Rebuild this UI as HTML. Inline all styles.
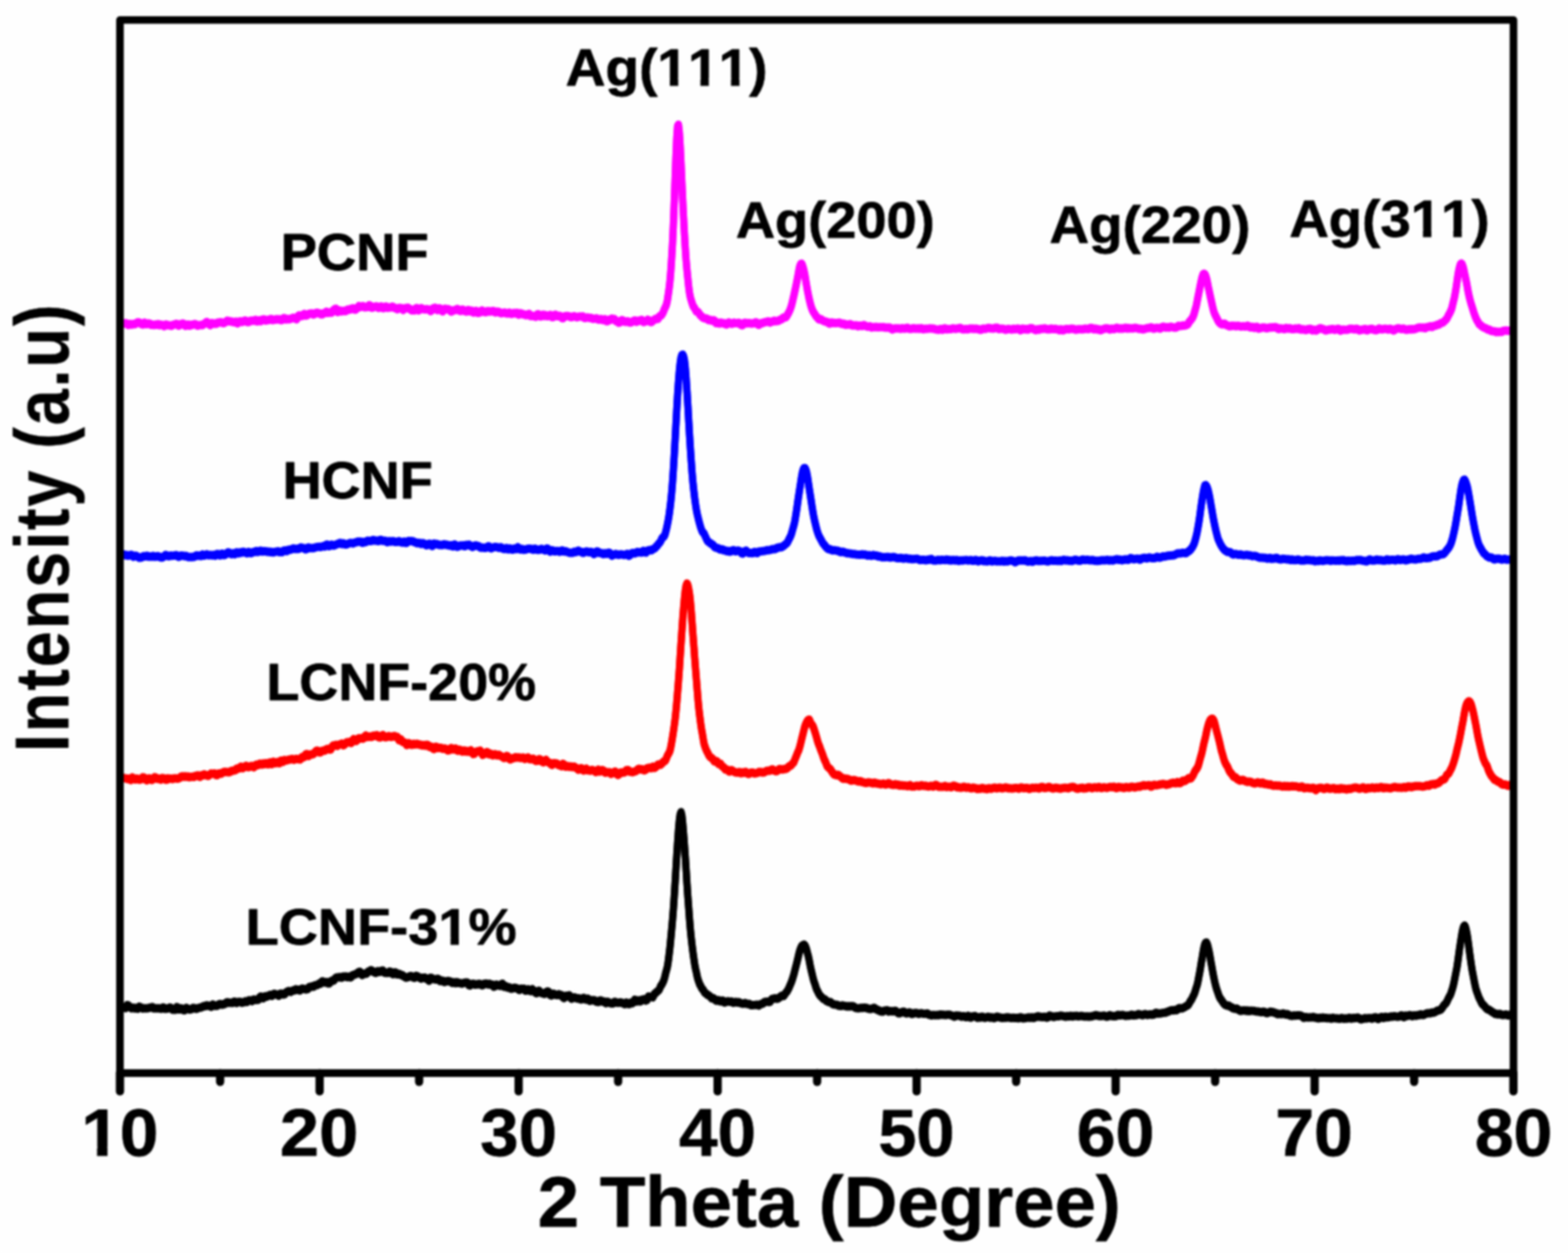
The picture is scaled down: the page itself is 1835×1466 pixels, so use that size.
<!DOCTYPE html>
<html><head><meta charset="utf-8"><title>XRD</title><style>html,body{margin:0;padding:0;background:#fefefe;overflow:hidden}svg{display:block;filter:blur(1.1px)}</style></head><body>
<svg xmlns="http://www.w3.org/2000/svg" width="1835" height="1466" viewBox="0 0 1835 1466">
<defs><clipPath id="clip0" clipPathUnits="userSpaceOnUse"><path clip-rule="evenodd" d="M0,0H1835V1466H0ZM770.4,91.8H783.9V103.8H770.4ZM793.7,91.8H819.7V103.8H793.7ZM829.5,91.8H855.5V103.8H829.5ZM865.4,91.8H878.0V103.8H865.4Z"/></clipPath><clipPath id="clip1" clipPathUnits="userSpaceOnUse"><path clip-rule="evenodd" d="M0,0H1835V1466H0ZM1651.9,268.5H1665.3V280.5H1651.9ZM1675.1,268.5H1700.8V280.5H1675.1ZM1710.6,268.5H1723.2V280.5H1710.6Z"/></clipPath><clipPath id="clip2" clipPathUnits="userSpaceOnUse"><path clip-rule="evenodd" d="M0,0H1835V1466H0ZM514.0,1096.7H527.3V1108.6H514.0ZM537.0,1096.7H549.5V1108.6H537.0Z"/></clipPath><clipPath id="clip3" clipPathUnits="userSpaceOnUse"><path clip-rule="evenodd" d="M0,0H1835V1466H0ZM97.3,1341.5H113.6V1355.3H97.3ZM125.8,1341.5H141.0V1355.3H125.8Z"/></clipPath></defs>
<rect width="1835" height="1466" fill="#fefefe"/>
<path transform="translate(0,-0.75)" d="M145.0,378.7L146.0,378.2L147.0,378.1L148.0,378.4L149.0,379.5L150.0,380.1L151.0,379.3L152.0,379.0L153.0,379.7L154.0,379.9L155.0,379.4L156.0,378.9L157.0,379.3L158.0,379.4L159.0,378.5L160.0,377.9L161.0,377.2L162.0,377.1L163.0,377.4L164.0,378.2L165.0,378.7L166.0,379.5L167.0,379.7L168.0,378.7L169.0,377.6L170.0,378.4L171.0,379.4L172.0,379.3L173.0,378.5L174.0,378.5L175.0,378.6L176.0,379.3L177.0,380.1L178.0,379.8L179.0,380.0L180.0,380.4L181.0,379.9L182.0,379.8L183.0,380.0L184.0,379.6L185.0,379.3L186.0,380.1L187.0,380.5L188.0,379.8L189.0,380.2L190.0,380.3L191.0,380.6L192.0,381.6L193.0,381.0L194.0,379.7L195.0,379.9L196.0,380.5L197.0,380.5L198.0,380.6L199.0,380.7L200.0,381.2L201.0,381.2L202.0,380.3L203.0,379.9L204.0,379.8L205.0,379.5L206.0,378.9L207.0,379.1L208.0,380.1L209.0,381.1L210.0,380.7L211.0,379.3L212.0,379.1L213.0,379.3L214.0,378.6L215.0,379.0L216.0,380.3L217.0,381.3L218.0,381.0L219.0,380.0L220.0,379.7L221.0,380.3L222.0,381.0L223.0,380.3L224.0,379.9L225.0,380.2L226.0,380.0L227.0,379.4L228.0,379.1L229.0,379.5L230.0,380.2L231.0,381.0L232.0,381.0L233.0,380.5L234.0,380.4L235.0,380.3L236.0,380.5L237.0,380.3L238.0,379.6L239.0,378.8L240.0,378.4L241.0,377.3L242.0,376.8L243.0,377.6L244.0,378.4L245.0,379.6L246.0,380.3L247.0,378.9L248.0,378.1L249.0,378.6L250.0,378.9L251.0,378.5L252.0,378.4L253.0,378.8L254.0,378.4L255.0,377.5L256.0,377.4L257.0,377.4L258.0,377.0L259.0,377.2L260.0,377.4L261.0,378.1L262.0,378.0L263.0,377.4L264.0,376.8L265.0,376.1L266.0,375.2L267.0,375.5L268.0,376.0L269.0,375.8L270.0,376.2L271.0,376.1L272.0,376.6L273.0,376.8L274.0,377.1L275.0,376.7L276.0,376.3L277.0,377.7L278.0,378.2L279.0,377.2L280.0,376.4L281.0,376.0L282.0,376.1L283.0,376.7L284.0,376.4L285.0,375.8L286.0,375.3L287.0,375.0L288.0,375.5L289.0,376.6L290.0,376.9L291.0,376.9L292.0,376.2L293.0,375.4L294.0,375.2L295.0,375.3L296.0,375.4L297.0,375.3L298.0,374.7L299.0,374.2L300.0,375.0L301.0,376.1L302.0,375.2L303.0,374.7L304.0,375.6L305.0,375.8L306.0,374.6L307.0,374.1L308.0,373.7L309.0,373.7L310.0,374.7L311.0,375.0L312.0,374.6L313.0,374.3L314.0,374.5L315.0,374.2L316.0,373.7L317.0,373.1L318.0,373.5L319.0,374.5L320.0,374.4L321.0,374.2L322.0,373.9L323.0,373.4L324.0,373.5L325.0,373.9L326.0,373.6L327.0,373.5L328.0,374.0L329.0,374.6L330.0,374.4L331.0,373.5L332.0,372.3L333.0,372.2L334.0,373.4L335.0,373.8L336.0,373.3L337.0,373.3L338.0,373.6L339.0,373.6L340.0,373.1L341.0,372.6L342.0,372.4L343.0,371.7L344.0,372.0L345.0,372.5L346.0,373.0L347.0,373.5L348.0,372.3L349.0,369.9L350.0,369.1L351.0,369.8L352.0,369.7L353.0,369.9L354.0,369.7L355.0,367.9L356.0,367.4L357.0,368.6L358.0,369.2L359.0,368.9L360.0,368.4L361.0,367.5L362.0,367.0L363.0,367.1L364.0,366.7L365.0,366.7L366.0,367.7L367.0,368.1L368.0,367.6L369.0,366.7L370.0,366.1L371.0,365.9L372.0,366.1L373.0,366.5L374.0,366.6L375.0,367.1L376.0,367.9L377.0,367.8L378.0,366.7L379.0,366.6L380.0,366.4L381.0,365.5L382.0,364.7L383.0,365.3L384.0,366.1L385.0,365.9L386.0,365.6L387.0,365.7L388.0,365.9L389.0,364.7L390.0,363.0L391.0,362.4L392.0,361.5L393.0,361.2L394.0,363.2L395.0,365.0L396.0,364.3L397.0,363.1L398.0,363.3L399.0,364.4L400.0,364.3L401.0,363.8L402.0,363.6L403.0,363.7L404.0,364.1L405.0,363.8L406.0,362.9L407.0,362.1L408.0,362.2L409.0,362.2L410.0,362.1L411.0,361.2L412.0,360.9L413.0,360.8L414.0,360.9L415.0,362.3L416.0,362.3L417.0,361.2L418.0,360.7L419.0,359.5L420.0,358.1L421.0,358.7L422.0,359.3L423.0,358.8L424.0,358.2L425.0,358.3L426.0,359.0L427.0,359.6L428.0,359.4L429.0,359.3L430.0,359.4L431.0,358.3L432.0,357.2L433.0,357.4L434.0,359.2L435.0,360.1L436.0,359.9L437.0,359.4L438.0,359.0L439.0,358.7L440.0,358.4L441.0,358.6L442.0,359.4L443.0,360.3L444.0,360.0L445.0,359.1L446.0,358.6L447.0,359.2L448.0,360.5L449.0,360.5L450.0,359.7L451.0,358.9L452.0,358.7L453.0,359.5L454.0,360.2L455.0,359.8L456.0,359.6L457.0,359.7L458.0,359.4L459.0,358.8L460.0,359.1L461.0,359.8L462.0,360.4L463.0,360.5L464.0,361.3L465.0,361.8L466.0,360.9L467.0,360.3L468.0,360.6L469.0,360.5L470.0,360.5L471.0,361.8L472.0,362.6L473.0,361.6L474.0,360.6L475.0,360.4L476.0,360.5L477.0,360.0L478.0,360.4L479.0,361.5L480.0,361.7L481.0,362.6L482.0,363.2L483.0,362.8L484.0,363.0L485.0,363.2L486.0,361.9L487.0,360.6L488.0,360.4L489.0,361.7L490.0,363.1L491.0,362.6L492.0,361.1L493.0,360.5L494.0,361.0L495.0,361.6L496.0,361.8L497.0,362.0L498.0,362.0L499.0,361.7L500.0,361.8L501.0,362.0L502.0,362.2L503.0,363.1L504.0,363.9L505.0,363.1L506.0,361.7L507.0,360.8L508.0,360.7L509.0,360.1L510.0,360.6L511.0,362.3L512.0,362.8L513.0,361.7L514.0,360.7L515.0,361.0L516.0,361.9L517.0,363.5L518.0,364.4L519.0,363.1L520.0,361.6L521.0,361.2L522.0,361.8L523.0,361.9L524.0,361.6L525.0,361.9L526.0,362.3L527.0,363.7L528.0,364.5L529.0,364.1L530.0,363.3L531.0,363.2L532.0,362.9L533.0,362.5L534.0,362.1L535.0,361.5L536.0,361.9L537.0,363.2L538.0,363.6L539.0,363.9L540.0,363.6L541.0,362.3L542.0,362.4L543.0,363.5L544.0,364.0L545.0,364.1L546.0,364.5L547.0,363.9L548.0,362.8L549.0,363.1L550.0,364.3L551.0,364.0L552.0,363.5L553.0,364.8L554.0,365.7L555.0,365.5L556.0,364.5L557.0,363.8L558.0,364.5L559.0,366.0L560.0,366.0L561.0,365.7L562.0,364.7L563.0,363.9L564.0,363.3L565.0,364.1L566.0,364.9L567.0,364.7L568.0,365.4L569.0,365.1L570.0,364.2L571.0,364.0L572.0,364.4L573.0,364.6L574.0,364.4L575.0,364.2L576.0,364.2L577.0,363.8L578.0,364.0L579.0,365.1L580.0,365.5L581.0,364.7L582.0,364.7L583.0,364.7L584.0,365.0L585.0,365.9L586.0,366.3L587.0,366.6L588.0,366.1L589.0,366.0L590.0,365.8L591.0,365.8L592.0,366.4L593.0,366.7L594.0,366.9L595.0,366.3L596.0,365.8L597.0,366.4L598.0,367.2L599.0,367.4L600.0,366.7L601.0,366.2L602.0,366.2L603.0,366.7L604.0,366.2L605.0,366.0L606.0,367.3L607.0,368.0L608.0,366.8L609.0,366.4L610.0,366.7L611.0,367.3L612.0,367.9L613.0,367.8L614.0,368.1L615.0,368.7L616.0,368.7L617.0,368.6L618.0,367.9L619.0,367.2L620.0,368.1L621.0,369.8L622.0,369.9L623.0,369.7L624.0,369.7L625.0,369.9L626.0,370.5L627.0,370.7L628.0,369.0L629.0,367.7L630.0,367.8L631.0,368.6L632.0,370.1L633.0,370.3L634.0,368.9L635.0,368.4L636.0,369.4L637.0,369.7L638.0,368.5L639.0,369.0L640.0,369.6L641.0,370.0L642.0,369.4L643.0,368.8L644.0,368.4L645.0,369.4L646.0,371.1L647.0,371.1L648.0,369.8L649.0,368.6L650.0,368.2L651.0,369.1L652.0,369.9L653.0,370.1L654.0,369.8L655.0,369.4L656.0,369.9L657.0,371.0L658.0,372.2L659.0,372.4L660.0,371.0L661.0,370.0L662.0,369.9L663.0,369.8L664.0,369.8L665.0,369.9L666.0,370.1L667.0,370.8L668.0,371.1L669.0,371.0L670.0,370.6L671.0,370.1L672.0,370.0L673.0,370.4L674.0,370.8L675.0,371.2L676.0,370.9L677.0,370.4L678.0,370.5L679.0,370.3L680.0,370.5L681.0,370.4L682.0,370.2L683.0,371.3L684.0,372.0L685.0,372.0L686.0,371.7L687.0,371.5L688.0,371.4L689.0,371.7L690.0,372.0L691.0,372.1L692.0,372.0L693.0,372.6L694.0,373.0L695.0,372.9L696.0,372.9L697.0,372.8L698.0,372.4L699.0,373.2L700.0,373.9L701.0,374.0L702.0,373.8L703.0,373.3L704.0,373.6L705.0,374.4L706.0,374.5L707.0,373.8L708.0,373.4L709.0,374.6L710.0,375.8L711.0,375.7L712.0,374.6L713.0,373.9L714.0,374.5L715.0,373.9L716.0,372.9L717.0,373.4L718.0,373.3L719.0,373.3L720.0,374.5L721.0,375.7L722.0,375.7L723.0,376.3L724.0,377.5L725.0,377.4L726.0,376.1L727.0,375.0L728.0,374.4L729.0,374.9L730.0,375.9L731.0,376.4L732.0,376.5L733.0,376.5L734.0,375.9L735.0,376.1L736.0,376.9L737.0,377.3L738.0,377.4L739.0,376.9L740.0,376.3L741.0,376.0L742.0,375.1L743.0,375.0L744.0,376.1L745.0,376.5L746.0,376.0L747.0,375.1L748.0,375.2L749.0,375.3L750.0,374.6L751.0,374.3L752.0,375.5L753.0,376.8L754.0,376.6L755.0,375.9L756.0,375.9L757.0,375.3L758.0,374.1L759.0,374.7L760.0,375.9L761.0,376.6L762.0,376.9L763.0,376.3L764.0,375.2L765.0,374.6L766.0,374.0L767.0,373.0L768.0,372.8L769.0,373.3L770.0,373.0L771.0,371.3L772.0,369.9L773.0,369.4L774.0,368.8L775.0,367.4L776.0,365.7L777.0,363.0L778.0,360.7L779.0,358.6L780.0,356.1L781.0,351.6L782.0,345.0L783.0,338.0L784.0,329.5L785.0,317.6L786.0,302.9L787.0,285.9L788.0,264.5L789.0,238.9L790.0,211.1L791.0,183.9L792.0,160.9L793.0,147.4L794.0,146.0L795.0,154.5L796.0,170.6L797.0,190.9L798.0,213.4L799.0,235.1L800.0,255.1L801.0,273.8L802.0,290.5L803.0,304.7L804.0,316.1L805.0,326.2L806.0,335.7L807.0,343.3L808.0,348.2L809.0,351.4L810.0,354.7L811.0,357.8L812.0,359.3L813.0,360.7L814.0,362.8L815.0,364.3L816.0,364.7L817.0,365.1L818.0,366.5L819.0,368.3L820.0,369.2L821.0,370.1L822.0,371.2L823.0,371.9L824.0,372.2L825.0,372.5L826.0,372.4L827.0,372.7L828.0,373.4L829.0,374.5L830.0,374.5L831.0,374.3L832.0,374.6L833.0,375.2L834.0,375.3L835.0,374.6L836.0,374.9L837.0,376.4L838.0,378.1L839.0,377.9L840.0,377.4L841.0,377.9L842.0,378.4L843.0,377.6L844.0,377.4L845.0,378.1L846.0,378.3L847.0,378.1L848.0,378.3L849.0,379.3L850.0,379.7L851.0,379.0L852.0,378.0L853.0,377.3L854.0,377.9L855.0,378.4L856.0,378.7L857.0,378.7L858.0,378.0L859.0,377.5L860.0,378.0L861.0,378.1L862.0,378.1L863.0,378.1L864.0,377.8L865.0,377.8L866.0,379.1L867.0,379.9L868.0,380.5L869.0,380.5L870.0,379.2L871.0,377.8L872.0,377.6L873.0,377.9L874.0,378.3L875.0,378.3L876.0,377.9L877.0,378.1L878.0,378.1L879.0,378.5L880.0,378.6L881.0,378.4L882.0,378.2L883.0,377.9L884.0,377.3L885.0,377.2L886.0,378.3L887.0,379.7L888.0,380.1L889.0,379.5L890.0,378.5L891.0,378.0L892.0,378.2L893.0,377.8L894.0,377.3L895.0,377.0L896.0,376.9L897.0,376.6L898.0,376.3L899.0,376.0L900.0,376.7L901.0,377.4L902.0,376.8L903.0,376.2L904.0,376.3L905.0,376.0L906.0,375.3L907.0,375.4L908.0,375.8L909.0,375.6L910.0,375.5L911.0,375.4L912.0,374.5L913.0,374.0L914.0,373.8L915.0,373.4L916.0,372.1L917.0,371.4L918.0,371.4L919.0,371.4L920.0,370.8L921.0,369.4L922.0,367.3L923.0,365.8L924.0,363.7L925.0,361.2L926.0,358.4L927.0,354.5L928.0,350.2L929.0,346.1L930.0,341.5L931.0,336.8L932.0,332.1L933.0,327.0L934.0,321.8L935.0,316.1L936.0,311.4L937.0,309.0L938.0,308.5L939.0,310.1L940.0,313.4L941.0,317.3L942.0,322.2L943.0,328.5L944.0,334.4L945.0,339.9L946.0,345.0L947.0,349.8L948.0,354.0L949.0,357.9L950.0,360.9L951.0,363.4L952.0,365.2L953.0,366.6L954.0,368.3L955.0,369.9L956.0,371.0L957.0,372.0L958.0,373.4L959.0,373.7L960.0,373.3L961.0,373.5L962.0,374.4L963.0,375.1L964.0,375.5L965.0,375.9L966.0,376.2L967.0,376.6L968.0,376.7L969.0,377.3L970.0,378.3L971.0,378.7L972.0,377.8L973.0,377.3L974.0,377.6L975.0,378.0L976.0,377.8L977.0,377.9L978.0,378.1L979.0,377.9L980.0,377.9L981.0,377.8L982.0,377.5L983.0,377.8L984.0,378.6L985.0,379.1L986.0,378.9L987.0,378.6L988.0,379.1L989.0,379.9L990.0,380.1L991.0,379.7L992.0,379.6L993.0,379.8L994.0,379.6L995.0,379.3L996.0,379.8L997.0,380.7L998.0,380.9L999.0,380.9L1000.0,380.7L1001.0,380.7L1002.0,380.5L1003.0,381.0L1004.0,381.8L1005.0,381.5L1006.0,380.9L1007.0,380.9L1008.0,381.3L1009.0,381.5L1010.0,380.8L1011.0,380.3L1012.0,380.8L1013.0,381.3L1014.0,381.8L1015.0,382.2L1016.0,382.2L1017.0,382.0L1018.0,381.8L1019.0,382.6L1020.0,383.2L1021.0,383.0L1022.0,382.6L1023.0,382.8L1024.0,382.9L1025.0,382.4L1026.0,382.4L1027.0,382.9L1028.0,383.0L1029.0,382.8L1030.0,382.8L1031.0,382.9L1032.0,382.9L1033.0,382.8L1034.0,382.7L1035.0,383.1L1036.0,383.4L1037.0,383.1L1038.0,383.3L1039.0,383.5L1040.0,383.3L1041.0,383.3L1042.0,383.6L1043.0,384.6L1044.0,385.5L1045.0,385.2L1046.0,384.5L1047.0,384.3L1048.0,384.2L1049.0,384.4L1050.0,384.4L1051.0,384.1L1052.0,384.3L1053.0,384.6L1054.0,384.7L1055.0,384.4L1056.0,384.0L1057.0,384.3L1058.0,384.6L1059.0,384.5L1060.0,384.3L1061.0,383.7L1062.0,383.5L1063.0,384.3L1064.0,384.8L1065.0,384.6L1066.0,384.6L1067.0,384.7L1068.0,384.2L1069.0,384.0L1070.0,384.4L1071.0,384.6L1072.0,384.4L1073.0,384.5L1074.0,384.2L1075.0,384.2L1076.0,384.7L1077.0,384.4L1078.0,383.9L1079.0,384.3L1080.0,385.1L1081.0,385.2L1082.0,384.8L1083.0,384.8L1084.0,384.8L1085.0,384.6L1086.0,384.6L1087.0,384.5L1088.0,384.3L1089.0,384.3L1090.0,384.5L1091.0,384.5L1092.0,384.4L1093.0,384.6L1094.0,385.1L1095.0,385.3L1096.0,385.5L1097.0,385.6L1098.0,385.8L1099.0,385.7L1100.0,385.1L1101.0,384.9L1102.0,385.2L1103.0,385.8L1104.0,385.4L1105.0,384.1L1106.0,384.1L1107.0,384.9L1108.0,385.3L1109.0,385.2L1110.0,385.0L1111.0,385.1L1112.0,385.1L1113.0,385.0L1114.0,384.7L1115.0,384.1L1116.0,384.3L1117.0,384.5L1118.0,384.8L1119.0,384.6L1120.0,384.4L1121.0,384.4L1122.0,384.1L1123.0,383.8L1124.0,383.8L1125.0,384.5L1126.0,385.1L1127.0,385.3L1128.0,385.1L1129.0,385.2L1130.0,384.9L1131.0,384.9L1132.0,385.2L1133.0,385.2L1134.0,384.8L1135.0,384.5L1136.0,384.5L1137.0,384.5L1138.0,384.5L1139.0,384.9L1140.0,384.8L1141.0,384.7L1142.0,384.5L1143.0,384.8L1144.0,384.9L1145.0,385.1L1146.0,385.6L1147.0,385.8L1148.0,385.8L1149.0,385.4L1150.0,384.6L1151.0,384.5L1152.0,384.8L1153.0,384.8L1154.0,384.6L1155.0,384.2L1156.0,383.8L1157.0,383.7L1158.0,383.7L1159.0,384.2L1160.0,384.3L1161.0,384.3L1162.0,384.5L1163.0,384.4L1164.0,383.8L1165.0,383.4L1166.0,383.4L1167.0,383.5L1168.0,384.3L1169.0,385.0L1170.0,384.9L1171.0,384.7L1172.0,384.5L1173.0,384.7L1174.0,384.8L1175.0,385.1L1176.0,385.6L1177.0,385.9L1178.0,385.5L1179.0,385.0L1180.0,384.8L1181.0,385.0L1182.0,385.2L1183.0,385.4L1184.0,385.6L1185.0,385.4L1186.0,384.6L1187.0,384.8L1188.0,385.3L1189.0,385.0L1190.0,384.6L1191.0,384.5L1192.0,384.6L1193.0,385.5L1194.0,386.4L1195.0,386.0L1196.0,384.9L1197.0,384.5L1198.0,385.0L1199.0,385.3L1200.0,384.9L1201.0,385.0L1202.0,385.6L1203.0,385.6L1204.0,385.0L1205.0,384.3L1206.0,384.0L1207.0,384.0L1208.0,384.2L1209.0,384.9L1210.0,385.2L1211.0,385.8L1212.0,386.3L1213.0,385.9L1214.0,385.3L1215.0,385.6L1216.0,385.7L1217.0,385.0L1218.0,384.6L1219.0,384.6L1220.0,384.7L1221.0,384.9L1222.0,384.2L1223.0,384.2L1224.0,384.7L1225.0,385.1L1226.0,385.3L1227.0,385.3L1228.0,385.4L1229.0,385.2L1230.0,384.5L1231.0,384.6L1232.0,384.9L1233.0,385.1L1234.0,385.1L1235.0,384.8L1236.0,384.9L1237.0,385.4L1238.0,385.4L1239.0,385.6L1240.0,386.4L1241.0,386.3L1242.0,385.3L1243.0,385.7L1244.0,386.5L1245.0,386.2L1246.0,385.5L1247.0,385.1L1248.0,384.9L1249.0,384.9L1250.0,385.1L1251.0,385.3L1252.0,385.0L1253.0,384.7L1254.0,384.5L1255.0,384.7L1256.0,384.7L1257.0,385.1L1258.0,385.6L1259.0,385.7L1260.0,385.6L1261.0,385.4L1262.0,385.2L1263.0,385.1L1264.0,385.1L1265.0,385.2L1266.0,385.1L1267.0,385.4L1268.0,385.2L1269.0,384.7L1270.0,384.5L1271.0,384.6L1272.0,384.8L1273.0,385.0L1274.0,385.1L1275.0,384.4L1276.0,383.6L1277.0,383.7L1278.0,383.9L1279.0,384.7L1280.0,385.4L1281.0,385.1L1282.0,384.4L1283.0,384.7L1284.0,385.5L1285.0,385.4L1286.0,385.3L1287.0,385.9L1288.0,386.4L1289.0,386.0L1290.0,385.4L1291.0,385.2L1292.0,385.0L1293.0,384.4L1294.0,384.2L1295.0,384.3L1296.0,384.3L1297.0,384.6L1298.0,385.2L1299.0,385.5L1300.0,384.8L1301.0,384.5L1302.0,384.7L1303.0,385.0L1304.0,385.1L1305.0,384.4L1306.0,383.8L1307.0,383.5L1308.0,383.9L1309.0,384.5L1310.0,384.5L1311.0,384.1L1312.0,384.2L1313.0,384.6L1314.0,384.6L1315.0,384.3L1316.0,383.9L1317.0,383.5L1318.0,383.9L1319.0,384.4L1320.0,383.8L1321.0,383.9L1322.0,384.3L1323.0,384.2L1324.0,384.0L1325.0,384.2L1326.0,384.3L1327.0,384.0L1328.0,383.5L1329.0,383.7L1330.0,383.8L1331.0,384.0L1332.0,384.5L1333.0,384.8L1334.0,384.8L1335.0,384.6L1336.0,384.9L1337.0,385.3L1338.0,385.4L1339.0,385.1L1340.0,384.5L1341.0,384.3L1342.0,384.2L1343.0,383.8L1344.0,383.8L1345.0,383.8L1346.0,383.4L1347.0,383.0L1348.0,383.3L1349.0,384.0L1350.0,384.6L1351.0,384.6L1352.0,384.1L1353.0,383.7L1354.0,383.5L1355.0,383.7L1356.0,383.9L1357.0,384.3L1358.0,384.5L1359.0,383.6L1360.0,382.7L1361.0,382.3L1362.0,382.3L1363.0,382.7L1364.0,383.4L1365.0,383.2L1366.0,382.7L1367.0,383.2L1368.0,383.4L1369.0,382.8L1370.0,382.3L1371.0,382.4L1372.0,382.7L1373.0,383.0L1374.0,383.3L1375.0,383.3L1376.0,383.3L1377.0,383.0L1378.0,382.1L1379.0,381.3L1380.0,381.3L1381.0,381.5L1382.0,381.4L1383.0,381.3L1384.0,380.8L1385.0,380.6L1386.0,381.0L1387.0,380.8L1388.0,380.4L1389.0,380.1L1390.0,379.5L1391.0,377.9L1392.0,376.1L1393.0,375.1L1394.0,374.0L1395.0,372.5L1396.0,370.9L1397.0,368.5L1398.0,365.0L1399.0,361.4L1400.0,357.8L1401.0,352.7L1402.0,347.3L1403.0,342.5L1404.0,337.4L1405.0,332.2L1406.0,327.7L1407.0,323.6L1408.0,320.9L1409.0,320.3L1410.0,321.0L1411.0,322.7L1412.0,325.9L1413.0,330.5L1414.0,335.6L1415.0,340.1L1416.0,344.9L1417.0,349.5L1418.0,354.0L1419.0,358.6L1420.0,362.7L1421.0,366.0L1422.0,368.4L1423.0,370.2L1424.0,372.3L1425.0,374.4L1426.0,376.2L1427.0,377.5L1428.0,378.3L1429.0,379.1L1430.0,379.6L1431.0,379.2L1432.0,378.6L1433.0,378.6L1434.0,379.4L1435.0,380.4L1436.0,380.6L1437.0,381.1L1438.0,381.6L1439.0,381.9L1440.0,381.7L1441.0,381.2L1442.0,381.0L1443.0,381.2L1444.0,381.2L1445.0,381.2L1446.0,381.6L1447.0,381.7L1448.0,381.2L1449.0,381.1L1450.0,381.3L1451.0,381.7L1452.0,382.1L1453.0,382.0L1454.0,381.8L1455.0,381.6L1456.0,381.9L1457.0,382.0L1458.0,382.1L1459.0,381.6L1460.0,380.9L1461.0,381.4L1462.0,382.4L1463.0,383.1L1464.0,382.9L1465.0,382.4L1466.0,382.4L1467.0,383.3L1468.0,383.7L1469.0,383.1L1470.0,382.4L1471.0,382.4L1472.0,383.5L1473.0,384.5L1474.0,384.3L1475.0,384.0L1476.0,383.5L1477.0,383.3L1478.0,383.4L1479.0,383.1L1480.0,383.2L1481.0,383.8L1482.0,384.1L1483.0,384.1L1484.0,383.8L1485.0,383.3L1486.0,383.1L1487.0,383.4L1488.0,383.3L1489.0,383.0L1490.0,383.0L1491.0,383.1L1492.0,382.8L1493.0,382.8L1494.0,383.2L1495.0,384.1L1496.0,384.9L1497.0,385.0L1498.0,384.1L1499.0,384.1L1500.0,384.6L1501.0,384.6L1502.0,384.8L1503.0,385.1L1504.0,384.5L1505.0,383.8L1506.0,383.9L1507.0,384.5L1508.0,384.5L1509.0,384.0L1510.0,384.2L1511.0,384.9L1512.0,385.1L1513.0,384.9L1514.0,385.1L1515.0,384.9L1516.0,384.3L1517.0,384.5L1518.0,384.8L1519.0,384.4L1520.0,384.0L1521.0,384.7L1522.0,385.6L1523.0,385.5L1524.0,385.2L1525.0,385.6L1526.0,385.5L1527.0,385.8L1528.0,386.2L1529.0,386.0L1530.0,385.3L1531.0,385.0L1532.0,385.0L1533.0,384.6L1534.0,384.8L1535.0,386.2L1536.0,386.6L1537.0,386.3L1538.0,385.8L1539.0,386.3L1540.0,386.8L1541.0,386.5L1542.0,385.6L1543.0,384.9L1544.0,384.5L1545.0,384.0L1546.0,384.2L1547.0,384.8L1548.0,385.0L1549.0,385.2L1550.0,385.9L1551.0,386.6L1552.0,386.5L1553.0,386.1L1554.0,385.9L1555.0,385.4L1556.0,385.4L1557.0,385.5L1558.0,385.1L1559.0,384.9L1560.0,384.9L1561.0,385.6L1562.0,386.1L1563.0,385.6L1564.0,385.3L1565.0,384.9L1566.0,384.6L1567.0,385.1L1568.0,386.4L1569.0,386.9L1570.0,386.2L1571.0,385.6L1572.0,385.7L1573.0,385.8L1574.0,385.9L1575.0,385.9L1576.0,385.9L1577.0,385.8L1578.0,385.3L1579.0,384.9L1580.0,384.6L1581.0,384.6L1582.0,384.7L1583.0,384.9L1584.0,385.1L1585.0,385.4L1586.0,385.4L1587.0,384.8L1588.0,384.7L1589.0,385.1L1590.0,386.0L1591.0,386.6L1592.0,386.3L1593.0,385.9L1594.0,385.8L1595.0,385.5L1596.0,385.6L1597.0,385.0L1598.0,384.9L1599.0,386.3L1600.0,386.5L1601.0,385.5L1602.0,385.3L1603.0,385.4L1604.0,385.1L1605.0,384.7L1606.0,384.9L1607.0,385.5L1608.0,385.9L1609.0,386.1L1610.0,386.3L1611.0,386.3L1612.0,385.6L1613.0,384.9L1614.0,384.3L1615.0,384.7L1616.0,385.4L1617.0,385.3L1618.0,385.3L1619.0,385.1L1620.0,384.8L1621.0,384.8L1622.0,384.8L1623.0,385.1L1624.0,385.6L1625.0,385.5L1626.0,384.9L1627.0,384.7L1628.0,385.1L1629.0,385.5L1630.0,386.2L1631.0,386.7L1632.0,386.1L1633.0,385.3L1634.0,384.8L1635.0,384.4L1636.0,384.1L1637.0,384.2L1638.0,384.4L1639.0,384.7L1640.0,385.0L1641.0,384.7L1642.0,384.4L1643.0,384.6L1644.0,385.3L1645.0,385.7L1646.0,385.8L1647.0,385.7L1648.0,385.4L1649.0,385.1L1650.0,385.4L1651.0,385.5L1652.0,384.9L1653.0,385.1L1654.0,385.4L1655.0,385.1L1656.0,384.9L1657.0,384.7L1658.0,384.1L1659.0,383.8L1660.0,383.3L1661.0,383.1L1662.0,383.2L1663.0,383.4L1664.0,383.5L1665.0,383.3L1666.0,383.2L1667.0,383.9L1668.0,384.1L1669.0,383.4L1670.0,382.7L1671.0,382.6L1672.0,382.6L1673.0,382.1L1674.0,381.7L1675.0,382.4L1676.0,382.6L1677.0,381.5L1678.0,381.3L1679.0,381.2L1680.0,381.0L1681.0,380.6L1682.0,379.9L1683.0,379.8L1684.0,379.8L1685.0,379.0L1686.0,378.2L1687.0,377.8L1688.0,377.5L1689.0,377.1L1690.0,376.1L1691.0,375.1L1692.0,374.0L1693.0,373.0L1694.0,371.2L1695.0,369.0L1696.0,367.4L1697.0,365.5L1698.0,363.4L1699.0,360.7L1700.0,356.6L1701.0,352.4L1702.0,348.4L1703.0,343.2L1704.0,337.3L1705.0,330.3L1706.0,323.2L1707.0,317.3L1708.0,312.8L1709.0,309.6L1710.0,308.3L1711.0,309.1L1712.0,311.5L1713.0,315.3L1714.0,320.3L1715.0,324.7L1716.0,329.3L1717.0,334.7L1718.0,340.4L1719.0,345.3L1720.0,349.4L1721.0,353.2L1722.0,356.7L1723.0,359.7L1724.0,363.0L1725.0,366.4L1726.0,369.1L1727.0,371.6L1728.0,374.0L1729.0,375.7L1730.0,377.3L1731.0,379.1L1732.0,380.0L1733.0,380.6L1734.0,381.7L1735.0,382.4L1736.0,382.8L1737.0,383.5L1738.0,383.8L1739.0,384.0L1740.0,384.9L1741.0,385.6L1742.0,385.7L1743.0,385.8L1744.0,386.5L1745.0,387.1L1746.0,387.3L1747.0,387.4L1748.0,387.6L1749.0,387.6L1750.0,388.1L1751.0,388.5L1752.0,388.2L1753.0,388.2L1754.0,388.5L1755.0,388.3L1756.0,388.2L1757.0,388.4L1758.0,388.1L1759.0,387.1L1760.0,386.9L1761.0,386.9L1762.0,386.8L1763.0,386.8L1764.0,386.9L1765.0,387.1L1766.0,386.9L1767.0,387.0L1768.0,386.9L1769.0,386.6L1770.0,386.8" fill="none" stroke="#ff00ff" stroke-width="8.4" stroke-linejoin="round" stroke-linecap="round"/>
<path transform="translate(0,0.75)" d="M145.0,378.7L146.0,378.2L147.0,378.1L148.0,378.4L149.0,379.5L150.0,380.1L151.0,379.3L152.0,379.0L153.0,379.7L154.0,379.9L155.0,379.4L156.0,378.9L157.0,379.3L158.0,379.4L159.0,378.5L160.0,377.9L161.0,377.2L162.0,377.1L163.0,377.4L164.0,378.2L165.0,378.7L166.0,379.5L167.0,379.7L168.0,378.7L169.0,377.6L170.0,378.4L171.0,379.4L172.0,379.3L173.0,378.5L174.0,378.5L175.0,378.6L176.0,379.3L177.0,380.1L178.0,379.8L179.0,380.0L180.0,380.4L181.0,379.9L182.0,379.8L183.0,380.0L184.0,379.6L185.0,379.3L186.0,380.1L187.0,380.5L188.0,379.8L189.0,380.2L190.0,380.3L191.0,380.6L192.0,381.6L193.0,381.0L194.0,379.7L195.0,379.9L196.0,380.5L197.0,380.5L198.0,380.6L199.0,380.7L200.0,381.2L201.0,381.2L202.0,380.3L203.0,379.9L204.0,379.8L205.0,379.5L206.0,378.9L207.0,379.1L208.0,380.1L209.0,381.1L210.0,380.7L211.0,379.3L212.0,379.1L213.0,379.3L214.0,378.6L215.0,379.0L216.0,380.3L217.0,381.3L218.0,381.0L219.0,380.0L220.0,379.7L221.0,380.3L222.0,381.0L223.0,380.3L224.0,379.9L225.0,380.2L226.0,380.0L227.0,379.4L228.0,379.1L229.0,379.5L230.0,380.2L231.0,381.0L232.0,381.0L233.0,380.5L234.0,380.4L235.0,380.3L236.0,380.5L237.0,380.3L238.0,379.6L239.0,378.8L240.0,378.4L241.0,377.3L242.0,376.8L243.0,377.6L244.0,378.4L245.0,379.6L246.0,380.3L247.0,378.9L248.0,378.1L249.0,378.6L250.0,378.9L251.0,378.5L252.0,378.4L253.0,378.8L254.0,378.4L255.0,377.5L256.0,377.4L257.0,377.4L258.0,377.0L259.0,377.2L260.0,377.4L261.0,378.1L262.0,378.0L263.0,377.4L264.0,376.8L265.0,376.1L266.0,375.2L267.0,375.5L268.0,376.0L269.0,375.8L270.0,376.2L271.0,376.1L272.0,376.6L273.0,376.8L274.0,377.1L275.0,376.7L276.0,376.3L277.0,377.7L278.0,378.2L279.0,377.2L280.0,376.4L281.0,376.0L282.0,376.1L283.0,376.7L284.0,376.4L285.0,375.8L286.0,375.3L287.0,375.0L288.0,375.5L289.0,376.6L290.0,376.9L291.0,376.9L292.0,376.2L293.0,375.4L294.0,375.2L295.0,375.3L296.0,375.4L297.0,375.3L298.0,374.7L299.0,374.2L300.0,375.0L301.0,376.1L302.0,375.2L303.0,374.7L304.0,375.6L305.0,375.8L306.0,374.6L307.0,374.1L308.0,373.7L309.0,373.7L310.0,374.7L311.0,375.0L312.0,374.6L313.0,374.3L314.0,374.5L315.0,374.2L316.0,373.7L317.0,373.1L318.0,373.5L319.0,374.5L320.0,374.4L321.0,374.2L322.0,373.9L323.0,373.4L324.0,373.5L325.0,373.9L326.0,373.6L327.0,373.5L328.0,374.0L329.0,374.6L330.0,374.4L331.0,373.5L332.0,372.3L333.0,372.2L334.0,373.4L335.0,373.8L336.0,373.3L337.0,373.3L338.0,373.6L339.0,373.6L340.0,373.1L341.0,372.6L342.0,372.4L343.0,371.7L344.0,372.0L345.0,372.5L346.0,373.0L347.0,373.5L348.0,372.3L349.0,369.9L350.0,369.1L351.0,369.8L352.0,369.7L353.0,369.9L354.0,369.7L355.0,367.9L356.0,367.4L357.0,368.6L358.0,369.2L359.0,368.9L360.0,368.4L361.0,367.5L362.0,367.0L363.0,367.1L364.0,366.7L365.0,366.7L366.0,367.7L367.0,368.1L368.0,367.6L369.0,366.7L370.0,366.1L371.0,365.9L372.0,366.1L373.0,366.5L374.0,366.6L375.0,367.1L376.0,367.9L377.0,367.8L378.0,366.7L379.0,366.6L380.0,366.4L381.0,365.5L382.0,364.7L383.0,365.3L384.0,366.1L385.0,365.9L386.0,365.6L387.0,365.7L388.0,365.9L389.0,364.7L390.0,363.0L391.0,362.4L392.0,361.5L393.0,361.2L394.0,363.2L395.0,365.0L396.0,364.3L397.0,363.1L398.0,363.3L399.0,364.4L400.0,364.3L401.0,363.8L402.0,363.6L403.0,363.7L404.0,364.1L405.0,363.8L406.0,362.9L407.0,362.1L408.0,362.2L409.0,362.2L410.0,362.1L411.0,361.2L412.0,360.9L413.0,360.8L414.0,360.9L415.0,362.3L416.0,362.3L417.0,361.2L418.0,360.7L419.0,359.5L420.0,358.1L421.0,358.7L422.0,359.3L423.0,358.8L424.0,358.2L425.0,358.3L426.0,359.0L427.0,359.6L428.0,359.4L429.0,359.3L430.0,359.4L431.0,358.3L432.0,357.2L433.0,357.4L434.0,359.2L435.0,360.1L436.0,359.9L437.0,359.4L438.0,359.0L439.0,358.7L440.0,358.4L441.0,358.6L442.0,359.4L443.0,360.3L444.0,360.0L445.0,359.1L446.0,358.6L447.0,359.2L448.0,360.5L449.0,360.5L450.0,359.7L451.0,358.9L452.0,358.7L453.0,359.5L454.0,360.2L455.0,359.8L456.0,359.6L457.0,359.7L458.0,359.4L459.0,358.8L460.0,359.1L461.0,359.8L462.0,360.4L463.0,360.5L464.0,361.3L465.0,361.8L466.0,360.9L467.0,360.3L468.0,360.6L469.0,360.5L470.0,360.5L471.0,361.8L472.0,362.6L473.0,361.6L474.0,360.6L475.0,360.4L476.0,360.5L477.0,360.0L478.0,360.4L479.0,361.5L480.0,361.7L481.0,362.6L482.0,363.2L483.0,362.8L484.0,363.0L485.0,363.2L486.0,361.9L487.0,360.6L488.0,360.4L489.0,361.7L490.0,363.1L491.0,362.6L492.0,361.1L493.0,360.5L494.0,361.0L495.0,361.6L496.0,361.8L497.0,362.0L498.0,362.0L499.0,361.7L500.0,361.8L501.0,362.0L502.0,362.2L503.0,363.1L504.0,363.9L505.0,363.1L506.0,361.7L507.0,360.8L508.0,360.7L509.0,360.1L510.0,360.6L511.0,362.3L512.0,362.8L513.0,361.7L514.0,360.7L515.0,361.0L516.0,361.9L517.0,363.5L518.0,364.4L519.0,363.1L520.0,361.6L521.0,361.2L522.0,361.8L523.0,361.9L524.0,361.6L525.0,361.9L526.0,362.3L527.0,363.7L528.0,364.5L529.0,364.1L530.0,363.3L531.0,363.2L532.0,362.9L533.0,362.5L534.0,362.1L535.0,361.5L536.0,361.9L537.0,363.2L538.0,363.6L539.0,363.9L540.0,363.6L541.0,362.3L542.0,362.4L543.0,363.5L544.0,364.0L545.0,364.1L546.0,364.5L547.0,363.9L548.0,362.8L549.0,363.1L550.0,364.3L551.0,364.0L552.0,363.5L553.0,364.8L554.0,365.7L555.0,365.5L556.0,364.5L557.0,363.8L558.0,364.5L559.0,366.0L560.0,366.0L561.0,365.7L562.0,364.7L563.0,363.9L564.0,363.3L565.0,364.1L566.0,364.9L567.0,364.7L568.0,365.4L569.0,365.1L570.0,364.2L571.0,364.0L572.0,364.4L573.0,364.6L574.0,364.4L575.0,364.2L576.0,364.2L577.0,363.8L578.0,364.0L579.0,365.1L580.0,365.5L581.0,364.7L582.0,364.7L583.0,364.7L584.0,365.0L585.0,365.9L586.0,366.3L587.0,366.6L588.0,366.1L589.0,366.0L590.0,365.8L591.0,365.8L592.0,366.4L593.0,366.7L594.0,366.9L595.0,366.3L596.0,365.8L597.0,366.4L598.0,367.2L599.0,367.4L600.0,366.7L601.0,366.2L602.0,366.2L603.0,366.7L604.0,366.2L605.0,366.0L606.0,367.3L607.0,368.0L608.0,366.8L609.0,366.4L610.0,366.7L611.0,367.3L612.0,367.9L613.0,367.8L614.0,368.1L615.0,368.7L616.0,368.7L617.0,368.6L618.0,367.9L619.0,367.2L620.0,368.1L621.0,369.8L622.0,369.9L623.0,369.7L624.0,369.7L625.0,369.9L626.0,370.5L627.0,370.7L628.0,369.0L629.0,367.7L630.0,367.8L631.0,368.6L632.0,370.1L633.0,370.3L634.0,368.9L635.0,368.4L636.0,369.4L637.0,369.7L638.0,368.5L639.0,369.0L640.0,369.6L641.0,370.0L642.0,369.4L643.0,368.8L644.0,368.4L645.0,369.4L646.0,371.1L647.0,371.1L648.0,369.8L649.0,368.6L650.0,368.2L651.0,369.1L652.0,369.9L653.0,370.1L654.0,369.8L655.0,369.4L656.0,369.9L657.0,371.0L658.0,372.2L659.0,372.4L660.0,371.0L661.0,370.0L662.0,369.9L663.0,369.8L664.0,369.8L665.0,369.9L666.0,370.1L667.0,370.8L668.0,371.1L669.0,371.0L670.0,370.6L671.0,370.1L672.0,370.0L673.0,370.4L674.0,370.8L675.0,371.2L676.0,370.9L677.0,370.4L678.0,370.5L679.0,370.3L680.0,370.5L681.0,370.4L682.0,370.2L683.0,371.3L684.0,372.0L685.0,372.0L686.0,371.7L687.0,371.5L688.0,371.4L689.0,371.7L690.0,372.0L691.0,372.1L692.0,372.0L693.0,372.6L694.0,373.0L695.0,372.9L696.0,372.9L697.0,372.8L698.0,372.4L699.0,373.2L700.0,373.9L701.0,374.0L702.0,373.8L703.0,373.3L704.0,373.6L705.0,374.4L706.0,374.5L707.0,373.8L708.0,373.4L709.0,374.6L710.0,375.8L711.0,375.7L712.0,374.6L713.0,373.9L714.0,374.5L715.0,373.9L716.0,372.9L717.0,373.4L718.0,373.3L719.0,373.3L720.0,374.5L721.0,375.7L722.0,375.7L723.0,376.3L724.0,377.5L725.0,377.4L726.0,376.1L727.0,375.0L728.0,374.4L729.0,374.9L730.0,375.9L731.0,376.4L732.0,376.5L733.0,376.5L734.0,375.9L735.0,376.1L736.0,376.9L737.0,377.3L738.0,377.4L739.0,376.9L740.0,376.3L741.0,376.0L742.0,375.1L743.0,375.0L744.0,376.1L745.0,376.5L746.0,376.0L747.0,375.1L748.0,375.2L749.0,375.3L750.0,374.6L751.0,374.3L752.0,375.5L753.0,376.8L754.0,376.6L755.0,375.9L756.0,375.9L757.0,375.3L758.0,374.1L759.0,374.7L760.0,375.9L761.0,376.6L762.0,376.9L763.0,376.3L764.0,375.2L765.0,374.6L766.0,374.0L767.0,373.0L768.0,372.8L769.0,373.3L770.0,373.0L771.0,371.3L772.0,369.9L773.0,369.4L774.0,368.8L775.0,367.4L776.0,365.7L777.0,363.0L778.0,360.7L779.0,358.6L780.0,356.1L781.0,351.6L782.0,345.0L783.0,338.0L784.0,329.5L785.0,317.6L786.0,302.9L787.0,285.9L788.0,264.5L789.0,238.9L790.0,211.1L791.0,183.9L792.0,160.9L793.0,147.4L794.0,146.0L795.0,154.5L796.0,170.6L797.0,190.9L798.0,213.4L799.0,235.1L800.0,255.1L801.0,273.8L802.0,290.5L803.0,304.7L804.0,316.1L805.0,326.2L806.0,335.7L807.0,343.3L808.0,348.2L809.0,351.4L810.0,354.7L811.0,357.8L812.0,359.3L813.0,360.7L814.0,362.8L815.0,364.3L816.0,364.7L817.0,365.1L818.0,366.5L819.0,368.3L820.0,369.2L821.0,370.1L822.0,371.2L823.0,371.9L824.0,372.2L825.0,372.5L826.0,372.4L827.0,372.7L828.0,373.4L829.0,374.5L830.0,374.5L831.0,374.3L832.0,374.6L833.0,375.2L834.0,375.3L835.0,374.6L836.0,374.9L837.0,376.4L838.0,378.1L839.0,377.9L840.0,377.4L841.0,377.9L842.0,378.4L843.0,377.6L844.0,377.4L845.0,378.1L846.0,378.3L847.0,378.1L848.0,378.3L849.0,379.3L850.0,379.7L851.0,379.0L852.0,378.0L853.0,377.3L854.0,377.9L855.0,378.4L856.0,378.7L857.0,378.7L858.0,378.0L859.0,377.5L860.0,378.0L861.0,378.1L862.0,378.1L863.0,378.1L864.0,377.8L865.0,377.8L866.0,379.1L867.0,379.9L868.0,380.5L869.0,380.5L870.0,379.2L871.0,377.8L872.0,377.6L873.0,377.9L874.0,378.3L875.0,378.3L876.0,377.9L877.0,378.1L878.0,378.1L879.0,378.5L880.0,378.6L881.0,378.4L882.0,378.2L883.0,377.9L884.0,377.3L885.0,377.2L886.0,378.3L887.0,379.7L888.0,380.1L889.0,379.5L890.0,378.5L891.0,378.0L892.0,378.2L893.0,377.8L894.0,377.3L895.0,377.0L896.0,376.9L897.0,376.6L898.0,376.3L899.0,376.0L900.0,376.7L901.0,377.4L902.0,376.8L903.0,376.2L904.0,376.3L905.0,376.0L906.0,375.3L907.0,375.4L908.0,375.8L909.0,375.6L910.0,375.5L911.0,375.4L912.0,374.5L913.0,374.0L914.0,373.8L915.0,373.4L916.0,372.1L917.0,371.4L918.0,371.4L919.0,371.4L920.0,370.8L921.0,369.4L922.0,367.3L923.0,365.8L924.0,363.7L925.0,361.2L926.0,358.4L927.0,354.5L928.0,350.2L929.0,346.1L930.0,341.5L931.0,336.8L932.0,332.1L933.0,327.0L934.0,321.8L935.0,316.1L936.0,311.4L937.0,309.0L938.0,308.5L939.0,310.1L940.0,313.4L941.0,317.3L942.0,322.2L943.0,328.5L944.0,334.4L945.0,339.9L946.0,345.0L947.0,349.8L948.0,354.0L949.0,357.9L950.0,360.9L951.0,363.4L952.0,365.2L953.0,366.6L954.0,368.3L955.0,369.9L956.0,371.0L957.0,372.0L958.0,373.4L959.0,373.7L960.0,373.3L961.0,373.5L962.0,374.4L963.0,375.1L964.0,375.5L965.0,375.9L966.0,376.2L967.0,376.6L968.0,376.7L969.0,377.3L970.0,378.3L971.0,378.7L972.0,377.8L973.0,377.3L974.0,377.6L975.0,378.0L976.0,377.8L977.0,377.9L978.0,378.1L979.0,377.9L980.0,377.9L981.0,377.8L982.0,377.5L983.0,377.8L984.0,378.6L985.0,379.1L986.0,378.9L987.0,378.6L988.0,379.1L989.0,379.9L990.0,380.1L991.0,379.7L992.0,379.6L993.0,379.8L994.0,379.6L995.0,379.3L996.0,379.8L997.0,380.7L998.0,380.9L999.0,380.9L1000.0,380.7L1001.0,380.7L1002.0,380.5L1003.0,381.0L1004.0,381.8L1005.0,381.5L1006.0,380.9L1007.0,380.9L1008.0,381.3L1009.0,381.5L1010.0,380.8L1011.0,380.3L1012.0,380.8L1013.0,381.3L1014.0,381.8L1015.0,382.2L1016.0,382.2L1017.0,382.0L1018.0,381.8L1019.0,382.6L1020.0,383.2L1021.0,383.0L1022.0,382.6L1023.0,382.8L1024.0,382.9L1025.0,382.4L1026.0,382.4L1027.0,382.9L1028.0,383.0L1029.0,382.8L1030.0,382.8L1031.0,382.9L1032.0,382.9L1033.0,382.8L1034.0,382.7L1035.0,383.1L1036.0,383.4L1037.0,383.1L1038.0,383.3L1039.0,383.5L1040.0,383.3L1041.0,383.3L1042.0,383.6L1043.0,384.6L1044.0,385.5L1045.0,385.2L1046.0,384.5L1047.0,384.3L1048.0,384.2L1049.0,384.4L1050.0,384.4L1051.0,384.1L1052.0,384.3L1053.0,384.6L1054.0,384.7L1055.0,384.4L1056.0,384.0L1057.0,384.3L1058.0,384.6L1059.0,384.5L1060.0,384.3L1061.0,383.7L1062.0,383.5L1063.0,384.3L1064.0,384.8L1065.0,384.6L1066.0,384.6L1067.0,384.7L1068.0,384.2L1069.0,384.0L1070.0,384.4L1071.0,384.6L1072.0,384.4L1073.0,384.5L1074.0,384.2L1075.0,384.2L1076.0,384.7L1077.0,384.4L1078.0,383.9L1079.0,384.3L1080.0,385.1L1081.0,385.2L1082.0,384.8L1083.0,384.8L1084.0,384.8L1085.0,384.6L1086.0,384.6L1087.0,384.5L1088.0,384.3L1089.0,384.3L1090.0,384.5L1091.0,384.5L1092.0,384.4L1093.0,384.6L1094.0,385.1L1095.0,385.3L1096.0,385.5L1097.0,385.6L1098.0,385.8L1099.0,385.7L1100.0,385.1L1101.0,384.9L1102.0,385.2L1103.0,385.8L1104.0,385.4L1105.0,384.1L1106.0,384.1L1107.0,384.9L1108.0,385.3L1109.0,385.2L1110.0,385.0L1111.0,385.1L1112.0,385.1L1113.0,385.0L1114.0,384.7L1115.0,384.1L1116.0,384.3L1117.0,384.5L1118.0,384.8L1119.0,384.6L1120.0,384.4L1121.0,384.4L1122.0,384.1L1123.0,383.8L1124.0,383.8L1125.0,384.5L1126.0,385.1L1127.0,385.3L1128.0,385.1L1129.0,385.2L1130.0,384.9L1131.0,384.9L1132.0,385.2L1133.0,385.2L1134.0,384.8L1135.0,384.5L1136.0,384.5L1137.0,384.5L1138.0,384.5L1139.0,384.9L1140.0,384.8L1141.0,384.7L1142.0,384.5L1143.0,384.8L1144.0,384.9L1145.0,385.1L1146.0,385.6L1147.0,385.8L1148.0,385.8L1149.0,385.4L1150.0,384.6L1151.0,384.5L1152.0,384.8L1153.0,384.8L1154.0,384.6L1155.0,384.2L1156.0,383.8L1157.0,383.7L1158.0,383.7L1159.0,384.2L1160.0,384.3L1161.0,384.3L1162.0,384.5L1163.0,384.4L1164.0,383.8L1165.0,383.4L1166.0,383.4L1167.0,383.5L1168.0,384.3L1169.0,385.0L1170.0,384.9L1171.0,384.7L1172.0,384.5L1173.0,384.7L1174.0,384.8L1175.0,385.1L1176.0,385.6L1177.0,385.9L1178.0,385.5L1179.0,385.0L1180.0,384.8L1181.0,385.0L1182.0,385.2L1183.0,385.4L1184.0,385.6L1185.0,385.4L1186.0,384.6L1187.0,384.8L1188.0,385.3L1189.0,385.0L1190.0,384.6L1191.0,384.5L1192.0,384.6L1193.0,385.5L1194.0,386.4L1195.0,386.0L1196.0,384.9L1197.0,384.5L1198.0,385.0L1199.0,385.3L1200.0,384.9L1201.0,385.0L1202.0,385.6L1203.0,385.6L1204.0,385.0L1205.0,384.3L1206.0,384.0L1207.0,384.0L1208.0,384.2L1209.0,384.9L1210.0,385.2L1211.0,385.8L1212.0,386.3L1213.0,385.9L1214.0,385.3L1215.0,385.6L1216.0,385.7L1217.0,385.0L1218.0,384.6L1219.0,384.6L1220.0,384.7L1221.0,384.9L1222.0,384.2L1223.0,384.2L1224.0,384.7L1225.0,385.1L1226.0,385.3L1227.0,385.3L1228.0,385.4L1229.0,385.2L1230.0,384.5L1231.0,384.6L1232.0,384.9L1233.0,385.1L1234.0,385.1L1235.0,384.8L1236.0,384.9L1237.0,385.4L1238.0,385.4L1239.0,385.6L1240.0,386.4L1241.0,386.3L1242.0,385.3L1243.0,385.7L1244.0,386.5L1245.0,386.2L1246.0,385.5L1247.0,385.1L1248.0,384.9L1249.0,384.9L1250.0,385.1L1251.0,385.3L1252.0,385.0L1253.0,384.7L1254.0,384.5L1255.0,384.7L1256.0,384.7L1257.0,385.1L1258.0,385.6L1259.0,385.7L1260.0,385.6L1261.0,385.4L1262.0,385.2L1263.0,385.1L1264.0,385.1L1265.0,385.2L1266.0,385.1L1267.0,385.4L1268.0,385.2L1269.0,384.7L1270.0,384.5L1271.0,384.6L1272.0,384.8L1273.0,385.0L1274.0,385.1L1275.0,384.4L1276.0,383.6L1277.0,383.7L1278.0,383.9L1279.0,384.7L1280.0,385.4L1281.0,385.1L1282.0,384.4L1283.0,384.7L1284.0,385.5L1285.0,385.4L1286.0,385.3L1287.0,385.9L1288.0,386.4L1289.0,386.0L1290.0,385.4L1291.0,385.2L1292.0,385.0L1293.0,384.4L1294.0,384.2L1295.0,384.3L1296.0,384.3L1297.0,384.6L1298.0,385.2L1299.0,385.5L1300.0,384.8L1301.0,384.5L1302.0,384.7L1303.0,385.0L1304.0,385.1L1305.0,384.4L1306.0,383.8L1307.0,383.5L1308.0,383.9L1309.0,384.5L1310.0,384.5L1311.0,384.1L1312.0,384.2L1313.0,384.6L1314.0,384.6L1315.0,384.3L1316.0,383.9L1317.0,383.5L1318.0,383.9L1319.0,384.4L1320.0,383.8L1321.0,383.9L1322.0,384.3L1323.0,384.2L1324.0,384.0L1325.0,384.2L1326.0,384.3L1327.0,384.0L1328.0,383.5L1329.0,383.7L1330.0,383.8L1331.0,384.0L1332.0,384.5L1333.0,384.8L1334.0,384.8L1335.0,384.6L1336.0,384.9L1337.0,385.3L1338.0,385.4L1339.0,385.1L1340.0,384.5L1341.0,384.3L1342.0,384.2L1343.0,383.8L1344.0,383.8L1345.0,383.8L1346.0,383.4L1347.0,383.0L1348.0,383.3L1349.0,384.0L1350.0,384.6L1351.0,384.6L1352.0,384.1L1353.0,383.7L1354.0,383.5L1355.0,383.7L1356.0,383.9L1357.0,384.3L1358.0,384.5L1359.0,383.6L1360.0,382.7L1361.0,382.3L1362.0,382.3L1363.0,382.7L1364.0,383.4L1365.0,383.2L1366.0,382.7L1367.0,383.2L1368.0,383.4L1369.0,382.8L1370.0,382.3L1371.0,382.4L1372.0,382.7L1373.0,383.0L1374.0,383.3L1375.0,383.3L1376.0,383.3L1377.0,383.0L1378.0,382.1L1379.0,381.3L1380.0,381.3L1381.0,381.5L1382.0,381.4L1383.0,381.3L1384.0,380.8L1385.0,380.6L1386.0,381.0L1387.0,380.8L1388.0,380.4L1389.0,380.1L1390.0,379.5L1391.0,377.9L1392.0,376.1L1393.0,375.1L1394.0,374.0L1395.0,372.5L1396.0,370.9L1397.0,368.5L1398.0,365.0L1399.0,361.4L1400.0,357.8L1401.0,352.7L1402.0,347.3L1403.0,342.5L1404.0,337.4L1405.0,332.2L1406.0,327.7L1407.0,323.6L1408.0,320.9L1409.0,320.3L1410.0,321.0L1411.0,322.7L1412.0,325.9L1413.0,330.5L1414.0,335.6L1415.0,340.1L1416.0,344.9L1417.0,349.5L1418.0,354.0L1419.0,358.6L1420.0,362.7L1421.0,366.0L1422.0,368.4L1423.0,370.2L1424.0,372.3L1425.0,374.4L1426.0,376.2L1427.0,377.5L1428.0,378.3L1429.0,379.1L1430.0,379.6L1431.0,379.2L1432.0,378.6L1433.0,378.6L1434.0,379.4L1435.0,380.4L1436.0,380.6L1437.0,381.1L1438.0,381.6L1439.0,381.9L1440.0,381.7L1441.0,381.2L1442.0,381.0L1443.0,381.2L1444.0,381.2L1445.0,381.2L1446.0,381.6L1447.0,381.7L1448.0,381.2L1449.0,381.1L1450.0,381.3L1451.0,381.7L1452.0,382.1L1453.0,382.0L1454.0,381.8L1455.0,381.6L1456.0,381.9L1457.0,382.0L1458.0,382.1L1459.0,381.6L1460.0,380.9L1461.0,381.4L1462.0,382.4L1463.0,383.1L1464.0,382.9L1465.0,382.4L1466.0,382.4L1467.0,383.3L1468.0,383.7L1469.0,383.1L1470.0,382.4L1471.0,382.4L1472.0,383.5L1473.0,384.5L1474.0,384.3L1475.0,384.0L1476.0,383.5L1477.0,383.3L1478.0,383.4L1479.0,383.1L1480.0,383.2L1481.0,383.8L1482.0,384.1L1483.0,384.1L1484.0,383.8L1485.0,383.3L1486.0,383.1L1487.0,383.4L1488.0,383.3L1489.0,383.0L1490.0,383.0L1491.0,383.1L1492.0,382.8L1493.0,382.8L1494.0,383.2L1495.0,384.1L1496.0,384.9L1497.0,385.0L1498.0,384.1L1499.0,384.1L1500.0,384.6L1501.0,384.6L1502.0,384.8L1503.0,385.1L1504.0,384.5L1505.0,383.8L1506.0,383.9L1507.0,384.5L1508.0,384.5L1509.0,384.0L1510.0,384.2L1511.0,384.9L1512.0,385.1L1513.0,384.9L1514.0,385.1L1515.0,384.9L1516.0,384.3L1517.0,384.5L1518.0,384.8L1519.0,384.4L1520.0,384.0L1521.0,384.7L1522.0,385.6L1523.0,385.5L1524.0,385.2L1525.0,385.6L1526.0,385.5L1527.0,385.8L1528.0,386.2L1529.0,386.0L1530.0,385.3L1531.0,385.0L1532.0,385.0L1533.0,384.6L1534.0,384.8L1535.0,386.2L1536.0,386.6L1537.0,386.3L1538.0,385.8L1539.0,386.3L1540.0,386.8L1541.0,386.5L1542.0,385.6L1543.0,384.9L1544.0,384.5L1545.0,384.0L1546.0,384.2L1547.0,384.8L1548.0,385.0L1549.0,385.2L1550.0,385.9L1551.0,386.6L1552.0,386.5L1553.0,386.1L1554.0,385.9L1555.0,385.4L1556.0,385.4L1557.0,385.5L1558.0,385.1L1559.0,384.9L1560.0,384.9L1561.0,385.6L1562.0,386.1L1563.0,385.6L1564.0,385.3L1565.0,384.9L1566.0,384.6L1567.0,385.1L1568.0,386.4L1569.0,386.9L1570.0,386.2L1571.0,385.6L1572.0,385.7L1573.0,385.8L1574.0,385.9L1575.0,385.9L1576.0,385.9L1577.0,385.8L1578.0,385.3L1579.0,384.9L1580.0,384.6L1581.0,384.6L1582.0,384.7L1583.0,384.9L1584.0,385.1L1585.0,385.4L1586.0,385.4L1587.0,384.8L1588.0,384.7L1589.0,385.1L1590.0,386.0L1591.0,386.6L1592.0,386.3L1593.0,385.9L1594.0,385.8L1595.0,385.5L1596.0,385.6L1597.0,385.0L1598.0,384.9L1599.0,386.3L1600.0,386.5L1601.0,385.5L1602.0,385.3L1603.0,385.4L1604.0,385.1L1605.0,384.7L1606.0,384.9L1607.0,385.5L1608.0,385.9L1609.0,386.1L1610.0,386.3L1611.0,386.3L1612.0,385.6L1613.0,384.9L1614.0,384.3L1615.0,384.7L1616.0,385.4L1617.0,385.3L1618.0,385.3L1619.0,385.1L1620.0,384.8L1621.0,384.8L1622.0,384.8L1623.0,385.1L1624.0,385.6L1625.0,385.5L1626.0,384.9L1627.0,384.7L1628.0,385.1L1629.0,385.5L1630.0,386.2L1631.0,386.7L1632.0,386.1L1633.0,385.3L1634.0,384.8L1635.0,384.4L1636.0,384.1L1637.0,384.2L1638.0,384.4L1639.0,384.7L1640.0,385.0L1641.0,384.7L1642.0,384.4L1643.0,384.6L1644.0,385.3L1645.0,385.7L1646.0,385.8L1647.0,385.7L1648.0,385.4L1649.0,385.1L1650.0,385.4L1651.0,385.5L1652.0,384.9L1653.0,385.1L1654.0,385.4L1655.0,385.1L1656.0,384.9L1657.0,384.7L1658.0,384.1L1659.0,383.8L1660.0,383.3L1661.0,383.1L1662.0,383.2L1663.0,383.4L1664.0,383.5L1665.0,383.3L1666.0,383.2L1667.0,383.9L1668.0,384.1L1669.0,383.4L1670.0,382.7L1671.0,382.6L1672.0,382.6L1673.0,382.1L1674.0,381.7L1675.0,382.4L1676.0,382.6L1677.0,381.5L1678.0,381.3L1679.0,381.2L1680.0,381.0L1681.0,380.6L1682.0,379.9L1683.0,379.8L1684.0,379.8L1685.0,379.0L1686.0,378.2L1687.0,377.8L1688.0,377.5L1689.0,377.1L1690.0,376.1L1691.0,375.1L1692.0,374.0L1693.0,373.0L1694.0,371.2L1695.0,369.0L1696.0,367.4L1697.0,365.5L1698.0,363.4L1699.0,360.7L1700.0,356.6L1701.0,352.4L1702.0,348.4L1703.0,343.2L1704.0,337.3L1705.0,330.3L1706.0,323.2L1707.0,317.3L1708.0,312.8L1709.0,309.6L1710.0,308.3L1711.0,309.1L1712.0,311.5L1713.0,315.3L1714.0,320.3L1715.0,324.7L1716.0,329.3L1717.0,334.7L1718.0,340.4L1719.0,345.3L1720.0,349.4L1721.0,353.2L1722.0,356.7L1723.0,359.7L1724.0,363.0L1725.0,366.4L1726.0,369.1L1727.0,371.6L1728.0,374.0L1729.0,375.7L1730.0,377.3L1731.0,379.1L1732.0,380.0L1733.0,380.6L1734.0,381.7L1735.0,382.4L1736.0,382.8L1737.0,383.5L1738.0,383.8L1739.0,384.0L1740.0,384.9L1741.0,385.6L1742.0,385.7L1743.0,385.8L1744.0,386.5L1745.0,387.1L1746.0,387.3L1747.0,387.4L1748.0,387.6L1749.0,387.6L1750.0,388.1L1751.0,388.5L1752.0,388.2L1753.0,388.2L1754.0,388.5L1755.0,388.3L1756.0,388.2L1757.0,388.4L1758.0,388.1L1759.0,387.1L1760.0,386.9L1761.0,386.9L1762.0,386.8L1763.0,386.8L1764.0,386.9L1765.0,387.1L1766.0,386.9L1767.0,387.0L1768.0,386.9L1769.0,386.6L1770.0,386.8" fill="none" stroke="#ff00ff" stroke-width="8.4" stroke-linejoin="round" stroke-linecap="round"/>
<path transform="translate(0,-0.75)" d="M145.0,648.7L146.0,649.4L147.0,649.7L148.0,649.3L149.0,649.7L150.0,650.2L151.0,650.0L152.0,649.6L153.0,649.2L154.0,649.3L155.0,650.4L156.0,651.4L157.0,650.8L158.0,650.1L159.0,650.1L160.0,650.7L161.0,651.4L162.0,652.0L163.0,652.6L164.0,652.5L165.0,652.4L166.0,652.0L167.0,651.3L168.0,650.6L169.0,650.8L170.0,651.1L171.0,650.6L172.0,650.3L173.0,651.1L174.0,651.3L175.0,651.0L176.0,651.1L177.0,651.3L178.0,651.2L179.0,650.5L180.0,650.6L181.0,651.3L182.0,651.5L183.0,651.0L184.0,650.7L185.0,650.7L186.0,651.4L187.0,651.8L188.0,651.7L189.0,652.3L190.0,652.3L191.0,651.6L192.0,651.1L193.0,650.0L194.0,649.3L195.0,649.7L196.0,650.4L197.0,650.7L198.0,650.7L199.0,650.4L200.0,650.0L201.0,650.3L202.0,650.1L203.0,650.1L204.0,650.1L205.0,649.7L206.0,649.5L207.0,649.9L208.0,650.8L209.0,651.5L210.0,651.2L211.0,650.3L212.0,649.9L213.0,650.1L214.0,650.2L215.0,650.1L216.0,650.8L217.0,650.6L218.0,650.4L219.0,651.1L220.0,651.7L221.0,651.7L222.0,651.6L223.0,651.6L224.0,651.9L225.0,651.9L226.0,651.5L227.0,651.5L228.0,651.1L229.0,650.3L230.0,649.8L231.0,650.1L232.0,650.3L233.0,650.0L234.0,650.4L235.0,650.6L236.0,649.8L237.0,648.9L238.0,649.5L239.0,650.1L240.0,649.7L241.0,649.1L242.0,648.6L243.0,649.3L244.0,649.7L245.0,649.6L246.0,649.1L247.0,649.5L248.0,649.8L249.0,649.7L250.0,649.1L251.0,649.4L252.0,650.1L253.0,649.1L254.0,648.3L255.0,648.2L256.0,648.6L257.0,649.7L258.0,649.8L259.0,648.2L260.0,647.7L261.0,648.9L262.0,649.5L263.0,649.4L264.0,648.7L265.0,647.6L266.0,646.9L267.0,646.2L268.0,646.5L269.0,647.4L270.0,647.9L271.0,648.5L272.0,647.7L273.0,647.2L274.0,647.9L275.0,648.4L276.0,647.4L277.0,646.4L278.0,647.0L279.0,647.4L280.0,646.6L281.0,646.3L282.0,646.9L283.0,646.5L284.0,645.7L285.0,645.6L286.0,645.9L287.0,646.4L288.0,646.9L289.0,647.3L290.0,646.7L291.0,645.8L292.0,646.4L293.0,647.1L294.0,647.2L295.0,646.8L296.0,646.0L297.0,645.7L298.0,645.9L299.0,645.1L300.0,644.8L301.0,645.7L302.0,645.7L303.0,645.2L304.0,644.5L305.0,644.3L306.0,644.7L307.0,645.3L308.0,645.3L309.0,644.8L310.0,645.2L311.0,645.0L312.0,645.1L313.0,645.7L314.0,645.5L315.0,645.4L316.0,646.1L317.0,645.8L318.0,645.7L319.0,646.2L320.0,646.3L321.0,645.9L322.0,645.7L323.0,645.4L324.0,645.4L325.0,644.9L326.0,645.2L327.0,646.0L328.0,645.7L329.0,645.7L330.0,646.1L331.0,645.2L332.0,644.2L333.0,644.1L334.0,644.0L335.0,644.7L336.0,644.7L337.0,643.6L338.0,643.1L339.0,643.3L340.0,643.1L341.0,642.7L342.0,642.4L343.0,641.7L344.0,641.8L345.0,642.2L346.0,642.3L347.0,642.2L348.0,641.9L349.0,642.2L350.0,641.9L351.0,641.1L352.0,640.5L353.0,640.7L354.0,641.1L355.0,641.1L356.0,641.6L357.0,642.4L358.0,642.7L359.0,642.3L360.0,641.0L361.0,640.5L362.0,641.1L363.0,641.4L364.0,641.4L365.0,641.2L366.0,641.3L367.0,641.2L368.0,640.9L369.0,640.5L370.0,640.2L371.0,639.9L372.0,639.9L373.0,639.9L374.0,639.7L375.0,640.0L376.0,639.7L377.0,639.4L378.0,638.9L379.0,639.0L380.0,639.4L381.0,638.3L382.0,637.1L383.0,637.1L384.0,638.1L385.0,639.1L386.0,638.8L387.0,638.0L388.0,637.3L389.0,637.6L390.0,638.3L391.0,638.4L392.0,637.5L393.0,637.3L394.0,636.9L395.0,636.3L396.0,636.1L397.0,635.6L398.0,635.2L399.0,636.2L400.0,636.5L401.0,635.8L402.0,635.7L403.0,636.7L404.0,637.0L405.0,637.1L406.0,636.9L407.0,636.2L408.0,635.9L409.0,635.6L410.0,635.3L411.0,635.3L412.0,635.5L413.0,635.8L414.0,635.4L415.0,634.8L416.0,634.6L417.0,634.4L418.0,633.9L419.0,633.7L420.0,633.8L421.0,633.6L422.0,633.6L423.0,634.0L424.0,635.1L425.0,635.0L426.0,634.1L427.0,633.9L428.0,634.2L429.0,633.5L430.0,632.7L431.0,632.6L432.0,632.8L433.0,633.1L434.0,633.0L435.0,632.9L436.0,632.1L437.0,631.8L438.0,632.0L439.0,632.6L440.0,632.4L441.0,632.4L442.0,633.1L443.0,633.1L444.0,632.1L445.0,631.7L446.0,631.8L447.0,632.5L448.0,632.9L449.0,632.8L450.0,632.7L451.0,632.8L452.0,633.2L453.0,634.2L454.0,634.2L455.0,633.1L456.0,633.1L457.0,633.6L458.0,633.7L459.0,633.3L460.0,633.2L461.0,633.4L462.0,634.0L463.0,634.1L464.0,634.0L465.0,634.0L466.0,633.4L467.0,633.1L468.0,633.9L469.0,634.3L470.0,634.4L471.0,634.9L472.0,634.7L473.0,633.6L474.0,633.8L475.0,635.2L476.0,635.1L477.0,633.8L478.0,633.0L479.0,633.1L480.0,633.1L481.0,633.0L482.0,633.3L483.0,633.2L484.0,633.6L485.0,634.5L486.0,634.5L487.0,634.8L488.0,635.5L489.0,635.6L490.0,635.2L491.0,635.1L492.0,635.5L493.0,636.5L494.0,636.3L495.0,635.5L496.0,635.9L497.0,636.7L498.0,637.4L499.0,638.1L500.0,637.8L501.0,636.7L502.0,636.1L503.0,636.1L504.0,636.9L505.0,638.1L506.0,638.9L507.0,637.5L508.0,636.0L509.0,636.3L510.0,636.8L511.0,636.5L512.0,636.6L513.0,637.3L514.0,637.7L515.0,637.6L516.0,637.5L517.0,637.9L518.0,637.6L519.0,637.0L520.0,636.7L521.0,637.2L522.0,637.6L523.0,637.3L524.0,637.8L525.0,638.3L526.0,638.2L527.0,637.9L528.0,638.0L529.0,639.0L530.0,639.3L531.0,638.2L532.0,637.0L533.0,637.5L534.0,639.1L535.0,639.8L536.0,639.5L537.0,639.1L538.0,638.4L539.0,638.1L540.0,638.4L541.0,638.2L542.0,638.0L543.0,638.9L544.0,639.1L545.0,637.8L546.0,637.5L547.0,637.9L548.0,637.5L549.0,637.2L550.0,638.4L551.0,638.9L552.0,639.3L553.0,640.0L554.0,639.4L555.0,638.6L556.0,638.4L557.0,638.1L558.0,638.4L559.0,638.9L560.0,638.9L561.0,639.5L562.0,640.6L563.0,640.9L564.0,640.7L565.0,640.6L566.0,640.8L567.0,641.1L568.0,641.0L569.0,640.9L570.0,640.0L571.0,639.4L572.0,639.2L573.0,640.0L574.0,641.1L575.0,641.5L576.0,640.8L577.0,640.5L578.0,640.3L579.0,640.0L580.0,639.9L581.0,640.1L582.0,640.1L583.0,640.7L584.0,641.0L585.0,640.5L586.0,640.2L587.0,640.8L588.0,641.8L589.0,641.8L590.0,642.4L591.0,642.3L592.0,641.4L593.0,641.3L594.0,642.5L595.0,642.8L596.0,641.8L597.0,641.7L598.0,642.5L599.0,643.0L600.0,643.1L601.0,642.3L602.0,641.8L603.0,641.9L604.0,642.5L605.0,641.4L606.0,640.4L607.0,641.2L608.0,642.4L609.0,643.0L610.0,642.5L611.0,642.3L612.0,642.9L613.0,643.3L614.0,643.0L615.0,643.0L616.0,642.7L617.0,642.2L618.0,642.1L619.0,642.0L620.0,642.0L621.0,642.3L622.0,642.2L623.0,643.0L624.0,643.2L625.0,642.5L626.0,641.9L627.0,642.3L628.0,643.0L629.0,643.4L630.0,643.4L631.0,643.3L632.0,642.8L633.0,642.4L634.0,642.2L635.0,643.0L636.0,643.2L637.0,643.4L638.0,643.9L639.0,643.1L640.0,641.8L641.0,642.1L642.0,643.0L643.0,644.6L644.0,645.4L645.0,644.4L646.0,643.8L647.0,644.0L648.0,644.5L649.0,645.1L650.0,645.1L651.0,644.7L652.0,644.9L653.0,644.6L654.0,645.0L655.0,645.6L656.0,645.3L657.0,644.3L658.0,644.0L659.0,644.5L660.0,645.2L661.0,645.4L662.0,645.0L663.0,645.4L664.0,646.0L665.0,646.2L666.0,646.5L667.0,646.9L668.0,646.7L669.0,646.7L670.0,646.8L671.0,646.5L672.0,645.6L673.0,646.0L674.0,645.9L675.0,645.3L676.0,644.6L677.0,644.3L678.0,644.9L679.0,645.5L680.0,645.8L681.0,645.9L682.0,646.8L683.0,646.7L684.0,646.1L685.0,645.5L686.0,645.3L687.0,645.3L688.0,645.8L689.0,646.2L690.0,646.0L691.0,645.6L692.0,645.8L693.0,646.2L694.0,647.3L695.0,648.3L696.0,647.8L697.0,646.5L698.0,645.4L699.0,645.1L700.0,645.7L701.0,646.8L702.0,647.0L703.0,647.0L704.0,647.2L705.0,647.9L706.0,648.3L707.0,647.7L708.0,647.3L709.0,647.6L710.0,648.0L711.0,647.4L712.0,646.8L713.0,646.7L714.0,647.4L715.0,649.1L716.0,650.1L717.0,649.3L718.0,649.2L719.0,648.9L720.0,648.3L721.0,648.3L722.0,648.6L723.0,649.0L724.0,649.3L725.0,648.6L726.0,648.7L727.0,648.9L728.0,648.7L729.0,649.0L730.0,649.3L731.0,649.2L732.0,649.0L733.0,648.5L734.0,648.0L735.0,649.4L736.0,650.3L737.0,649.8L738.0,648.6L739.0,647.4L740.0,647.1L741.0,647.0L742.0,647.2L743.0,647.5L744.0,647.0L745.0,646.3L746.0,645.8L747.0,646.2L748.0,646.3L749.0,646.0L750.0,646.2L751.0,646.5L752.0,645.4L753.0,644.6L754.0,645.1L755.0,646.3L756.0,646.5L757.0,645.3L758.0,644.0L759.0,643.8L760.0,643.8L761.0,643.5L762.0,643.8L763.0,643.6L764.0,642.6L765.0,642.0L766.0,641.7L767.0,640.8L768.0,639.4L769.0,638.6L770.0,637.3L771.0,635.9L772.0,635.0L773.0,633.5L774.0,631.4L775.0,629.4L776.0,628.4L777.0,627.8L778.0,626.0L779.0,622.6L780.0,618.6L781.0,613.9L782.0,608.8L783.0,602.9L784.0,595.4L785.0,586.9L786.0,577.1L787.0,564.8L788.0,550.3L789.0,534.0L790.0,516.1L791.0,497.5L792.0,479.0L793.0,461.8L794.0,447.1L795.0,434.6L796.0,424.9L797.0,418.5L798.0,415.4L799.0,415.0L800.0,416.9L801.0,421.4L802.0,430.3L803.0,442.9L804.0,458.1L805.0,474.8L806.0,492.4L807.0,509.8L808.0,525.6L809.0,540.1L810.0,553.8L811.0,565.2L812.0,574.5L813.0,582.9L814.0,590.2L815.0,596.6L816.0,601.6L817.0,605.8L818.0,609.9L819.0,613.6L820.0,617.1L821.0,620.0L822.0,622.1L823.0,623.3L824.0,624.4L825.0,626.7L826.0,628.8L827.0,631.1L828.0,633.0L829.0,633.9L830.0,634.5L831.0,635.3L832.0,636.1L833.0,636.7L834.0,637.3L835.0,638.3L836.0,639.6L837.0,640.4L838.0,640.8L839.0,641.0L840.0,641.3L841.0,641.8L842.0,642.5L843.0,643.0L844.0,642.8L845.0,642.6L846.0,643.1L847.0,643.9L848.0,643.8L849.0,644.0L850.0,644.8L851.0,645.0L852.0,644.7L853.0,644.8L854.0,645.5L855.0,645.3L856.0,644.8L857.0,644.2L858.0,643.6L859.0,643.9L860.0,644.8L861.0,645.1L862.0,644.8L863.0,644.3L864.0,644.2L865.0,644.6L866.0,645.0L867.0,646.1L868.0,647.3L869.0,647.7L870.0,647.0L871.0,645.7L872.0,644.7L873.0,644.2L874.0,645.1L875.0,646.2L876.0,646.9L877.0,647.1L878.0,647.0L879.0,647.0L880.0,647.2L881.0,647.1L882.0,646.2L883.0,645.7L884.0,646.0L885.0,646.9L886.0,647.1L887.0,646.3L888.0,645.4L889.0,645.3L890.0,645.2L891.0,645.0L892.0,644.9L893.0,644.8L894.0,644.6L895.0,644.6L896.0,644.3L897.0,643.8L898.0,643.6L899.0,643.6L900.0,643.7L901.0,643.5L902.0,643.2L903.0,642.7L904.0,642.4L905.0,642.6L906.0,642.5L907.0,642.6L908.0,642.1L909.0,641.2L910.0,640.8L911.0,640.7L912.0,640.4L913.0,640.2L914.0,640.4L915.0,640.0L916.0,639.4L917.0,638.7L918.0,637.9L919.0,637.0L920.0,636.2L921.0,635.3L922.0,633.7L923.0,631.7L924.0,629.6L925.0,627.7L926.0,625.2L927.0,621.8L928.0,618.2L929.0,614.8L930.0,610.6L931.0,604.7L932.0,598.5L933.0,591.7L934.0,584.4L935.0,577.8L936.0,571.3L937.0,564.9L938.0,558.4L939.0,552.9L940.0,549.3L941.0,547.6L942.0,547.7L943.0,549.4L944.0,552.8L945.0,558.0L946.0,564.6L947.0,571.3L948.0,577.6L949.0,584.0L950.0,590.6L951.0,597.0L952.0,602.8L953.0,607.7L954.0,612.0L955.0,616.2L956.0,620.1L957.0,623.4L958.0,626.1L959.0,628.1L960.0,629.8L961.0,631.8L962.0,633.6L963.0,635.5L964.0,636.8L965.0,637.8L966.0,639.2L967.0,640.4L968.0,641.2L969.0,642.2L970.0,642.6L971.0,642.4L972.0,643.0L973.0,643.5L974.0,643.9L975.0,644.0L976.0,643.8L977.0,643.8L978.0,644.0L979.0,644.3L980.0,644.6L981.0,644.5L982.0,645.0L983.0,645.7L984.0,646.0L985.0,645.8L986.0,645.5L987.0,645.7L988.0,646.1L989.0,646.5L990.0,646.8L991.0,647.2L992.0,647.3L993.0,647.3L994.0,647.5L995.0,647.7L996.0,647.8L997.0,648.1L998.0,648.2L999.0,648.1L1000.0,648.2L1001.0,648.5L1002.0,648.8L1003.0,648.9L1004.0,648.9L1005.0,649.0L1006.0,649.0L1007.0,649.1L1008.0,648.7L1009.0,648.4L1010.0,649.1L1011.0,649.1L1012.0,648.8L1013.0,648.9L1014.0,649.4L1015.0,650.1L1016.0,649.9L1017.0,649.4L1018.0,649.7L1019.0,650.2L1020.0,650.4L1021.0,649.7L1022.0,649.3L1023.0,649.8L1024.0,650.1L1025.0,650.0L1026.0,650.0L1027.0,650.8L1028.0,651.2L1029.0,650.8L1030.0,651.1L1031.0,651.6L1032.0,652.1L1033.0,652.0L1034.0,651.8L1035.0,652.0L1036.0,652.0L1037.0,651.8L1038.0,651.9L1039.0,651.6L1040.0,651.7L1041.0,652.4L1042.0,652.3L1043.0,652.1L1044.0,652.0L1045.0,651.7L1046.0,651.6L1047.0,652.0L1048.0,652.4L1049.0,652.8L1050.0,653.1L1051.0,653.0L1052.0,653.1L1053.0,653.1L1054.0,652.8L1055.0,652.9L1056.0,653.1L1057.0,653.5L1058.0,653.6L1059.0,653.2L1060.0,653.0L1061.0,653.1L1062.0,653.4L1063.0,653.7L1064.0,653.6L1065.0,653.6L1066.0,654.1L1067.0,654.2L1068.0,654.0L1069.0,654.2L1070.0,654.0L1071.0,653.9L1072.0,653.9L1073.0,653.8L1074.0,653.9L1075.0,654.4L1076.0,655.1L1077.0,655.2L1078.0,655.0L1079.0,655.0L1080.0,654.9L1081.0,654.9L1082.0,655.1L1083.0,655.4L1084.0,655.6L1085.0,655.1L1086.0,654.7L1087.0,655.0L1088.0,654.8L1089.0,654.2L1090.0,654.0L1091.0,654.9L1092.0,655.6L1093.0,655.7L1094.0,655.9L1095.0,655.9L1096.0,655.6L1097.0,655.3L1098.0,655.0L1099.0,655.2L1100.0,655.5L1101.0,655.3L1102.0,654.9L1103.0,655.1L1104.0,655.1L1105.0,655.1L1106.0,655.2L1107.0,654.9L1108.0,654.6L1109.0,655.0L1110.0,655.5L1111.0,655.2L1112.0,655.4L1113.0,655.7L1114.0,655.6L1115.0,655.1L1116.0,655.2L1117.0,655.6L1118.0,655.7L1119.0,655.3L1120.0,655.3L1121.0,655.9L1122.0,656.2L1123.0,655.9L1124.0,655.6L1125.0,655.7L1126.0,655.8L1127.0,655.7L1128.0,655.4L1129.0,655.4L1130.0,655.4L1131.0,655.3L1132.0,655.6L1133.0,655.7L1134.0,655.6L1135.0,655.5L1136.0,655.3L1137.0,655.6L1138.0,656.0L1139.0,656.1L1140.0,656.0L1141.0,655.3L1142.0,655.1L1143.0,655.7L1144.0,656.4L1145.0,656.8L1146.0,656.3L1147.0,655.9L1148.0,655.8L1149.0,655.5L1150.0,655.7L1151.0,656.6L1152.0,656.6L1153.0,656.5L1154.0,656.6L1155.0,656.8L1156.0,656.6L1157.0,656.3L1158.0,655.7L1159.0,655.7L1160.0,656.5L1161.0,656.9L1162.0,656.6L1163.0,656.3L1164.0,656.1L1165.0,656.2L1166.0,656.7L1167.0,656.7L1168.0,656.6L1169.0,656.6L1170.0,656.7L1171.0,656.7L1172.0,656.4L1173.0,656.1L1174.0,656.6L1175.0,657.0L1176.0,656.5L1177.0,656.4L1178.0,656.7L1179.0,656.8L1180.0,656.4L1181.0,655.9L1182.0,655.9L1183.0,655.8L1184.0,655.9L1185.0,656.3L1186.0,656.6L1187.0,657.2L1188.0,657.8L1189.0,657.4L1190.0,656.7L1191.0,656.1L1192.0,655.8L1193.0,655.7L1194.0,655.7L1195.0,655.7L1196.0,655.9L1197.0,655.9L1198.0,655.7L1199.0,655.5L1200.0,655.7L1201.0,656.3L1202.0,656.7L1203.0,657.0L1204.0,656.9L1205.0,656.6L1206.0,656.4L1207.0,656.5L1208.0,657.2L1209.0,657.1L1210.0,656.4L1211.0,656.0L1212.0,655.9L1213.0,655.6L1214.0,655.9L1215.0,656.4L1216.0,656.4L1217.0,656.3L1218.0,656.4L1219.0,656.1L1220.0,656.1L1221.0,656.0L1222.0,655.9L1223.0,656.1L1224.0,656.3L1225.0,656.7L1226.0,656.7L1227.0,656.7L1228.0,656.2L1229.0,656.0L1230.0,655.6L1231.0,655.5L1232.0,656.0L1233.0,656.1L1234.0,656.0L1235.0,656.1L1236.0,656.0L1237.0,656.1L1238.0,656.3L1239.0,656.0L1240.0,655.8L1241.0,656.4L1242.0,656.3L1243.0,655.7L1244.0,655.2L1245.0,654.9L1246.0,655.2L1247.0,655.7L1248.0,655.6L1249.0,655.4L1250.0,655.8L1251.0,656.2L1252.0,656.0L1253.0,655.9L1254.0,656.3L1255.0,656.2L1256.0,655.8L1257.0,655.3L1258.0,654.9L1259.0,655.0L1260.0,655.3L1261.0,655.7L1262.0,655.9L1263.0,656.1L1264.0,656.0L1265.0,655.6L1266.0,655.0L1267.0,654.6L1268.0,654.9L1269.0,655.1L1270.0,655.2L1271.0,655.1L1272.0,654.9L1273.0,655.0L1274.0,655.3L1275.0,655.5L1276.0,655.5L1277.0,655.6L1278.0,655.4L1279.0,655.2L1280.0,655.7L1281.0,656.1L1282.0,655.9L1283.0,656.2L1284.0,656.4L1285.0,656.2L1286.0,655.9L1287.0,656.1L1288.0,655.8L1289.0,655.4L1290.0,655.4L1291.0,655.5L1292.0,655.5L1293.0,655.5L1294.0,655.6L1295.0,655.1L1296.0,655.0L1297.0,655.5L1298.0,655.8L1299.0,655.6L1300.0,655.3L1301.0,655.5L1302.0,655.8L1303.0,655.6L1304.0,655.0L1305.0,654.9L1306.0,654.6L1307.0,654.3L1308.0,654.6L1309.0,655.1L1310.0,654.8L1311.0,654.8L1312.0,655.2L1313.0,655.5L1314.0,655.2L1315.0,654.7L1316.0,654.8L1317.0,654.9L1318.0,654.5L1319.0,654.5L1320.0,655.0L1321.0,654.9L1322.0,653.9L1323.0,653.0L1324.0,653.1L1325.0,653.6L1326.0,654.1L1327.0,654.4L1328.0,654.1L1329.0,653.9L1330.0,653.8L1331.0,653.7L1332.0,653.8L1333.0,654.2L1334.0,654.8L1335.0,654.4L1336.0,653.5L1337.0,653.1L1338.0,652.9L1339.0,652.7L1340.0,652.8L1341.0,653.2L1342.0,653.4L1343.0,653.1L1344.0,652.6L1345.0,652.3L1346.0,652.4L1347.0,652.7L1348.0,653.0L1349.0,653.1L1350.0,653.0L1351.0,653.1L1352.0,652.8L1353.0,652.2L1354.0,651.5L1355.0,651.6L1356.0,652.3L1357.0,652.6L1358.0,652.3L1359.0,651.9L1360.0,651.4L1361.0,651.0L1362.0,651.0L1363.0,651.2L1364.0,651.0L1365.0,650.5L1366.0,650.3L1367.0,650.4L1368.0,650.1L1369.0,649.9L1370.0,650.1L1371.0,649.9L1372.0,649.7L1373.0,649.8L1374.0,649.6L1375.0,649.0L1376.0,648.6L1377.0,648.0L1378.0,647.5L1379.0,647.4L1380.0,647.6L1381.0,647.4L1382.0,647.4L1383.0,647.1L1384.0,646.8L1385.0,646.9L1386.0,647.0L1387.0,647.2L1388.0,647.1L1389.0,646.5L1390.0,645.7L1391.0,644.9L1392.0,644.3L1393.0,643.4L1394.0,642.1L1395.0,640.8L1396.0,639.2L1397.0,637.2L1398.0,634.5L1399.0,631.0L1400.0,627.1L1401.0,622.6L1402.0,616.9L1403.0,611.2L1404.0,604.7L1405.0,597.0L1406.0,589.8L1407.0,583.1L1408.0,576.8L1409.0,571.8L1410.0,568.0L1411.0,567.5L1412.0,568.8L1413.0,570.9L1414.0,574.1L1415.0,578.6L1416.0,583.8L1417.0,589.6L1418.0,595.2L1419.0,601.2L1420.0,606.9L1421.0,611.9L1422.0,616.7L1423.0,621.1L1424.0,625.1L1425.0,628.9L1426.0,631.8L1427.0,633.9L1428.0,636.1L1429.0,638.0L1430.0,639.6L1431.0,641.1L1432.0,642.3L1433.0,643.4L1434.0,644.2L1435.0,644.9L1436.0,645.5L1437.0,645.9L1438.0,645.9L1439.0,646.0L1440.0,646.3L1441.0,647.2L1442.0,648.1L1443.0,648.7L1444.0,648.6L1445.0,648.2L1446.0,648.1L1447.0,648.3L1448.0,648.7L1449.0,649.1L1450.0,649.0L1451.0,648.6L1452.0,648.7L1453.0,649.4L1454.0,649.4L1455.0,649.5L1456.0,649.7L1457.0,649.5L1458.0,649.3L1459.0,649.2L1460.0,649.2L1461.0,649.7L1462.0,649.7L1463.0,649.7L1464.0,650.1L1465.0,650.6L1466.0,650.7L1467.0,650.5L1468.0,650.3L1469.0,650.5L1470.0,650.7L1471.0,651.3L1472.0,651.7L1473.0,652.1L1474.0,652.6L1475.0,652.6L1476.0,652.4L1477.0,652.4L1478.0,652.5L1479.0,652.9L1480.0,652.9L1481.0,652.7L1482.0,653.1L1483.0,653.5L1484.0,653.6L1485.0,653.3L1486.0,652.8L1487.0,653.1L1488.0,653.9L1489.0,653.8L1490.0,653.4L1491.0,653.6L1492.0,653.4L1493.0,652.8L1494.0,652.6L1495.0,653.2L1496.0,654.0L1497.0,654.3L1498.0,654.4L1499.0,654.6L1500.0,654.3L1501.0,653.8L1502.0,653.9L1503.0,654.0L1504.0,654.0L1505.0,654.2L1506.0,654.5L1507.0,654.4L1508.0,654.3L1509.0,654.8L1510.0,655.3L1511.0,654.7L1512.0,654.4L1513.0,654.9L1514.0,655.4L1515.0,655.2L1516.0,655.1L1517.0,655.2L1518.0,654.9L1519.0,654.6L1520.0,654.9L1521.0,655.3L1522.0,655.7L1523.0,655.8L1524.0,655.8L1525.0,655.9L1526.0,655.8L1527.0,655.6L1528.0,655.0L1529.0,654.9L1530.0,655.3L1531.0,655.2L1532.0,655.3L1533.0,655.5L1534.0,655.5L1535.0,655.7L1536.0,655.7L1537.0,655.4L1538.0,656.1L1539.0,656.7L1540.0,656.3L1541.0,656.1L1542.0,656.4L1543.0,656.4L1544.0,655.8L1545.0,655.7L1546.0,655.9L1547.0,656.1L1548.0,656.2L1549.0,656.1L1550.0,655.9L1551.0,655.7L1552.0,655.5L1553.0,655.5L1554.0,655.6L1555.0,655.6L1556.0,655.7L1557.0,656.2L1558.0,655.9L1559.0,655.6L1560.0,655.9L1561.0,655.9L1562.0,655.9L1563.0,656.0L1564.0,656.0L1565.0,655.9L1566.0,655.8L1567.0,656.1L1568.0,656.1L1569.0,655.4L1570.0,655.5L1571.0,655.7L1572.0,655.3L1573.0,655.5L1574.0,656.2L1575.0,656.4L1576.0,656.6L1577.0,656.4L1578.0,656.0L1579.0,656.1L1580.0,656.3L1581.0,656.4L1582.0,656.1L1583.0,655.9L1584.0,656.1L1585.0,656.3L1586.0,656.0L1587.0,655.4L1588.0,655.3L1589.0,655.5L1590.0,655.3L1591.0,655.2L1592.0,655.1L1593.0,655.4L1594.0,655.8L1595.0,656.0L1596.0,656.1L1597.0,656.4L1598.0,656.5L1599.0,656.9L1600.0,656.5L1601.0,655.8L1602.0,654.9L1603.0,654.4L1604.0,654.9L1605.0,655.7L1606.0,655.9L1607.0,655.7L1608.0,655.9L1609.0,655.7L1610.0,655.2L1611.0,654.6L1612.0,654.9L1613.0,655.3L1614.0,655.5L1615.0,655.3L1616.0,655.2L1617.0,655.6L1618.0,655.8L1619.0,655.9L1620.0,656.0L1621.0,655.8L1622.0,655.2L1623.0,654.5L1624.0,654.7L1625.0,655.5L1626.0,655.6L1627.0,655.3L1628.0,655.0L1629.0,655.0L1630.0,655.0L1631.0,654.9L1632.0,655.2L1633.0,655.7L1634.0,655.3L1635.0,654.6L1636.0,654.3L1637.0,654.6L1638.0,655.1L1639.0,655.2L1640.0,655.0L1641.0,654.7L1642.0,654.5L1643.0,654.6L1644.0,655.1L1645.0,655.5L1646.0,655.5L1647.0,654.8L1648.0,654.6L1649.0,654.7L1650.0,654.3L1651.0,653.8L1652.0,653.8L1653.0,654.2L1654.0,654.4L1655.0,654.4L1656.0,654.6L1657.0,654.6L1658.0,654.2L1659.0,653.9L1660.0,653.8L1661.0,653.9L1662.0,653.9L1663.0,653.6L1664.0,653.3L1665.0,652.8L1666.0,652.2L1667.0,652.4L1668.0,652.9L1669.0,653.1L1670.0,653.1L1671.0,652.8L1672.0,652.7L1673.0,652.7L1674.0,652.3L1675.0,651.6L1676.0,651.2L1677.0,651.0L1678.0,650.8L1679.0,651.0L1680.0,651.0L1681.0,650.8L1682.0,650.7L1683.0,650.1L1684.0,649.5L1685.0,649.0L1686.0,648.7L1687.0,648.6L1688.0,648.5L1689.0,648.3L1690.0,647.6L1691.0,646.5L1692.0,645.1L1693.0,643.8L1694.0,642.7L1695.0,641.4L1696.0,640.0L1697.0,638.2L1698.0,635.9L1699.0,632.9L1700.0,629.3L1701.0,625.1L1702.0,620.6L1703.0,615.8L1704.0,610.2L1705.0,604.0L1706.0,598.1L1707.0,592.0L1708.0,584.8L1709.0,577.8L1710.0,571.5L1711.0,566.6L1712.0,563.4L1713.0,561.4L1714.0,561.3L1715.0,563.1L1716.0,565.7L1717.0,568.9L1718.0,573.7L1719.0,579.3L1720.0,585.1L1721.0,591.1L1722.0,597.3L1723.0,603.6L1724.0,609.2L1725.0,614.5L1726.0,619.6L1727.0,624.1L1728.0,628.0L1729.0,631.8L1730.0,635.3L1731.0,637.8L1732.0,639.8L1733.0,641.6L1734.0,643.4L1735.0,645.1L1736.0,646.7L1737.0,647.7L1738.0,648.4L1739.0,649.6L1740.0,650.8L1741.0,651.3L1742.0,651.7L1743.0,652.3L1744.0,652.3L1745.0,652.2L1746.0,652.6L1747.0,653.4L1748.0,654.2L1749.0,654.5L1750.0,654.1L1751.0,653.6L1752.0,653.6L1753.0,653.8L1754.0,653.8L1755.0,653.8L1756.0,654.3L1757.0,654.7L1758.0,654.7L1759.0,654.5L1760.0,654.0L1761.0,653.7L1762.0,654.2L1763.0,654.9L1764.0,654.9L1765.0,654.6L1766.0,654.6L1767.0,654.6L1768.0,654.7L1769.0,654.5L1770.0,654.1" fill="none" stroke="#0000ff" stroke-width="8.4" stroke-linejoin="round" stroke-linecap="round"/>
<path transform="translate(0,0.75)" d="M145.0,648.7L146.0,649.4L147.0,649.7L148.0,649.3L149.0,649.7L150.0,650.2L151.0,650.0L152.0,649.6L153.0,649.2L154.0,649.3L155.0,650.4L156.0,651.4L157.0,650.8L158.0,650.1L159.0,650.1L160.0,650.7L161.0,651.4L162.0,652.0L163.0,652.6L164.0,652.5L165.0,652.4L166.0,652.0L167.0,651.3L168.0,650.6L169.0,650.8L170.0,651.1L171.0,650.6L172.0,650.3L173.0,651.1L174.0,651.3L175.0,651.0L176.0,651.1L177.0,651.3L178.0,651.2L179.0,650.5L180.0,650.6L181.0,651.3L182.0,651.5L183.0,651.0L184.0,650.7L185.0,650.7L186.0,651.4L187.0,651.8L188.0,651.7L189.0,652.3L190.0,652.3L191.0,651.6L192.0,651.1L193.0,650.0L194.0,649.3L195.0,649.7L196.0,650.4L197.0,650.7L198.0,650.7L199.0,650.4L200.0,650.0L201.0,650.3L202.0,650.1L203.0,650.1L204.0,650.1L205.0,649.7L206.0,649.5L207.0,649.9L208.0,650.8L209.0,651.5L210.0,651.2L211.0,650.3L212.0,649.9L213.0,650.1L214.0,650.2L215.0,650.1L216.0,650.8L217.0,650.6L218.0,650.4L219.0,651.1L220.0,651.7L221.0,651.7L222.0,651.6L223.0,651.6L224.0,651.9L225.0,651.9L226.0,651.5L227.0,651.5L228.0,651.1L229.0,650.3L230.0,649.8L231.0,650.1L232.0,650.3L233.0,650.0L234.0,650.4L235.0,650.6L236.0,649.8L237.0,648.9L238.0,649.5L239.0,650.1L240.0,649.7L241.0,649.1L242.0,648.6L243.0,649.3L244.0,649.7L245.0,649.6L246.0,649.1L247.0,649.5L248.0,649.8L249.0,649.7L250.0,649.1L251.0,649.4L252.0,650.1L253.0,649.1L254.0,648.3L255.0,648.2L256.0,648.6L257.0,649.7L258.0,649.8L259.0,648.2L260.0,647.7L261.0,648.9L262.0,649.5L263.0,649.4L264.0,648.7L265.0,647.6L266.0,646.9L267.0,646.2L268.0,646.5L269.0,647.4L270.0,647.9L271.0,648.5L272.0,647.7L273.0,647.2L274.0,647.9L275.0,648.4L276.0,647.4L277.0,646.4L278.0,647.0L279.0,647.4L280.0,646.6L281.0,646.3L282.0,646.9L283.0,646.5L284.0,645.7L285.0,645.6L286.0,645.9L287.0,646.4L288.0,646.9L289.0,647.3L290.0,646.7L291.0,645.8L292.0,646.4L293.0,647.1L294.0,647.2L295.0,646.8L296.0,646.0L297.0,645.7L298.0,645.9L299.0,645.1L300.0,644.8L301.0,645.7L302.0,645.7L303.0,645.2L304.0,644.5L305.0,644.3L306.0,644.7L307.0,645.3L308.0,645.3L309.0,644.8L310.0,645.2L311.0,645.0L312.0,645.1L313.0,645.7L314.0,645.5L315.0,645.4L316.0,646.1L317.0,645.8L318.0,645.7L319.0,646.2L320.0,646.3L321.0,645.9L322.0,645.7L323.0,645.4L324.0,645.4L325.0,644.9L326.0,645.2L327.0,646.0L328.0,645.7L329.0,645.7L330.0,646.1L331.0,645.2L332.0,644.2L333.0,644.1L334.0,644.0L335.0,644.7L336.0,644.7L337.0,643.6L338.0,643.1L339.0,643.3L340.0,643.1L341.0,642.7L342.0,642.4L343.0,641.7L344.0,641.8L345.0,642.2L346.0,642.3L347.0,642.2L348.0,641.9L349.0,642.2L350.0,641.9L351.0,641.1L352.0,640.5L353.0,640.7L354.0,641.1L355.0,641.1L356.0,641.6L357.0,642.4L358.0,642.7L359.0,642.3L360.0,641.0L361.0,640.5L362.0,641.1L363.0,641.4L364.0,641.4L365.0,641.2L366.0,641.3L367.0,641.2L368.0,640.9L369.0,640.5L370.0,640.2L371.0,639.9L372.0,639.9L373.0,639.9L374.0,639.7L375.0,640.0L376.0,639.7L377.0,639.4L378.0,638.9L379.0,639.0L380.0,639.4L381.0,638.3L382.0,637.1L383.0,637.1L384.0,638.1L385.0,639.1L386.0,638.8L387.0,638.0L388.0,637.3L389.0,637.6L390.0,638.3L391.0,638.4L392.0,637.5L393.0,637.3L394.0,636.9L395.0,636.3L396.0,636.1L397.0,635.6L398.0,635.2L399.0,636.2L400.0,636.5L401.0,635.8L402.0,635.7L403.0,636.7L404.0,637.0L405.0,637.1L406.0,636.9L407.0,636.2L408.0,635.9L409.0,635.6L410.0,635.3L411.0,635.3L412.0,635.5L413.0,635.8L414.0,635.4L415.0,634.8L416.0,634.6L417.0,634.4L418.0,633.9L419.0,633.7L420.0,633.8L421.0,633.6L422.0,633.6L423.0,634.0L424.0,635.1L425.0,635.0L426.0,634.1L427.0,633.9L428.0,634.2L429.0,633.5L430.0,632.7L431.0,632.6L432.0,632.8L433.0,633.1L434.0,633.0L435.0,632.9L436.0,632.1L437.0,631.8L438.0,632.0L439.0,632.6L440.0,632.4L441.0,632.4L442.0,633.1L443.0,633.1L444.0,632.1L445.0,631.7L446.0,631.8L447.0,632.5L448.0,632.9L449.0,632.8L450.0,632.7L451.0,632.8L452.0,633.2L453.0,634.2L454.0,634.2L455.0,633.1L456.0,633.1L457.0,633.6L458.0,633.7L459.0,633.3L460.0,633.2L461.0,633.4L462.0,634.0L463.0,634.1L464.0,634.0L465.0,634.0L466.0,633.4L467.0,633.1L468.0,633.9L469.0,634.3L470.0,634.4L471.0,634.9L472.0,634.7L473.0,633.6L474.0,633.8L475.0,635.2L476.0,635.1L477.0,633.8L478.0,633.0L479.0,633.1L480.0,633.1L481.0,633.0L482.0,633.3L483.0,633.2L484.0,633.6L485.0,634.5L486.0,634.5L487.0,634.8L488.0,635.5L489.0,635.6L490.0,635.2L491.0,635.1L492.0,635.5L493.0,636.5L494.0,636.3L495.0,635.5L496.0,635.9L497.0,636.7L498.0,637.4L499.0,638.1L500.0,637.8L501.0,636.7L502.0,636.1L503.0,636.1L504.0,636.9L505.0,638.1L506.0,638.9L507.0,637.5L508.0,636.0L509.0,636.3L510.0,636.8L511.0,636.5L512.0,636.6L513.0,637.3L514.0,637.7L515.0,637.6L516.0,637.5L517.0,637.9L518.0,637.6L519.0,637.0L520.0,636.7L521.0,637.2L522.0,637.6L523.0,637.3L524.0,637.8L525.0,638.3L526.0,638.2L527.0,637.9L528.0,638.0L529.0,639.0L530.0,639.3L531.0,638.2L532.0,637.0L533.0,637.5L534.0,639.1L535.0,639.8L536.0,639.5L537.0,639.1L538.0,638.4L539.0,638.1L540.0,638.4L541.0,638.2L542.0,638.0L543.0,638.9L544.0,639.1L545.0,637.8L546.0,637.5L547.0,637.9L548.0,637.5L549.0,637.2L550.0,638.4L551.0,638.9L552.0,639.3L553.0,640.0L554.0,639.4L555.0,638.6L556.0,638.4L557.0,638.1L558.0,638.4L559.0,638.9L560.0,638.9L561.0,639.5L562.0,640.6L563.0,640.9L564.0,640.7L565.0,640.6L566.0,640.8L567.0,641.1L568.0,641.0L569.0,640.9L570.0,640.0L571.0,639.4L572.0,639.2L573.0,640.0L574.0,641.1L575.0,641.5L576.0,640.8L577.0,640.5L578.0,640.3L579.0,640.0L580.0,639.9L581.0,640.1L582.0,640.1L583.0,640.7L584.0,641.0L585.0,640.5L586.0,640.2L587.0,640.8L588.0,641.8L589.0,641.8L590.0,642.4L591.0,642.3L592.0,641.4L593.0,641.3L594.0,642.5L595.0,642.8L596.0,641.8L597.0,641.7L598.0,642.5L599.0,643.0L600.0,643.1L601.0,642.3L602.0,641.8L603.0,641.9L604.0,642.5L605.0,641.4L606.0,640.4L607.0,641.2L608.0,642.4L609.0,643.0L610.0,642.5L611.0,642.3L612.0,642.9L613.0,643.3L614.0,643.0L615.0,643.0L616.0,642.7L617.0,642.2L618.0,642.1L619.0,642.0L620.0,642.0L621.0,642.3L622.0,642.2L623.0,643.0L624.0,643.2L625.0,642.5L626.0,641.9L627.0,642.3L628.0,643.0L629.0,643.4L630.0,643.4L631.0,643.3L632.0,642.8L633.0,642.4L634.0,642.2L635.0,643.0L636.0,643.2L637.0,643.4L638.0,643.9L639.0,643.1L640.0,641.8L641.0,642.1L642.0,643.0L643.0,644.6L644.0,645.4L645.0,644.4L646.0,643.8L647.0,644.0L648.0,644.5L649.0,645.1L650.0,645.1L651.0,644.7L652.0,644.9L653.0,644.6L654.0,645.0L655.0,645.6L656.0,645.3L657.0,644.3L658.0,644.0L659.0,644.5L660.0,645.2L661.0,645.4L662.0,645.0L663.0,645.4L664.0,646.0L665.0,646.2L666.0,646.5L667.0,646.9L668.0,646.7L669.0,646.7L670.0,646.8L671.0,646.5L672.0,645.6L673.0,646.0L674.0,645.9L675.0,645.3L676.0,644.6L677.0,644.3L678.0,644.9L679.0,645.5L680.0,645.8L681.0,645.9L682.0,646.8L683.0,646.7L684.0,646.1L685.0,645.5L686.0,645.3L687.0,645.3L688.0,645.8L689.0,646.2L690.0,646.0L691.0,645.6L692.0,645.8L693.0,646.2L694.0,647.3L695.0,648.3L696.0,647.8L697.0,646.5L698.0,645.4L699.0,645.1L700.0,645.7L701.0,646.8L702.0,647.0L703.0,647.0L704.0,647.2L705.0,647.9L706.0,648.3L707.0,647.7L708.0,647.3L709.0,647.6L710.0,648.0L711.0,647.4L712.0,646.8L713.0,646.7L714.0,647.4L715.0,649.1L716.0,650.1L717.0,649.3L718.0,649.2L719.0,648.9L720.0,648.3L721.0,648.3L722.0,648.6L723.0,649.0L724.0,649.3L725.0,648.6L726.0,648.7L727.0,648.9L728.0,648.7L729.0,649.0L730.0,649.3L731.0,649.2L732.0,649.0L733.0,648.5L734.0,648.0L735.0,649.4L736.0,650.3L737.0,649.8L738.0,648.6L739.0,647.4L740.0,647.1L741.0,647.0L742.0,647.2L743.0,647.5L744.0,647.0L745.0,646.3L746.0,645.8L747.0,646.2L748.0,646.3L749.0,646.0L750.0,646.2L751.0,646.5L752.0,645.4L753.0,644.6L754.0,645.1L755.0,646.3L756.0,646.5L757.0,645.3L758.0,644.0L759.0,643.8L760.0,643.8L761.0,643.5L762.0,643.8L763.0,643.6L764.0,642.6L765.0,642.0L766.0,641.7L767.0,640.8L768.0,639.4L769.0,638.6L770.0,637.3L771.0,635.9L772.0,635.0L773.0,633.5L774.0,631.4L775.0,629.4L776.0,628.4L777.0,627.8L778.0,626.0L779.0,622.6L780.0,618.6L781.0,613.9L782.0,608.8L783.0,602.9L784.0,595.4L785.0,586.9L786.0,577.1L787.0,564.8L788.0,550.3L789.0,534.0L790.0,516.1L791.0,497.5L792.0,479.0L793.0,461.8L794.0,447.1L795.0,434.6L796.0,424.9L797.0,418.5L798.0,415.4L799.0,415.0L800.0,416.9L801.0,421.4L802.0,430.3L803.0,442.9L804.0,458.1L805.0,474.8L806.0,492.4L807.0,509.8L808.0,525.6L809.0,540.1L810.0,553.8L811.0,565.2L812.0,574.5L813.0,582.9L814.0,590.2L815.0,596.6L816.0,601.6L817.0,605.8L818.0,609.9L819.0,613.6L820.0,617.1L821.0,620.0L822.0,622.1L823.0,623.3L824.0,624.4L825.0,626.7L826.0,628.8L827.0,631.1L828.0,633.0L829.0,633.9L830.0,634.5L831.0,635.3L832.0,636.1L833.0,636.7L834.0,637.3L835.0,638.3L836.0,639.6L837.0,640.4L838.0,640.8L839.0,641.0L840.0,641.3L841.0,641.8L842.0,642.5L843.0,643.0L844.0,642.8L845.0,642.6L846.0,643.1L847.0,643.9L848.0,643.8L849.0,644.0L850.0,644.8L851.0,645.0L852.0,644.7L853.0,644.8L854.0,645.5L855.0,645.3L856.0,644.8L857.0,644.2L858.0,643.6L859.0,643.9L860.0,644.8L861.0,645.1L862.0,644.8L863.0,644.3L864.0,644.2L865.0,644.6L866.0,645.0L867.0,646.1L868.0,647.3L869.0,647.7L870.0,647.0L871.0,645.7L872.0,644.7L873.0,644.2L874.0,645.1L875.0,646.2L876.0,646.9L877.0,647.1L878.0,647.0L879.0,647.0L880.0,647.2L881.0,647.1L882.0,646.2L883.0,645.7L884.0,646.0L885.0,646.9L886.0,647.1L887.0,646.3L888.0,645.4L889.0,645.3L890.0,645.2L891.0,645.0L892.0,644.9L893.0,644.8L894.0,644.6L895.0,644.6L896.0,644.3L897.0,643.8L898.0,643.6L899.0,643.6L900.0,643.7L901.0,643.5L902.0,643.2L903.0,642.7L904.0,642.4L905.0,642.6L906.0,642.5L907.0,642.6L908.0,642.1L909.0,641.2L910.0,640.8L911.0,640.7L912.0,640.4L913.0,640.2L914.0,640.4L915.0,640.0L916.0,639.4L917.0,638.7L918.0,637.9L919.0,637.0L920.0,636.2L921.0,635.3L922.0,633.7L923.0,631.7L924.0,629.6L925.0,627.7L926.0,625.2L927.0,621.8L928.0,618.2L929.0,614.8L930.0,610.6L931.0,604.7L932.0,598.5L933.0,591.7L934.0,584.4L935.0,577.8L936.0,571.3L937.0,564.9L938.0,558.4L939.0,552.9L940.0,549.3L941.0,547.6L942.0,547.7L943.0,549.4L944.0,552.8L945.0,558.0L946.0,564.6L947.0,571.3L948.0,577.6L949.0,584.0L950.0,590.6L951.0,597.0L952.0,602.8L953.0,607.7L954.0,612.0L955.0,616.2L956.0,620.1L957.0,623.4L958.0,626.1L959.0,628.1L960.0,629.8L961.0,631.8L962.0,633.6L963.0,635.5L964.0,636.8L965.0,637.8L966.0,639.2L967.0,640.4L968.0,641.2L969.0,642.2L970.0,642.6L971.0,642.4L972.0,643.0L973.0,643.5L974.0,643.9L975.0,644.0L976.0,643.8L977.0,643.8L978.0,644.0L979.0,644.3L980.0,644.6L981.0,644.5L982.0,645.0L983.0,645.7L984.0,646.0L985.0,645.8L986.0,645.5L987.0,645.7L988.0,646.1L989.0,646.5L990.0,646.8L991.0,647.2L992.0,647.3L993.0,647.3L994.0,647.5L995.0,647.7L996.0,647.8L997.0,648.1L998.0,648.2L999.0,648.1L1000.0,648.2L1001.0,648.5L1002.0,648.8L1003.0,648.9L1004.0,648.9L1005.0,649.0L1006.0,649.0L1007.0,649.1L1008.0,648.7L1009.0,648.4L1010.0,649.1L1011.0,649.1L1012.0,648.8L1013.0,648.9L1014.0,649.4L1015.0,650.1L1016.0,649.9L1017.0,649.4L1018.0,649.7L1019.0,650.2L1020.0,650.4L1021.0,649.7L1022.0,649.3L1023.0,649.8L1024.0,650.1L1025.0,650.0L1026.0,650.0L1027.0,650.8L1028.0,651.2L1029.0,650.8L1030.0,651.1L1031.0,651.6L1032.0,652.1L1033.0,652.0L1034.0,651.8L1035.0,652.0L1036.0,652.0L1037.0,651.8L1038.0,651.9L1039.0,651.6L1040.0,651.7L1041.0,652.4L1042.0,652.3L1043.0,652.1L1044.0,652.0L1045.0,651.7L1046.0,651.6L1047.0,652.0L1048.0,652.4L1049.0,652.8L1050.0,653.1L1051.0,653.0L1052.0,653.1L1053.0,653.1L1054.0,652.8L1055.0,652.9L1056.0,653.1L1057.0,653.5L1058.0,653.6L1059.0,653.2L1060.0,653.0L1061.0,653.1L1062.0,653.4L1063.0,653.7L1064.0,653.6L1065.0,653.6L1066.0,654.1L1067.0,654.2L1068.0,654.0L1069.0,654.2L1070.0,654.0L1071.0,653.9L1072.0,653.9L1073.0,653.8L1074.0,653.9L1075.0,654.4L1076.0,655.1L1077.0,655.2L1078.0,655.0L1079.0,655.0L1080.0,654.9L1081.0,654.9L1082.0,655.1L1083.0,655.4L1084.0,655.6L1085.0,655.1L1086.0,654.7L1087.0,655.0L1088.0,654.8L1089.0,654.2L1090.0,654.0L1091.0,654.9L1092.0,655.6L1093.0,655.7L1094.0,655.9L1095.0,655.9L1096.0,655.6L1097.0,655.3L1098.0,655.0L1099.0,655.2L1100.0,655.5L1101.0,655.3L1102.0,654.9L1103.0,655.1L1104.0,655.1L1105.0,655.1L1106.0,655.2L1107.0,654.9L1108.0,654.6L1109.0,655.0L1110.0,655.5L1111.0,655.2L1112.0,655.4L1113.0,655.7L1114.0,655.6L1115.0,655.1L1116.0,655.2L1117.0,655.6L1118.0,655.7L1119.0,655.3L1120.0,655.3L1121.0,655.9L1122.0,656.2L1123.0,655.9L1124.0,655.6L1125.0,655.7L1126.0,655.8L1127.0,655.7L1128.0,655.4L1129.0,655.4L1130.0,655.4L1131.0,655.3L1132.0,655.6L1133.0,655.7L1134.0,655.6L1135.0,655.5L1136.0,655.3L1137.0,655.6L1138.0,656.0L1139.0,656.1L1140.0,656.0L1141.0,655.3L1142.0,655.1L1143.0,655.7L1144.0,656.4L1145.0,656.8L1146.0,656.3L1147.0,655.9L1148.0,655.8L1149.0,655.5L1150.0,655.7L1151.0,656.6L1152.0,656.6L1153.0,656.5L1154.0,656.6L1155.0,656.8L1156.0,656.6L1157.0,656.3L1158.0,655.7L1159.0,655.7L1160.0,656.5L1161.0,656.9L1162.0,656.6L1163.0,656.3L1164.0,656.1L1165.0,656.2L1166.0,656.7L1167.0,656.7L1168.0,656.6L1169.0,656.6L1170.0,656.7L1171.0,656.7L1172.0,656.4L1173.0,656.1L1174.0,656.6L1175.0,657.0L1176.0,656.5L1177.0,656.4L1178.0,656.7L1179.0,656.8L1180.0,656.4L1181.0,655.9L1182.0,655.9L1183.0,655.8L1184.0,655.9L1185.0,656.3L1186.0,656.6L1187.0,657.2L1188.0,657.8L1189.0,657.4L1190.0,656.7L1191.0,656.1L1192.0,655.8L1193.0,655.7L1194.0,655.7L1195.0,655.7L1196.0,655.9L1197.0,655.9L1198.0,655.7L1199.0,655.5L1200.0,655.7L1201.0,656.3L1202.0,656.7L1203.0,657.0L1204.0,656.9L1205.0,656.6L1206.0,656.4L1207.0,656.5L1208.0,657.2L1209.0,657.1L1210.0,656.4L1211.0,656.0L1212.0,655.9L1213.0,655.6L1214.0,655.9L1215.0,656.4L1216.0,656.4L1217.0,656.3L1218.0,656.4L1219.0,656.1L1220.0,656.1L1221.0,656.0L1222.0,655.9L1223.0,656.1L1224.0,656.3L1225.0,656.7L1226.0,656.7L1227.0,656.7L1228.0,656.2L1229.0,656.0L1230.0,655.6L1231.0,655.5L1232.0,656.0L1233.0,656.1L1234.0,656.0L1235.0,656.1L1236.0,656.0L1237.0,656.1L1238.0,656.3L1239.0,656.0L1240.0,655.8L1241.0,656.4L1242.0,656.3L1243.0,655.7L1244.0,655.2L1245.0,654.9L1246.0,655.2L1247.0,655.7L1248.0,655.6L1249.0,655.4L1250.0,655.8L1251.0,656.2L1252.0,656.0L1253.0,655.9L1254.0,656.3L1255.0,656.2L1256.0,655.8L1257.0,655.3L1258.0,654.9L1259.0,655.0L1260.0,655.3L1261.0,655.7L1262.0,655.9L1263.0,656.1L1264.0,656.0L1265.0,655.6L1266.0,655.0L1267.0,654.6L1268.0,654.9L1269.0,655.1L1270.0,655.2L1271.0,655.1L1272.0,654.9L1273.0,655.0L1274.0,655.3L1275.0,655.5L1276.0,655.5L1277.0,655.6L1278.0,655.4L1279.0,655.2L1280.0,655.7L1281.0,656.1L1282.0,655.9L1283.0,656.2L1284.0,656.4L1285.0,656.2L1286.0,655.9L1287.0,656.1L1288.0,655.8L1289.0,655.4L1290.0,655.4L1291.0,655.5L1292.0,655.5L1293.0,655.5L1294.0,655.6L1295.0,655.1L1296.0,655.0L1297.0,655.5L1298.0,655.8L1299.0,655.6L1300.0,655.3L1301.0,655.5L1302.0,655.8L1303.0,655.6L1304.0,655.0L1305.0,654.9L1306.0,654.6L1307.0,654.3L1308.0,654.6L1309.0,655.1L1310.0,654.8L1311.0,654.8L1312.0,655.2L1313.0,655.5L1314.0,655.2L1315.0,654.7L1316.0,654.8L1317.0,654.9L1318.0,654.5L1319.0,654.5L1320.0,655.0L1321.0,654.9L1322.0,653.9L1323.0,653.0L1324.0,653.1L1325.0,653.6L1326.0,654.1L1327.0,654.4L1328.0,654.1L1329.0,653.9L1330.0,653.8L1331.0,653.7L1332.0,653.8L1333.0,654.2L1334.0,654.8L1335.0,654.4L1336.0,653.5L1337.0,653.1L1338.0,652.9L1339.0,652.7L1340.0,652.8L1341.0,653.2L1342.0,653.4L1343.0,653.1L1344.0,652.6L1345.0,652.3L1346.0,652.4L1347.0,652.7L1348.0,653.0L1349.0,653.1L1350.0,653.0L1351.0,653.1L1352.0,652.8L1353.0,652.2L1354.0,651.5L1355.0,651.6L1356.0,652.3L1357.0,652.6L1358.0,652.3L1359.0,651.9L1360.0,651.4L1361.0,651.0L1362.0,651.0L1363.0,651.2L1364.0,651.0L1365.0,650.5L1366.0,650.3L1367.0,650.4L1368.0,650.1L1369.0,649.9L1370.0,650.1L1371.0,649.9L1372.0,649.7L1373.0,649.8L1374.0,649.6L1375.0,649.0L1376.0,648.6L1377.0,648.0L1378.0,647.5L1379.0,647.4L1380.0,647.6L1381.0,647.4L1382.0,647.4L1383.0,647.1L1384.0,646.8L1385.0,646.9L1386.0,647.0L1387.0,647.2L1388.0,647.1L1389.0,646.5L1390.0,645.7L1391.0,644.9L1392.0,644.3L1393.0,643.4L1394.0,642.1L1395.0,640.8L1396.0,639.2L1397.0,637.2L1398.0,634.5L1399.0,631.0L1400.0,627.1L1401.0,622.6L1402.0,616.9L1403.0,611.2L1404.0,604.7L1405.0,597.0L1406.0,589.8L1407.0,583.1L1408.0,576.8L1409.0,571.8L1410.0,568.0L1411.0,567.5L1412.0,568.8L1413.0,570.9L1414.0,574.1L1415.0,578.6L1416.0,583.8L1417.0,589.6L1418.0,595.2L1419.0,601.2L1420.0,606.9L1421.0,611.9L1422.0,616.7L1423.0,621.1L1424.0,625.1L1425.0,628.9L1426.0,631.8L1427.0,633.9L1428.0,636.1L1429.0,638.0L1430.0,639.6L1431.0,641.1L1432.0,642.3L1433.0,643.4L1434.0,644.2L1435.0,644.9L1436.0,645.5L1437.0,645.9L1438.0,645.9L1439.0,646.0L1440.0,646.3L1441.0,647.2L1442.0,648.1L1443.0,648.7L1444.0,648.6L1445.0,648.2L1446.0,648.1L1447.0,648.3L1448.0,648.7L1449.0,649.1L1450.0,649.0L1451.0,648.6L1452.0,648.7L1453.0,649.4L1454.0,649.4L1455.0,649.5L1456.0,649.7L1457.0,649.5L1458.0,649.3L1459.0,649.2L1460.0,649.2L1461.0,649.7L1462.0,649.7L1463.0,649.7L1464.0,650.1L1465.0,650.6L1466.0,650.7L1467.0,650.5L1468.0,650.3L1469.0,650.5L1470.0,650.7L1471.0,651.3L1472.0,651.7L1473.0,652.1L1474.0,652.6L1475.0,652.6L1476.0,652.4L1477.0,652.4L1478.0,652.5L1479.0,652.9L1480.0,652.9L1481.0,652.7L1482.0,653.1L1483.0,653.5L1484.0,653.6L1485.0,653.3L1486.0,652.8L1487.0,653.1L1488.0,653.9L1489.0,653.8L1490.0,653.4L1491.0,653.6L1492.0,653.4L1493.0,652.8L1494.0,652.6L1495.0,653.2L1496.0,654.0L1497.0,654.3L1498.0,654.4L1499.0,654.6L1500.0,654.3L1501.0,653.8L1502.0,653.9L1503.0,654.0L1504.0,654.0L1505.0,654.2L1506.0,654.5L1507.0,654.4L1508.0,654.3L1509.0,654.8L1510.0,655.3L1511.0,654.7L1512.0,654.4L1513.0,654.9L1514.0,655.4L1515.0,655.2L1516.0,655.1L1517.0,655.2L1518.0,654.9L1519.0,654.6L1520.0,654.9L1521.0,655.3L1522.0,655.7L1523.0,655.8L1524.0,655.8L1525.0,655.9L1526.0,655.8L1527.0,655.6L1528.0,655.0L1529.0,654.9L1530.0,655.3L1531.0,655.2L1532.0,655.3L1533.0,655.5L1534.0,655.5L1535.0,655.7L1536.0,655.7L1537.0,655.4L1538.0,656.1L1539.0,656.7L1540.0,656.3L1541.0,656.1L1542.0,656.4L1543.0,656.4L1544.0,655.8L1545.0,655.7L1546.0,655.9L1547.0,656.1L1548.0,656.2L1549.0,656.1L1550.0,655.9L1551.0,655.7L1552.0,655.5L1553.0,655.5L1554.0,655.6L1555.0,655.6L1556.0,655.7L1557.0,656.2L1558.0,655.9L1559.0,655.6L1560.0,655.9L1561.0,655.9L1562.0,655.9L1563.0,656.0L1564.0,656.0L1565.0,655.9L1566.0,655.8L1567.0,656.1L1568.0,656.1L1569.0,655.4L1570.0,655.5L1571.0,655.7L1572.0,655.3L1573.0,655.5L1574.0,656.2L1575.0,656.4L1576.0,656.6L1577.0,656.4L1578.0,656.0L1579.0,656.1L1580.0,656.3L1581.0,656.4L1582.0,656.1L1583.0,655.9L1584.0,656.1L1585.0,656.3L1586.0,656.0L1587.0,655.4L1588.0,655.3L1589.0,655.5L1590.0,655.3L1591.0,655.2L1592.0,655.1L1593.0,655.4L1594.0,655.8L1595.0,656.0L1596.0,656.1L1597.0,656.4L1598.0,656.5L1599.0,656.9L1600.0,656.5L1601.0,655.8L1602.0,654.9L1603.0,654.4L1604.0,654.9L1605.0,655.7L1606.0,655.9L1607.0,655.7L1608.0,655.9L1609.0,655.7L1610.0,655.2L1611.0,654.6L1612.0,654.9L1613.0,655.3L1614.0,655.5L1615.0,655.3L1616.0,655.2L1617.0,655.6L1618.0,655.8L1619.0,655.9L1620.0,656.0L1621.0,655.8L1622.0,655.2L1623.0,654.5L1624.0,654.7L1625.0,655.5L1626.0,655.6L1627.0,655.3L1628.0,655.0L1629.0,655.0L1630.0,655.0L1631.0,654.9L1632.0,655.2L1633.0,655.7L1634.0,655.3L1635.0,654.6L1636.0,654.3L1637.0,654.6L1638.0,655.1L1639.0,655.2L1640.0,655.0L1641.0,654.7L1642.0,654.5L1643.0,654.6L1644.0,655.1L1645.0,655.5L1646.0,655.5L1647.0,654.8L1648.0,654.6L1649.0,654.7L1650.0,654.3L1651.0,653.8L1652.0,653.8L1653.0,654.2L1654.0,654.4L1655.0,654.4L1656.0,654.6L1657.0,654.6L1658.0,654.2L1659.0,653.9L1660.0,653.8L1661.0,653.9L1662.0,653.9L1663.0,653.6L1664.0,653.3L1665.0,652.8L1666.0,652.2L1667.0,652.4L1668.0,652.9L1669.0,653.1L1670.0,653.1L1671.0,652.8L1672.0,652.7L1673.0,652.7L1674.0,652.3L1675.0,651.6L1676.0,651.2L1677.0,651.0L1678.0,650.8L1679.0,651.0L1680.0,651.0L1681.0,650.8L1682.0,650.7L1683.0,650.1L1684.0,649.5L1685.0,649.0L1686.0,648.7L1687.0,648.6L1688.0,648.5L1689.0,648.3L1690.0,647.6L1691.0,646.5L1692.0,645.1L1693.0,643.8L1694.0,642.7L1695.0,641.4L1696.0,640.0L1697.0,638.2L1698.0,635.9L1699.0,632.9L1700.0,629.3L1701.0,625.1L1702.0,620.6L1703.0,615.8L1704.0,610.2L1705.0,604.0L1706.0,598.1L1707.0,592.0L1708.0,584.8L1709.0,577.8L1710.0,571.5L1711.0,566.6L1712.0,563.4L1713.0,561.4L1714.0,561.3L1715.0,563.1L1716.0,565.7L1717.0,568.9L1718.0,573.7L1719.0,579.3L1720.0,585.1L1721.0,591.1L1722.0,597.3L1723.0,603.6L1724.0,609.2L1725.0,614.5L1726.0,619.6L1727.0,624.1L1728.0,628.0L1729.0,631.8L1730.0,635.3L1731.0,637.8L1732.0,639.8L1733.0,641.6L1734.0,643.4L1735.0,645.1L1736.0,646.7L1737.0,647.7L1738.0,648.4L1739.0,649.6L1740.0,650.8L1741.0,651.3L1742.0,651.7L1743.0,652.3L1744.0,652.3L1745.0,652.2L1746.0,652.6L1747.0,653.4L1748.0,654.2L1749.0,654.5L1750.0,654.1L1751.0,653.6L1752.0,653.6L1753.0,653.8L1754.0,653.8L1755.0,653.8L1756.0,654.3L1757.0,654.7L1758.0,654.7L1759.0,654.5L1760.0,654.0L1761.0,653.7L1762.0,654.2L1763.0,654.9L1764.0,654.9L1765.0,654.6L1766.0,654.6L1767.0,654.6L1768.0,654.7L1769.0,654.5L1770.0,654.1" fill="none" stroke="#0000ff" stroke-width="8.4" stroke-linejoin="round" stroke-linecap="round"/>
<path transform="translate(0,-0.75)" d="M145.0,910.1L146.0,910.6L147.0,910.6L148.0,911.0L149.0,911.5L150.0,910.9L151.0,910.9L152.0,912.2L153.0,912.6L154.0,911.2L155.0,909.7L156.0,910.2L157.0,911.4L158.0,912.0L159.0,911.9L160.0,911.0L161.0,911.1L162.0,911.5L163.0,912.2L164.0,912.2L165.0,911.8L166.0,910.6L167.0,909.5L168.0,909.5L169.0,910.0L170.0,910.9L171.0,912.5L172.0,913.0L173.0,911.9L174.0,910.7L175.0,910.7L176.0,911.4L177.0,912.5L178.0,912.5L179.0,911.8L180.0,910.5L181.0,909.3L182.0,909.5L183.0,910.3L184.0,911.2L185.0,911.3L186.0,910.9L187.0,911.5L188.0,912.1L189.0,911.0L190.0,910.3L191.0,910.5L192.0,910.6L193.0,911.2L194.0,912.3L195.0,912.3L196.0,910.8L197.0,910.7L198.0,911.2L199.0,911.1L200.0,910.9L201.0,911.2L202.0,911.5L203.0,910.9L204.0,910.6L205.0,910.7L206.0,910.7L207.0,910.9L208.0,911.1L209.0,910.8L210.0,910.3L211.0,909.6L212.0,908.7L213.0,908.3L214.0,908.4L215.0,908.8L216.0,908.4L217.0,908.3L218.0,908.9L219.0,908.8L220.0,908.4L221.0,909.4L222.0,909.3L223.0,909.0L224.0,909.1L225.0,908.6L226.0,908.6L227.0,909.0L228.0,908.0L229.0,907.7L230.0,907.8L231.0,907.1L232.0,907.3L233.0,908.5L234.0,908.9L235.0,907.5L236.0,907.0L237.0,907.3L238.0,906.7L239.0,906.0L240.0,906.5L241.0,906.9L242.0,907.3L243.0,907.8L244.0,907.6L245.0,906.9L246.0,905.9L247.0,905.0L248.0,905.2L249.0,905.4L250.0,905.1L251.0,904.9L252.0,905.3L253.0,906.8L254.0,907.0L255.0,905.6L256.0,904.9L257.0,905.0L258.0,905.4L259.0,905.1L260.0,904.3L261.0,903.7L262.0,903.3L263.0,903.0L264.0,903.2L265.0,903.1L266.0,903.3L267.0,903.5L268.0,903.6L269.0,903.2L270.0,902.7L271.0,901.9L272.0,901.8L273.0,901.6L274.0,901.4L275.0,901.4L276.0,900.7L277.0,899.3L278.0,899.1L279.0,899.2L280.0,899.1L281.0,897.8L282.0,897.0L283.0,897.7L284.0,898.7L285.0,898.0L286.0,897.5L287.0,896.7L288.0,896.0L289.0,896.7L290.0,897.5L291.0,897.5L292.0,897.4L293.0,896.7L294.0,896.1L295.0,896.1L296.0,896.9L297.0,897.6L298.0,896.8L299.0,895.6L300.0,894.7L301.0,894.8L302.0,895.2L303.0,894.1L304.0,893.5L305.0,893.9L306.0,894.6L307.0,894.6L308.0,893.2L309.0,893.6L310.0,893.9L311.0,892.9L312.0,892.9L313.0,894.1L314.0,894.2L315.0,892.5L316.0,892.0L317.0,893.6L318.0,894.0L319.0,892.2L320.0,891.3L321.0,892.5L322.0,893.0L323.0,892.9L324.0,892.2L325.0,891.4L326.0,891.8L327.0,892.9L328.0,892.1L329.0,889.9L330.0,890.1L331.0,891.4L332.0,890.4L333.0,889.3L334.0,889.6L335.0,889.8L336.0,889.5L337.0,889.0L338.0,888.8L339.0,888.7L340.0,888.6L341.0,888.1L342.0,888.0L343.0,888.6L344.0,889.1L345.0,888.6L346.0,888.0L347.0,888.0L348.0,888.1L349.0,888.2L350.0,888.3L351.0,888.6L352.0,887.8L353.0,886.3L354.0,885.6L355.0,886.0L356.0,885.6L357.0,884.1L358.0,882.5L359.0,882.2L360.0,883.6L361.0,884.5L362.0,883.8L363.0,882.8L364.0,882.9L365.0,882.6L366.0,882.5L367.0,882.0L368.0,880.8L369.0,879.6L370.0,878.6L371.0,878.3L372.0,878.6L373.0,879.7L374.0,880.3L375.0,880.3L376.0,879.5L377.0,878.6L378.0,878.3L379.0,878.2L380.0,878.2L381.0,877.5L382.0,876.5L383.0,876.3L384.0,876.3L385.0,876.3L386.0,877.0L387.0,876.9L388.0,875.2L389.0,873.3L390.0,872.3L391.0,872.5L392.0,872.2L393.0,871.5L394.0,872.4L395.0,872.7L396.0,871.8L397.0,871.1L398.0,870.9L399.0,870.9L400.0,870.1L401.0,870.8L402.0,871.9L403.0,871.3L404.0,870.3L405.0,869.2L406.0,868.4L407.0,868.6L408.0,868.5L409.0,868.0L410.0,868.5L411.0,869.2L412.0,868.1L413.0,865.9L414.0,864.8L415.0,865.2L416.0,866.6L417.0,866.9L418.0,866.0L419.0,864.4L420.0,863.7L421.0,864.1L422.0,864.1L423.0,863.6L424.0,863.9L425.0,864.2L426.0,863.3L427.0,861.5L428.0,860.7L429.0,861.6L430.0,862.3L431.0,862.0L432.0,861.6L433.0,861.7L434.0,862.2L435.0,862.1L436.0,861.5L437.0,860.8L438.0,860.9L439.0,861.0L440.0,860.4L441.0,860.2L442.0,861.3L443.0,862.5L444.0,862.8L445.0,862.8L446.0,861.8L447.0,860.6L448.0,860.0L449.0,861.0L450.0,862.4L451.0,862.6L452.0,862.5L453.0,862.2L454.0,861.6L455.0,861.3L456.0,861.6L457.0,862.1L458.0,862.2L459.0,862.0L460.0,861.5L461.0,861.1L462.0,861.2L463.0,861.9L464.0,862.4L465.0,862.2L466.0,864.0L467.0,866.0L468.0,865.4L469.0,865.0L470.0,866.4L471.0,867.9L472.0,868.2L473.0,868.6L474.0,868.9L475.0,870.1L476.0,871.7L477.0,870.7L478.0,869.5L479.0,869.6L480.0,870.6L481.0,871.3L482.0,871.5L483.0,870.8L484.0,870.3L485.0,870.9L486.0,871.1L487.0,870.6L488.0,870.2L489.0,870.5L490.0,871.1L491.0,871.3L492.0,871.2L493.0,872.0L494.0,872.2L495.0,871.7L496.0,871.7L497.0,872.3L498.0,872.5L499.0,871.5L500.0,871.5L501.0,871.9L502.0,873.0L503.0,874.0L504.0,873.9L505.0,873.8L506.0,874.5L507.0,876.0L508.0,876.4L509.0,875.4L510.0,873.8L511.0,873.9L512.0,875.2L513.0,875.2L514.0,875.0L515.0,875.0L516.0,874.9L517.0,875.7L518.0,876.1L519.0,876.0L520.0,875.7L521.0,875.9L522.0,876.2L523.0,877.2L524.0,878.0L525.0,877.9L526.0,877.4L527.0,876.2L528.0,875.1L529.0,876.2L530.0,876.8L531.0,876.7L532.0,876.2L533.0,875.7L534.0,876.5L535.0,878.0L536.0,878.4L537.0,877.3L538.0,877.2L539.0,878.1L540.0,878.5L541.0,879.2L542.0,878.5L543.0,878.0L544.0,879.2L545.0,879.4L546.0,878.6L547.0,879.2L548.0,879.5L549.0,879.6L550.0,878.5L551.0,877.9L552.0,879.3L553.0,881.0L554.0,882.2L555.0,882.0L556.0,880.8L557.0,879.7L558.0,879.2L559.0,879.1L560.0,879.0L561.0,878.6L562.0,878.3L563.0,879.8L564.0,881.8L565.0,883.2L566.0,882.6L567.0,881.5L568.0,881.1L569.0,880.4L570.0,880.0L571.0,880.7L572.0,882.5L573.0,882.6L574.0,881.8L575.0,882.4L576.0,883.6L577.0,883.7L578.0,883.2L579.0,882.4L580.0,882.6L581.0,883.6L582.0,883.9L583.0,883.1L584.0,883.2L585.0,884.1L586.0,884.4L587.0,885.1L588.0,885.6L589.0,886.3L590.0,886.9L591.0,886.5L592.0,885.6L593.0,884.5L594.0,884.8L595.0,886.3L596.0,887.7L597.0,888.5L598.0,888.4L599.0,887.4L600.0,886.9L601.0,887.0L602.0,886.6L603.0,886.0L604.0,885.9L605.0,886.5L606.0,886.3L607.0,886.3L608.0,886.3L609.0,886.9L610.0,886.9L611.0,886.8L612.0,886.3L613.0,887.0L614.0,887.9L615.0,887.6L616.0,887.3L617.0,886.6L618.0,886.2L619.0,887.6L620.0,888.3L621.0,888.0L622.0,888.3L623.0,887.9L624.0,887.8L625.0,888.5L626.0,889.5L627.0,890.3L628.0,889.7L629.0,890.1L630.0,890.0L631.0,888.3L632.0,888.4L633.0,889.9L634.0,890.7L635.0,891.5L636.0,891.9L637.0,890.9L638.0,889.4L639.0,889.1L640.0,890.5L641.0,891.5L642.0,892.3L643.0,892.4L644.0,892.7L645.0,894.4L646.0,895.0L647.0,894.2L648.0,893.0L649.0,892.9L650.0,893.2L651.0,893.3L652.0,893.6L653.0,894.7L654.0,895.4L655.0,895.5L656.0,895.7L657.0,896.3L658.0,895.2L659.0,893.7L660.0,894.5L661.0,896.2L662.0,897.1L663.0,896.7L664.0,896.3L665.0,896.6L666.0,897.2L667.0,896.9L668.0,896.6L669.0,897.0L670.0,897.6L671.0,897.1L672.0,896.9L673.0,897.8L674.0,898.3L675.0,899.0L676.0,899.8L677.0,900.6L678.0,900.3L679.0,899.2L680.0,898.7L681.0,899.3L682.0,900.8L683.0,901.5L684.0,901.2L685.0,899.8L686.0,899.4L687.0,900.9L688.0,901.3L689.0,901.1L690.0,901.4L691.0,901.7L692.0,901.3L693.0,900.8L694.0,901.4L695.0,901.4L696.0,902.0L697.0,903.3L698.0,903.1L699.0,901.5L700.0,900.7L701.0,901.7L702.0,902.6L703.0,902.0L704.0,901.1L705.0,901.0L706.0,901.5L707.0,902.9L708.0,904.0L709.0,904.0L710.0,903.3L711.0,903.5L712.0,903.7L713.0,903.4L714.0,904.2L715.0,905.4L716.0,905.1L717.0,904.6L718.0,903.8L719.0,903.1L720.0,902.7L721.0,903.9L722.0,905.8L723.0,906.7L724.0,906.2L725.0,905.2L726.0,904.2L727.0,903.6L728.0,903.8L729.0,904.0L730.0,903.8L731.0,903.6L732.0,902.4L733.0,901.2L734.0,901.0L735.0,900.9L736.0,901.6L737.0,902.9L738.0,903.0L739.0,903.1L740.0,903.6L741.0,903.3L742.0,902.6L743.0,902.6L744.0,902.2L745.0,901.5L746.0,900.7L747.0,899.6L748.0,899.5L749.0,900.1L750.0,900.4L751.0,900.0L752.0,900.1L753.0,900.9L754.0,901.3L755.0,900.9L756.0,900.3L757.0,899.1L758.0,898.6L759.0,898.5L760.0,898.2L761.0,898.3L762.0,898.8L763.0,897.8L764.0,897.1L765.0,897.9L766.0,898.4L767.0,897.8L768.0,897.0L769.0,895.8L770.0,894.7L771.0,894.3L772.0,894.7L773.0,894.8L774.0,893.8L775.0,893.0L776.0,891.6L777.0,890.8L778.0,890.5L779.0,889.3L780.0,886.9L781.0,884.3L782.0,882.5L783.0,880.7L784.0,878.6L785.0,874.3L786.0,868.8L787.0,862.8L788.0,856.3L789.0,849.5L790.0,842.1L791.0,832.8L792.0,821.9L793.0,809.7L794.0,797.2L795.0,783.8L796.0,768.3L797.0,752.9L798.0,738.5L799.0,724.1L800.0,711.2L801.0,700.1L802.0,690.8L803.0,684.9L804.0,682.7L805.0,684.7L806.0,689.1L807.0,695.3L808.0,704.3L809.0,715.8L810.0,729.3L811.0,743.1L812.0,756.3L813.0,770.0L814.0,782.7L815.0,795.0L816.0,807.6L817.0,820.2L818.0,830.3L819.0,838.7L820.0,846.5L821.0,853.3L822.0,858.8L823.0,864.9L824.0,870.4L825.0,873.5L826.0,876.2L827.0,878.7L828.0,880.4L829.0,882.5L830.0,884.4L831.0,885.6L832.0,886.3L833.0,887.0L834.0,888.0L835.0,889.3L836.0,890.7L837.0,891.0L838.0,890.5L839.0,890.6L840.0,892.6L841.0,893.8L842.0,893.4L843.0,893.4L844.0,894.9L845.0,896.5L846.0,897.0L847.0,897.8L848.0,899.2L849.0,900.3L850.0,900.3L851.0,900.4L852.0,901.1L853.0,902.4L854.0,902.7L855.0,901.8L856.0,901.1L857.0,901.6L858.0,902.5L859.0,902.8L860.0,903.4L861.0,903.7L862.0,903.8L863.0,904.0L864.0,903.7L865.0,903.3L866.0,903.9L867.0,904.6L868.0,903.8L869.0,903.7L870.0,904.3L871.0,904.0L872.0,903.2L873.0,903.3L874.0,904.4L875.0,905.4L876.0,905.5L877.0,905.1L878.0,904.7L879.0,904.0L880.0,903.9L881.0,904.0L882.0,904.4L883.0,905.0L884.0,904.8L885.0,904.4L886.0,904.4L887.0,903.9L888.0,903.3L889.0,903.2L890.0,903.1L891.0,903.6L892.0,903.9L893.0,903.8L894.0,903.7L895.0,903.2L896.0,902.6L897.0,902.0L898.0,901.9L899.0,901.7L900.0,901.7L901.0,901.7L902.0,901.3L903.0,900.3L904.0,900.1L905.0,900.9L906.0,901.6L907.0,901.9L908.0,902.2L909.0,902.2L910.0,901.6L911.0,900.7L912.0,899.9L913.0,899.7L914.0,900.0L915.0,900.3L916.0,900.3L917.0,899.9L918.0,899.7L919.0,899.7L920.0,899.4L921.0,898.9L922.0,898.1L923.0,897.0L924.0,896.3L925.0,896.0L926.0,895.2L927.0,893.9L928.0,892.9L929.0,891.8L930.0,889.3L931.0,886.8L932.0,884.4L933.0,881.7L934.0,879.4L935.0,877.2L936.0,873.7L937.0,869.7L938.0,865.6L939.0,861.6L940.0,857.6L941.0,853.4L942.0,849.7L943.0,847.0L944.0,844.9L945.0,843.3L946.0,842.1L947.0,842.0L948.0,844.0L949.0,846.4L950.0,847.7L951.0,848.9L952.0,851.1L953.0,854.1L954.0,857.2L955.0,860.7L956.0,864.1L957.0,867.8L958.0,870.7L959.0,872.9L960.0,875.9L961.0,878.6L962.0,881.0L963.0,883.9L964.0,886.9L965.0,889.3L966.0,891.2L967.0,893.9L968.0,896.4L969.0,897.6L970.0,898.5L971.0,899.3L972.0,900.3L973.0,901.8L974.0,903.3L975.0,904.8L976.0,906.0L977.0,906.4L978.0,906.7L979.0,907.0L980.0,906.5L981.0,906.6L982.0,907.4L983.0,908.2L984.0,909.0L985.0,909.7L986.0,910.7L987.0,911.2L988.0,911.0L989.0,910.8L990.0,911.2L991.0,911.3L992.0,911.2L993.0,911.7L994.0,912.3L995.0,912.7L996.0,913.3L997.0,913.2L998.0,912.6L999.0,912.6L1000.0,912.7L1001.0,913.1L1002.0,913.3L1003.0,913.8L1004.0,914.2L1005.0,914.3L1006.0,913.9L1007.0,913.9L1008.0,914.7L1009.0,915.0L1010.0,915.3L1011.0,915.4L1012.0,915.7L1013.0,916.1L1014.0,916.0L1015.0,915.7L1016.0,915.3L1017.0,915.5L1018.0,915.6L1019.0,915.7L1020.0,916.0L1021.0,916.5L1022.0,916.5L1023.0,915.8L1024.0,915.8L1025.0,916.3L1026.0,916.8L1027.0,916.8L1028.0,916.8L1029.0,917.0L1030.0,917.4L1031.0,917.6L1032.0,917.2L1033.0,916.9L1034.0,916.8L1035.0,917.4L1036.0,917.8L1037.0,917.8L1038.0,917.5L1039.0,916.6L1040.0,916.2L1041.0,916.7L1042.0,917.4L1043.0,917.9L1044.0,918.1L1045.0,918.3L1046.0,918.4L1047.0,917.9L1048.0,917.5L1049.0,918.0L1050.0,918.5L1051.0,918.0L1052.0,918.4L1053.0,919.2L1054.0,919.0L1055.0,918.6L1056.0,918.9L1057.0,919.4L1058.0,919.4L1059.0,919.0L1060.0,919.2L1061.0,919.6L1062.0,919.9L1063.0,919.8L1064.0,919.0L1065.0,918.6L1066.0,919.4L1067.0,920.2L1068.0,920.1L1069.0,920.1L1070.0,920.2L1071.0,919.6L1072.0,919.5L1073.0,919.3L1074.0,919.4L1075.0,919.8L1076.0,919.9L1077.0,919.3L1078.0,918.8L1079.0,918.8L1080.0,919.3L1081.0,919.5L1082.0,919.5L1083.0,919.2L1084.0,919.5L1085.0,920.0L1086.0,920.1L1087.0,920.2L1088.0,920.0L1089.0,919.5L1090.0,919.4L1091.0,920.0L1092.0,920.3L1093.0,919.9L1094.0,918.9L1095.0,918.3L1096.0,918.5L1097.0,919.4L1098.0,920.4L1099.0,920.6L1100.0,920.4L1101.0,920.5L1102.0,920.6L1103.0,920.5L1104.0,920.5L1105.0,920.0L1106.0,919.5L1107.0,920.1L1108.0,920.9L1109.0,920.7L1110.0,920.4L1111.0,920.4L1112.0,920.7L1113.0,921.1L1114.0,920.7L1115.0,919.8L1116.0,919.2L1117.0,919.6L1118.0,919.7L1119.0,920.2L1120.0,921.2L1121.0,921.4L1122.0,921.0L1123.0,921.5L1124.0,921.7L1125.0,921.5L1126.0,921.4L1127.0,920.8L1128.0,920.5L1129.0,920.7L1130.0,921.2L1131.0,921.7L1132.0,921.3L1133.0,921.1L1134.0,921.4L1135.0,922.0L1136.0,922.3L1137.0,922.4L1138.0,921.9L1139.0,921.5L1140.0,921.8L1141.0,922.1L1142.0,922.2L1143.0,922.8L1144.0,923.2L1145.0,922.8L1146.0,922.8L1147.0,923.0L1148.0,922.4L1149.0,921.9L1150.0,922.0L1151.0,922.6L1152.0,922.8L1153.0,922.7L1154.0,922.9L1155.0,923.3L1156.0,922.9L1157.0,922.2L1158.0,922.3L1159.0,922.7L1160.0,922.8L1161.0,922.4L1162.0,922.0L1163.0,921.7L1164.0,921.5L1165.0,921.9L1166.0,922.2L1167.0,922.2L1168.0,921.9L1169.0,921.7L1170.0,921.5L1171.0,921.7L1172.0,922.2L1173.0,922.3L1174.0,922.1L1175.0,921.8L1176.0,921.6L1177.0,921.3L1178.0,921.5L1179.0,921.9L1180.0,922.3L1181.0,922.3L1182.0,922.3L1183.0,922.5L1184.0,922.5L1185.0,922.5L1186.0,922.4L1187.0,922.1L1188.0,921.9L1189.0,921.9L1190.0,921.9L1191.0,922.3L1192.0,922.7L1193.0,922.4L1194.0,921.7L1195.0,921.2L1196.0,921.5L1197.0,922.0L1198.0,922.2L1199.0,921.9L1200.0,921.9L1201.0,922.0L1202.0,921.8L1203.0,922.2L1204.0,922.9L1205.0,923.1L1206.0,922.6L1207.0,922.0L1208.0,921.7L1209.0,921.9L1210.0,922.0L1211.0,921.9L1212.0,921.7L1213.0,921.7L1214.0,921.9L1215.0,922.3L1216.0,922.6L1217.0,921.9L1218.0,921.0L1219.0,920.7L1220.0,920.7L1221.0,921.3L1222.0,921.9L1223.0,922.0L1224.0,921.8L1225.0,921.6L1226.0,921.2L1227.0,920.7L1228.0,920.7L1229.0,921.4L1230.0,922.0L1231.0,921.9L1232.0,922.5L1233.0,922.6L1234.0,922.1L1235.0,921.7L1236.0,921.6L1237.0,921.9L1238.0,922.2L1239.0,922.3L1240.0,922.6L1241.0,922.7L1242.0,922.4L1243.0,922.1L1244.0,922.0L1245.0,921.8L1246.0,921.6L1247.0,921.8L1248.0,921.9L1249.0,922.0L1250.0,922.3L1251.0,921.7L1252.0,921.3L1253.0,921.2L1254.0,920.8L1255.0,920.6L1256.0,920.7L1257.0,921.0L1258.0,921.6L1259.0,922.2L1260.0,922.6L1261.0,922.7L1262.0,922.7L1263.0,922.3L1264.0,922.0L1265.0,922.0L1266.0,921.7L1267.0,921.8L1268.0,922.5L1269.0,922.5L1270.0,922.3L1271.0,922.3L1272.0,922.0L1273.0,921.3L1274.0,921.1L1275.0,921.1L1276.0,921.3L1277.0,921.7L1278.0,922.2L1279.0,922.0L1280.0,921.4L1281.0,921.2L1282.0,921.1L1283.0,921.5L1284.0,921.8L1285.0,921.3L1286.0,920.7L1287.0,921.1L1288.0,921.7L1289.0,922.0L1290.0,921.8L1291.0,921.3L1292.0,921.3L1293.0,921.3L1294.0,921.5L1295.0,921.8L1296.0,921.7L1297.0,921.3L1298.0,921.0L1299.0,920.6L1300.0,920.6L1301.0,921.1L1302.0,920.9L1303.0,920.4L1304.0,920.6L1305.0,921.4L1306.0,922.1L1307.0,922.1L1308.0,921.4L1309.0,920.6L1310.0,920.8L1311.0,921.3L1312.0,921.4L1313.0,921.3L1314.0,921.4L1315.0,922.0L1316.0,921.8L1317.0,921.0L1318.0,920.8L1319.0,921.3L1320.0,921.2L1321.0,921.5L1322.0,921.5L1323.0,920.7L1324.0,920.4L1325.0,920.5L1326.0,920.7L1327.0,921.1L1328.0,921.4L1329.0,921.0L1330.0,920.6L1331.0,920.5L1332.0,920.2L1333.0,920.3L1334.0,920.6L1335.0,919.9L1336.0,919.5L1337.0,919.3L1338.0,918.8L1339.0,918.7L1340.0,919.3L1341.0,919.2L1342.0,919.0L1343.0,918.8L1344.0,918.6L1345.0,918.7L1346.0,919.6L1347.0,920.4L1348.0,920.1L1349.0,919.2L1350.0,918.4L1351.0,918.3L1352.0,918.4L1353.0,918.7L1354.0,918.7L1355.0,918.5L1356.0,918.3L1357.0,917.8L1358.0,917.6L1359.0,917.7L1360.0,917.3L1361.0,917.1L1362.0,917.3L1363.0,917.5L1364.0,917.9L1365.0,918.2L1366.0,917.9L1367.0,917.6L1368.0,917.5L1369.0,917.1L1370.0,916.5L1371.0,916.4L1372.0,916.1L1373.0,915.8L1374.0,916.1L1375.0,916.3L1376.0,916.5L1377.0,916.0L1378.0,915.1L1379.0,915.5L1380.0,916.4L1381.0,916.3L1382.0,915.8L1383.0,914.6L1384.0,913.5L1385.0,913.4L1386.0,913.9L1387.0,913.6L1388.0,912.7L1389.0,912.1L1390.0,911.5L1391.0,910.5L1392.0,910.5L1393.0,910.9L1394.0,910.3L1395.0,908.9L1396.0,907.5L1397.0,905.4L1398.0,903.1L1399.0,901.3L1400.0,900.2L1401.0,898.7L1402.0,896.7L1403.0,893.5L1404.0,889.7L1405.0,886.0L1406.0,882.8L1407.0,878.7L1408.0,873.9L1409.0,869.2L1410.0,865.4L1411.0,861.1L1412.0,856.1L1413.0,851.8L1414.0,848.2L1415.0,845.2L1416.0,842.9L1417.0,841.6L1418.0,840.9L1419.0,841.0L1420.0,842.2L1421.0,844.2L1422.0,848.0L1423.0,852.4L1424.0,856.3L1425.0,859.9L1426.0,863.8L1427.0,867.6L1428.0,872.0L1429.0,876.6L1430.0,880.3L1431.0,883.6L1432.0,887.3L1433.0,890.6L1434.0,892.8L1435.0,894.7L1436.0,896.1L1437.0,898.1L1438.0,900.7L1439.0,902.7L1440.0,904.0L1441.0,905.0L1442.0,906.4L1443.0,908.1L1444.0,909.1L1445.0,909.1L1446.0,909.4L1447.0,910.7L1448.0,911.6L1449.0,912.0L1450.0,912.7L1451.0,913.4L1452.0,913.2L1453.0,912.8L1454.0,912.4L1455.0,912.6L1456.0,913.2L1457.0,913.8L1458.0,914.2L1459.0,914.5L1460.0,914.9L1461.0,914.5L1462.0,914.5L1463.0,914.7L1464.0,914.9L1465.0,915.5L1466.0,915.9L1467.0,916.2L1468.0,916.6L1469.0,916.5L1470.0,916.0L1471.0,915.5L1472.0,915.3L1473.0,915.7L1474.0,916.2L1475.0,916.6L1476.0,916.5L1477.0,915.8L1478.0,915.7L1479.0,916.4L1480.0,917.4L1481.0,917.4L1482.0,917.1L1483.0,917.3L1484.0,917.9L1485.0,918.0L1486.0,917.7L1487.0,917.7L1488.0,918.5L1489.0,919.0L1490.0,919.2L1491.0,919.3L1492.0,919.0L1493.0,919.0L1494.0,919.3L1495.0,919.3L1496.0,919.1L1497.0,919.1L1498.0,919.3L1499.0,919.8L1500.0,920.1L1501.0,920.2L1502.0,920.1L1503.0,919.5L1504.0,919.7L1505.0,920.3L1506.0,919.8L1507.0,919.6L1508.0,920.4L1509.0,920.4L1510.0,920.0L1511.0,920.1L1512.0,919.7L1513.0,919.6L1514.0,920.0L1515.0,920.0L1516.0,920.0L1517.0,920.1L1518.0,920.3L1519.0,920.7L1520.0,921.1L1521.0,921.2L1522.0,920.7L1523.0,920.2L1524.0,920.4L1525.0,921.3L1526.0,922.2L1527.0,922.1L1528.0,921.7L1529.0,921.7L1530.0,921.6L1531.0,921.9L1532.0,922.0L1533.0,922.3L1534.0,922.3L1535.0,922.1L1536.0,921.9L1537.0,921.7L1538.0,922.2L1539.0,923.6L1540.0,924.4L1541.0,923.5L1542.0,922.4L1543.0,922.1L1544.0,922.1L1545.0,921.7L1546.0,921.7L1547.0,922.1L1548.0,922.4L1549.0,923.1L1550.0,923.1L1551.0,922.4L1552.0,921.8L1553.0,921.4L1554.0,921.7L1555.0,922.5L1556.0,922.9L1557.0,922.9L1558.0,922.6L1559.0,922.4L1560.0,922.2L1561.0,922.0L1562.0,922.6L1563.0,923.4L1564.0,923.4L1565.0,922.7L1566.0,922.8L1567.0,923.4L1568.0,923.3L1569.0,922.3L1570.0,922.2L1571.0,922.8L1572.0,923.0L1573.0,922.7L1574.0,922.7L1575.0,923.2L1576.0,923.7L1577.0,923.3L1578.0,922.7L1579.0,922.7L1580.0,923.1L1581.0,922.9L1582.0,922.3L1583.0,922.1L1584.0,921.8L1585.0,921.6L1586.0,921.4L1587.0,921.4L1588.0,921.7L1589.0,922.1L1590.0,922.7L1591.0,922.9L1592.0,922.4L1593.0,922.1L1594.0,922.0L1595.0,921.3L1596.0,921.4L1597.0,922.5L1598.0,923.1L1599.0,923.0L1600.0,922.3L1601.0,921.8L1602.0,922.0L1603.0,922.3L1604.0,922.0L1605.0,921.5L1606.0,921.3L1607.0,921.7L1608.0,922.4L1609.0,922.3L1610.0,921.6L1611.0,921.4L1612.0,921.8L1613.0,922.0L1614.0,921.6L1615.0,921.2L1616.0,920.8L1617.0,921.1L1618.0,922.0L1619.0,922.2L1620.0,921.5L1621.0,921.5L1622.0,921.9L1623.0,921.7L1624.0,921.7L1625.0,922.0L1626.0,922.2L1627.0,922.4L1628.0,922.1L1629.0,921.6L1630.0,921.4L1631.0,921.1L1632.0,920.7L1633.0,920.9L1634.0,921.2L1635.0,921.1L1636.0,921.5L1637.0,921.5L1638.0,921.4L1639.0,921.5L1640.0,921.7L1641.0,921.6L1642.0,921.0L1643.0,920.8L1644.0,921.2L1645.0,921.7L1646.0,921.3L1647.0,920.4L1648.0,920.1L1649.0,920.1L1650.0,920.4L1651.0,920.9L1652.0,921.0L1653.0,920.3L1654.0,920.4L1655.0,920.3L1656.0,919.8L1657.0,919.7L1658.0,919.7L1659.0,919.9L1660.0,919.9L1661.0,919.6L1662.0,919.9L1663.0,920.0L1664.0,920.2L1665.0,920.2L1666.0,920.2L1667.0,920.0L1668.0,919.7L1669.0,919.1L1670.0,918.7L1671.0,919.0L1672.0,919.4L1673.0,918.9L1674.0,917.8L1675.0,917.6L1676.0,917.7L1677.0,917.2L1678.0,917.4L1679.0,918.0L1680.0,917.5L1681.0,916.6L1682.0,916.6L1683.0,916.4L1684.0,915.7L1685.0,914.9L1686.0,913.9L1687.0,912.9L1688.0,912.4L1689.0,912.2L1690.0,911.8L1691.0,910.9L1692.0,908.9L1693.0,906.9L1694.0,906.1L1695.0,905.4L1696.0,903.9L1697.0,901.9L1698.0,900.0L1699.0,898.1L1700.0,895.4L1701.0,892.6L1702.0,889.3L1703.0,885.8L1704.0,882.2L1705.0,877.6L1706.0,873.5L1707.0,869.5L1708.0,864.9L1709.0,859.9L1710.0,854.4L1711.0,849.2L1712.0,844.2L1713.0,838.4L1714.0,832.8L1715.0,828.0L1716.0,824.6L1717.0,822.5L1718.0,821.1L1719.0,820.4L1720.0,821.0L1721.0,822.7L1722.0,825.0L1723.0,828.6L1724.0,832.8L1725.0,837.4L1726.0,842.3L1727.0,847.3L1728.0,852.6L1729.0,858.4L1730.0,863.5L1731.0,867.9L1732.0,872.1L1733.0,876.4L1734.0,880.5L1735.0,884.5L1736.0,887.9L1737.0,890.2L1738.0,892.5L1739.0,894.3L1740.0,895.6L1741.0,898.3L1742.0,901.3L1743.0,903.6L1744.0,905.3L1745.0,907.2L1746.0,908.6L1747.0,909.6L1748.0,911.1L1749.0,912.3L1750.0,912.5L1751.0,912.9L1752.0,913.9L1753.0,914.4L1754.0,914.7L1755.0,915.3L1756.0,916.0L1757.0,917.0L1758.0,917.7L1759.0,918.1L1760.0,918.0L1761.0,917.7L1762.0,918.1L1763.0,918.6L1764.0,919.0L1765.0,919.5L1766.0,918.8L1767.0,918.3L1768.0,918.7L1769.0,918.6L1770.0,918.2" fill="none" stroke="#ff0000" stroke-width="8.4" stroke-linejoin="round" stroke-linecap="round"/>
<path transform="translate(0,0.75)" d="M145.0,910.1L146.0,910.6L147.0,910.6L148.0,911.0L149.0,911.5L150.0,910.9L151.0,910.9L152.0,912.2L153.0,912.6L154.0,911.2L155.0,909.7L156.0,910.2L157.0,911.4L158.0,912.0L159.0,911.9L160.0,911.0L161.0,911.1L162.0,911.5L163.0,912.2L164.0,912.2L165.0,911.8L166.0,910.6L167.0,909.5L168.0,909.5L169.0,910.0L170.0,910.9L171.0,912.5L172.0,913.0L173.0,911.9L174.0,910.7L175.0,910.7L176.0,911.4L177.0,912.5L178.0,912.5L179.0,911.8L180.0,910.5L181.0,909.3L182.0,909.5L183.0,910.3L184.0,911.2L185.0,911.3L186.0,910.9L187.0,911.5L188.0,912.1L189.0,911.0L190.0,910.3L191.0,910.5L192.0,910.6L193.0,911.2L194.0,912.3L195.0,912.3L196.0,910.8L197.0,910.7L198.0,911.2L199.0,911.1L200.0,910.9L201.0,911.2L202.0,911.5L203.0,910.9L204.0,910.6L205.0,910.7L206.0,910.7L207.0,910.9L208.0,911.1L209.0,910.8L210.0,910.3L211.0,909.6L212.0,908.7L213.0,908.3L214.0,908.4L215.0,908.8L216.0,908.4L217.0,908.3L218.0,908.9L219.0,908.8L220.0,908.4L221.0,909.4L222.0,909.3L223.0,909.0L224.0,909.1L225.0,908.6L226.0,908.6L227.0,909.0L228.0,908.0L229.0,907.7L230.0,907.8L231.0,907.1L232.0,907.3L233.0,908.5L234.0,908.9L235.0,907.5L236.0,907.0L237.0,907.3L238.0,906.7L239.0,906.0L240.0,906.5L241.0,906.9L242.0,907.3L243.0,907.8L244.0,907.6L245.0,906.9L246.0,905.9L247.0,905.0L248.0,905.2L249.0,905.4L250.0,905.1L251.0,904.9L252.0,905.3L253.0,906.8L254.0,907.0L255.0,905.6L256.0,904.9L257.0,905.0L258.0,905.4L259.0,905.1L260.0,904.3L261.0,903.7L262.0,903.3L263.0,903.0L264.0,903.2L265.0,903.1L266.0,903.3L267.0,903.5L268.0,903.6L269.0,903.2L270.0,902.7L271.0,901.9L272.0,901.8L273.0,901.6L274.0,901.4L275.0,901.4L276.0,900.7L277.0,899.3L278.0,899.1L279.0,899.2L280.0,899.1L281.0,897.8L282.0,897.0L283.0,897.7L284.0,898.7L285.0,898.0L286.0,897.5L287.0,896.7L288.0,896.0L289.0,896.7L290.0,897.5L291.0,897.5L292.0,897.4L293.0,896.7L294.0,896.1L295.0,896.1L296.0,896.9L297.0,897.6L298.0,896.8L299.0,895.6L300.0,894.7L301.0,894.8L302.0,895.2L303.0,894.1L304.0,893.5L305.0,893.9L306.0,894.6L307.0,894.6L308.0,893.2L309.0,893.6L310.0,893.9L311.0,892.9L312.0,892.9L313.0,894.1L314.0,894.2L315.0,892.5L316.0,892.0L317.0,893.6L318.0,894.0L319.0,892.2L320.0,891.3L321.0,892.5L322.0,893.0L323.0,892.9L324.0,892.2L325.0,891.4L326.0,891.8L327.0,892.9L328.0,892.1L329.0,889.9L330.0,890.1L331.0,891.4L332.0,890.4L333.0,889.3L334.0,889.6L335.0,889.8L336.0,889.5L337.0,889.0L338.0,888.8L339.0,888.7L340.0,888.6L341.0,888.1L342.0,888.0L343.0,888.6L344.0,889.1L345.0,888.6L346.0,888.0L347.0,888.0L348.0,888.1L349.0,888.2L350.0,888.3L351.0,888.6L352.0,887.8L353.0,886.3L354.0,885.6L355.0,886.0L356.0,885.6L357.0,884.1L358.0,882.5L359.0,882.2L360.0,883.6L361.0,884.5L362.0,883.8L363.0,882.8L364.0,882.9L365.0,882.6L366.0,882.5L367.0,882.0L368.0,880.8L369.0,879.6L370.0,878.6L371.0,878.3L372.0,878.6L373.0,879.7L374.0,880.3L375.0,880.3L376.0,879.5L377.0,878.6L378.0,878.3L379.0,878.2L380.0,878.2L381.0,877.5L382.0,876.5L383.0,876.3L384.0,876.3L385.0,876.3L386.0,877.0L387.0,876.9L388.0,875.2L389.0,873.3L390.0,872.3L391.0,872.5L392.0,872.2L393.0,871.5L394.0,872.4L395.0,872.7L396.0,871.8L397.0,871.1L398.0,870.9L399.0,870.9L400.0,870.1L401.0,870.8L402.0,871.9L403.0,871.3L404.0,870.3L405.0,869.2L406.0,868.4L407.0,868.6L408.0,868.5L409.0,868.0L410.0,868.5L411.0,869.2L412.0,868.1L413.0,865.9L414.0,864.8L415.0,865.2L416.0,866.6L417.0,866.9L418.0,866.0L419.0,864.4L420.0,863.7L421.0,864.1L422.0,864.1L423.0,863.6L424.0,863.9L425.0,864.2L426.0,863.3L427.0,861.5L428.0,860.7L429.0,861.6L430.0,862.3L431.0,862.0L432.0,861.6L433.0,861.7L434.0,862.2L435.0,862.1L436.0,861.5L437.0,860.8L438.0,860.9L439.0,861.0L440.0,860.4L441.0,860.2L442.0,861.3L443.0,862.5L444.0,862.8L445.0,862.8L446.0,861.8L447.0,860.6L448.0,860.0L449.0,861.0L450.0,862.4L451.0,862.6L452.0,862.5L453.0,862.2L454.0,861.6L455.0,861.3L456.0,861.6L457.0,862.1L458.0,862.2L459.0,862.0L460.0,861.5L461.0,861.1L462.0,861.2L463.0,861.9L464.0,862.4L465.0,862.2L466.0,864.0L467.0,866.0L468.0,865.4L469.0,865.0L470.0,866.4L471.0,867.9L472.0,868.2L473.0,868.6L474.0,868.9L475.0,870.1L476.0,871.7L477.0,870.7L478.0,869.5L479.0,869.6L480.0,870.6L481.0,871.3L482.0,871.5L483.0,870.8L484.0,870.3L485.0,870.9L486.0,871.1L487.0,870.6L488.0,870.2L489.0,870.5L490.0,871.1L491.0,871.3L492.0,871.2L493.0,872.0L494.0,872.2L495.0,871.7L496.0,871.7L497.0,872.3L498.0,872.5L499.0,871.5L500.0,871.5L501.0,871.9L502.0,873.0L503.0,874.0L504.0,873.9L505.0,873.8L506.0,874.5L507.0,876.0L508.0,876.4L509.0,875.4L510.0,873.8L511.0,873.9L512.0,875.2L513.0,875.2L514.0,875.0L515.0,875.0L516.0,874.9L517.0,875.7L518.0,876.1L519.0,876.0L520.0,875.7L521.0,875.9L522.0,876.2L523.0,877.2L524.0,878.0L525.0,877.9L526.0,877.4L527.0,876.2L528.0,875.1L529.0,876.2L530.0,876.8L531.0,876.7L532.0,876.2L533.0,875.7L534.0,876.5L535.0,878.0L536.0,878.4L537.0,877.3L538.0,877.2L539.0,878.1L540.0,878.5L541.0,879.2L542.0,878.5L543.0,878.0L544.0,879.2L545.0,879.4L546.0,878.6L547.0,879.2L548.0,879.5L549.0,879.6L550.0,878.5L551.0,877.9L552.0,879.3L553.0,881.0L554.0,882.2L555.0,882.0L556.0,880.8L557.0,879.7L558.0,879.2L559.0,879.1L560.0,879.0L561.0,878.6L562.0,878.3L563.0,879.8L564.0,881.8L565.0,883.2L566.0,882.6L567.0,881.5L568.0,881.1L569.0,880.4L570.0,880.0L571.0,880.7L572.0,882.5L573.0,882.6L574.0,881.8L575.0,882.4L576.0,883.6L577.0,883.7L578.0,883.2L579.0,882.4L580.0,882.6L581.0,883.6L582.0,883.9L583.0,883.1L584.0,883.2L585.0,884.1L586.0,884.4L587.0,885.1L588.0,885.6L589.0,886.3L590.0,886.9L591.0,886.5L592.0,885.6L593.0,884.5L594.0,884.8L595.0,886.3L596.0,887.7L597.0,888.5L598.0,888.4L599.0,887.4L600.0,886.9L601.0,887.0L602.0,886.6L603.0,886.0L604.0,885.9L605.0,886.5L606.0,886.3L607.0,886.3L608.0,886.3L609.0,886.9L610.0,886.9L611.0,886.8L612.0,886.3L613.0,887.0L614.0,887.9L615.0,887.6L616.0,887.3L617.0,886.6L618.0,886.2L619.0,887.6L620.0,888.3L621.0,888.0L622.0,888.3L623.0,887.9L624.0,887.8L625.0,888.5L626.0,889.5L627.0,890.3L628.0,889.7L629.0,890.1L630.0,890.0L631.0,888.3L632.0,888.4L633.0,889.9L634.0,890.7L635.0,891.5L636.0,891.9L637.0,890.9L638.0,889.4L639.0,889.1L640.0,890.5L641.0,891.5L642.0,892.3L643.0,892.4L644.0,892.7L645.0,894.4L646.0,895.0L647.0,894.2L648.0,893.0L649.0,892.9L650.0,893.2L651.0,893.3L652.0,893.6L653.0,894.7L654.0,895.4L655.0,895.5L656.0,895.7L657.0,896.3L658.0,895.2L659.0,893.7L660.0,894.5L661.0,896.2L662.0,897.1L663.0,896.7L664.0,896.3L665.0,896.6L666.0,897.2L667.0,896.9L668.0,896.6L669.0,897.0L670.0,897.6L671.0,897.1L672.0,896.9L673.0,897.8L674.0,898.3L675.0,899.0L676.0,899.8L677.0,900.6L678.0,900.3L679.0,899.2L680.0,898.7L681.0,899.3L682.0,900.8L683.0,901.5L684.0,901.2L685.0,899.8L686.0,899.4L687.0,900.9L688.0,901.3L689.0,901.1L690.0,901.4L691.0,901.7L692.0,901.3L693.0,900.8L694.0,901.4L695.0,901.4L696.0,902.0L697.0,903.3L698.0,903.1L699.0,901.5L700.0,900.7L701.0,901.7L702.0,902.6L703.0,902.0L704.0,901.1L705.0,901.0L706.0,901.5L707.0,902.9L708.0,904.0L709.0,904.0L710.0,903.3L711.0,903.5L712.0,903.7L713.0,903.4L714.0,904.2L715.0,905.4L716.0,905.1L717.0,904.6L718.0,903.8L719.0,903.1L720.0,902.7L721.0,903.9L722.0,905.8L723.0,906.7L724.0,906.2L725.0,905.2L726.0,904.2L727.0,903.6L728.0,903.8L729.0,904.0L730.0,903.8L731.0,903.6L732.0,902.4L733.0,901.2L734.0,901.0L735.0,900.9L736.0,901.6L737.0,902.9L738.0,903.0L739.0,903.1L740.0,903.6L741.0,903.3L742.0,902.6L743.0,902.6L744.0,902.2L745.0,901.5L746.0,900.7L747.0,899.6L748.0,899.5L749.0,900.1L750.0,900.4L751.0,900.0L752.0,900.1L753.0,900.9L754.0,901.3L755.0,900.9L756.0,900.3L757.0,899.1L758.0,898.6L759.0,898.5L760.0,898.2L761.0,898.3L762.0,898.8L763.0,897.8L764.0,897.1L765.0,897.9L766.0,898.4L767.0,897.8L768.0,897.0L769.0,895.8L770.0,894.7L771.0,894.3L772.0,894.7L773.0,894.8L774.0,893.8L775.0,893.0L776.0,891.6L777.0,890.8L778.0,890.5L779.0,889.3L780.0,886.9L781.0,884.3L782.0,882.5L783.0,880.7L784.0,878.6L785.0,874.3L786.0,868.8L787.0,862.8L788.0,856.3L789.0,849.5L790.0,842.1L791.0,832.8L792.0,821.9L793.0,809.7L794.0,797.2L795.0,783.8L796.0,768.3L797.0,752.9L798.0,738.5L799.0,724.1L800.0,711.2L801.0,700.1L802.0,690.8L803.0,684.9L804.0,682.7L805.0,684.7L806.0,689.1L807.0,695.3L808.0,704.3L809.0,715.8L810.0,729.3L811.0,743.1L812.0,756.3L813.0,770.0L814.0,782.7L815.0,795.0L816.0,807.6L817.0,820.2L818.0,830.3L819.0,838.7L820.0,846.5L821.0,853.3L822.0,858.8L823.0,864.9L824.0,870.4L825.0,873.5L826.0,876.2L827.0,878.7L828.0,880.4L829.0,882.5L830.0,884.4L831.0,885.6L832.0,886.3L833.0,887.0L834.0,888.0L835.0,889.3L836.0,890.7L837.0,891.0L838.0,890.5L839.0,890.6L840.0,892.6L841.0,893.8L842.0,893.4L843.0,893.4L844.0,894.9L845.0,896.5L846.0,897.0L847.0,897.8L848.0,899.2L849.0,900.3L850.0,900.3L851.0,900.4L852.0,901.1L853.0,902.4L854.0,902.7L855.0,901.8L856.0,901.1L857.0,901.6L858.0,902.5L859.0,902.8L860.0,903.4L861.0,903.7L862.0,903.8L863.0,904.0L864.0,903.7L865.0,903.3L866.0,903.9L867.0,904.6L868.0,903.8L869.0,903.7L870.0,904.3L871.0,904.0L872.0,903.2L873.0,903.3L874.0,904.4L875.0,905.4L876.0,905.5L877.0,905.1L878.0,904.7L879.0,904.0L880.0,903.9L881.0,904.0L882.0,904.4L883.0,905.0L884.0,904.8L885.0,904.4L886.0,904.4L887.0,903.9L888.0,903.3L889.0,903.2L890.0,903.1L891.0,903.6L892.0,903.9L893.0,903.8L894.0,903.7L895.0,903.2L896.0,902.6L897.0,902.0L898.0,901.9L899.0,901.7L900.0,901.7L901.0,901.7L902.0,901.3L903.0,900.3L904.0,900.1L905.0,900.9L906.0,901.6L907.0,901.9L908.0,902.2L909.0,902.2L910.0,901.6L911.0,900.7L912.0,899.9L913.0,899.7L914.0,900.0L915.0,900.3L916.0,900.3L917.0,899.9L918.0,899.7L919.0,899.7L920.0,899.4L921.0,898.9L922.0,898.1L923.0,897.0L924.0,896.3L925.0,896.0L926.0,895.2L927.0,893.9L928.0,892.9L929.0,891.8L930.0,889.3L931.0,886.8L932.0,884.4L933.0,881.7L934.0,879.4L935.0,877.2L936.0,873.7L937.0,869.7L938.0,865.6L939.0,861.6L940.0,857.6L941.0,853.4L942.0,849.7L943.0,847.0L944.0,844.9L945.0,843.3L946.0,842.1L947.0,842.0L948.0,844.0L949.0,846.4L950.0,847.7L951.0,848.9L952.0,851.1L953.0,854.1L954.0,857.2L955.0,860.7L956.0,864.1L957.0,867.8L958.0,870.7L959.0,872.9L960.0,875.9L961.0,878.6L962.0,881.0L963.0,883.9L964.0,886.9L965.0,889.3L966.0,891.2L967.0,893.9L968.0,896.4L969.0,897.6L970.0,898.5L971.0,899.3L972.0,900.3L973.0,901.8L974.0,903.3L975.0,904.8L976.0,906.0L977.0,906.4L978.0,906.7L979.0,907.0L980.0,906.5L981.0,906.6L982.0,907.4L983.0,908.2L984.0,909.0L985.0,909.7L986.0,910.7L987.0,911.2L988.0,911.0L989.0,910.8L990.0,911.2L991.0,911.3L992.0,911.2L993.0,911.7L994.0,912.3L995.0,912.7L996.0,913.3L997.0,913.2L998.0,912.6L999.0,912.6L1000.0,912.7L1001.0,913.1L1002.0,913.3L1003.0,913.8L1004.0,914.2L1005.0,914.3L1006.0,913.9L1007.0,913.9L1008.0,914.7L1009.0,915.0L1010.0,915.3L1011.0,915.4L1012.0,915.7L1013.0,916.1L1014.0,916.0L1015.0,915.7L1016.0,915.3L1017.0,915.5L1018.0,915.6L1019.0,915.7L1020.0,916.0L1021.0,916.5L1022.0,916.5L1023.0,915.8L1024.0,915.8L1025.0,916.3L1026.0,916.8L1027.0,916.8L1028.0,916.8L1029.0,917.0L1030.0,917.4L1031.0,917.6L1032.0,917.2L1033.0,916.9L1034.0,916.8L1035.0,917.4L1036.0,917.8L1037.0,917.8L1038.0,917.5L1039.0,916.6L1040.0,916.2L1041.0,916.7L1042.0,917.4L1043.0,917.9L1044.0,918.1L1045.0,918.3L1046.0,918.4L1047.0,917.9L1048.0,917.5L1049.0,918.0L1050.0,918.5L1051.0,918.0L1052.0,918.4L1053.0,919.2L1054.0,919.0L1055.0,918.6L1056.0,918.9L1057.0,919.4L1058.0,919.4L1059.0,919.0L1060.0,919.2L1061.0,919.6L1062.0,919.9L1063.0,919.8L1064.0,919.0L1065.0,918.6L1066.0,919.4L1067.0,920.2L1068.0,920.1L1069.0,920.1L1070.0,920.2L1071.0,919.6L1072.0,919.5L1073.0,919.3L1074.0,919.4L1075.0,919.8L1076.0,919.9L1077.0,919.3L1078.0,918.8L1079.0,918.8L1080.0,919.3L1081.0,919.5L1082.0,919.5L1083.0,919.2L1084.0,919.5L1085.0,920.0L1086.0,920.1L1087.0,920.2L1088.0,920.0L1089.0,919.5L1090.0,919.4L1091.0,920.0L1092.0,920.3L1093.0,919.9L1094.0,918.9L1095.0,918.3L1096.0,918.5L1097.0,919.4L1098.0,920.4L1099.0,920.6L1100.0,920.4L1101.0,920.5L1102.0,920.6L1103.0,920.5L1104.0,920.5L1105.0,920.0L1106.0,919.5L1107.0,920.1L1108.0,920.9L1109.0,920.7L1110.0,920.4L1111.0,920.4L1112.0,920.7L1113.0,921.1L1114.0,920.7L1115.0,919.8L1116.0,919.2L1117.0,919.6L1118.0,919.7L1119.0,920.2L1120.0,921.2L1121.0,921.4L1122.0,921.0L1123.0,921.5L1124.0,921.7L1125.0,921.5L1126.0,921.4L1127.0,920.8L1128.0,920.5L1129.0,920.7L1130.0,921.2L1131.0,921.7L1132.0,921.3L1133.0,921.1L1134.0,921.4L1135.0,922.0L1136.0,922.3L1137.0,922.4L1138.0,921.9L1139.0,921.5L1140.0,921.8L1141.0,922.1L1142.0,922.2L1143.0,922.8L1144.0,923.2L1145.0,922.8L1146.0,922.8L1147.0,923.0L1148.0,922.4L1149.0,921.9L1150.0,922.0L1151.0,922.6L1152.0,922.8L1153.0,922.7L1154.0,922.9L1155.0,923.3L1156.0,922.9L1157.0,922.2L1158.0,922.3L1159.0,922.7L1160.0,922.8L1161.0,922.4L1162.0,922.0L1163.0,921.7L1164.0,921.5L1165.0,921.9L1166.0,922.2L1167.0,922.2L1168.0,921.9L1169.0,921.7L1170.0,921.5L1171.0,921.7L1172.0,922.2L1173.0,922.3L1174.0,922.1L1175.0,921.8L1176.0,921.6L1177.0,921.3L1178.0,921.5L1179.0,921.9L1180.0,922.3L1181.0,922.3L1182.0,922.3L1183.0,922.5L1184.0,922.5L1185.0,922.5L1186.0,922.4L1187.0,922.1L1188.0,921.9L1189.0,921.9L1190.0,921.9L1191.0,922.3L1192.0,922.7L1193.0,922.4L1194.0,921.7L1195.0,921.2L1196.0,921.5L1197.0,922.0L1198.0,922.2L1199.0,921.9L1200.0,921.9L1201.0,922.0L1202.0,921.8L1203.0,922.2L1204.0,922.9L1205.0,923.1L1206.0,922.6L1207.0,922.0L1208.0,921.7L1209.0,921.9L1210.0,922.0L1211.0,921.9L1212.0,921.7L1213.0,921.7L1214.0,921.9L1215.0,922.3L1216.0,922.6L1217.0,921.9L1218.0,921.0L1219.0,920.7L1220.0,920.7L1221.0,921.3L1222.0,921.9L1223.0,922.0L1224.0,921.8L1225.0,921.6L1226.0,921.2L1227.0,920.7L1228.0,920.7L1229.0,921.4L1230.0,922.0L1231.0,921.9L1232.0,922.5L1233.0,922.6L1234.0,922.1L1235.0,921.7L1236.0,921.6L1237.0,921.9L1238.0,922.2L1239.0,922.3L1240.0,922.6L1241.0,922.7L1242.0,922.4L1243.0,922.1L1244.0,922.0L1245.0,921.8L1246.0,921.6L1247.0,921.8L1248.0,921.9L1249.0,922.0L1250.0,922.3L1251.0,921.7L1252.0,921.3L1253.0,921.2L1254.0,920.8L1255.0,920.6L1256.0,920.7L1257.0,921.0L1258.0,921.6L1259.0,922.2L1260.0,922.6L1261.0,922.7L1262.0,922.7L1263.0,922.3L1264.0,922.0L1265.0,922.0L1266.0,921.7L1267.0,921.8L1268.0,922.5L1269.0,922.5L1270.0,922.3L1271.0,922.3L1272.0,922.0L1273.0,921.3L1274.0,921.1L1275.0,921.1L1276.0,921.3L1277.0,921.7L1278.0,922.2L1279.0,922.0L1280.0,921.4L1281.0,921.2L1282.0,921.1L1283.0,921.5L1284.0,921.8L1285.0,921.3L1286.0,920.7L1287.0,921.1L1288.0,921.7L1289.0,922.0L1290.0,921.8L1291.0,921.3L1292.0,921.3L1293.0,921.3L1294.0,921.5L1295.0,921.8L1296.0,921.7L1297.0,921.3L1298.0,921.0L1299.0,920.6L1300.0,920.6L1301.0,921.1L1302.0,920.9L1303.0,920.4L1304.0,920.6L1305.0,921.4L1306.0,922.1L1307.0,922.1L1308.0,921.4L1309.0,920.6L1310.0,920.8L1311.0,921.3L1312.0,921.4L1313.0,921.3L1314.0,921.4L1315.0,922.0L1316.0,921.8L1317.0,921.0L1318.0,920.8L1319.0,921.3L1320.0,921.2L1321.0,921.5L1322.0,921.5L1323.0,920.7L1324.0,920.4L1325.0,920.5L1326.0,920.7L1327.0,921.1L1328.0,921.4L1329.0,921.0L1330.0,920.6L1331.0,920.5L1332.0,920.2L1333.0,920.3L1334.0,920.6L1335.0,919.9L1336.0,919.5L1337.0,919.3L1338.0,918.8L1339.0,918.7L1340.0,919.3L1341.0,919.2L1342.0,919.0L1343.0,918.8L1344.0,918.6L1345.0,918.7L1346.0,919.6L1347.0,920.4L1348.0,920.1L1349.0,919.2L1350.0,918.4L1351.0,918.3L1352.0,918.4L1353.0,918.7L1354.0,918.7L1355.0,918.5L1356.0,918.3L1357.0,917.8L1358.0,917.6L1359.0,917.7L1360.0,917.3L1361.0,917.1L1362.0,917.3L1363.0,917.5L1364.0,917.9L1365.0,918.2L1366.0,917.9L1367.0,917.6L1368.0,917.5L1369.0,917.1L1370.0,916.5L1371.0,916.4L1372.0,916.1L1373.0,915.8L1374.0,916.1L1375.0,916.3L1376.0,916.5L1377.0,916.0L1378.0,915.1L1379.0,915.5L1380.0,916.4L1381.0,916.3L1382.0,915.8L1383.0,914.6L1384.0,913.5L1385.0,913.4L1386.0,913.9L1387.0,913.6L1388.0,912.7L1389.0,912.1L1390.0,911.5L1391.0,910.5L1392.0,910.5L1393.0,910.9L1394.0,910.3L1395.0,908.9L1396.0,907.5L1397.0,905.4L1398.0,903.1L1399.0,901.3L1400.0,900.2L1401.0,898.7L1402.0,896.7L1403.0,893.5L1404.0,889.7L1405.0,886.0L1406.0,882.8L1407.0,878.7L1408.0,873.9L1409.0,869.2L1410.0,865.4L1411.0,861.1L1412.0,856.1L1413.0,851.8L1414.0,848.2L1415.0,845.2L1416.0,842.9L1417.0,841.6L1418.0,840.9L1419.0,841.0L1420.0,842.2L1421.0,844.2L1422.0,848.0L1423.0,852.4L1424.0,856.3L1425.0,859.9L1426.0,863.8L1427.0,867.6L1428.0,872.0L1429.0,876.6L1430.0,880.3L1431.0,883.6L1432.0,887.3L1433.0,890.6L1434.0,892.8L1435.0,894.7L1436.0,896.1L1437.0,898.1L1438.0,900.7L1439.0,902.7L1440.0,904.0L1441.0,905.0L1442.0,906.4L1443.0,908.1L1444.0,909.1L1445.0,909.1L1446.0,909.4L1447.0,910.7L1448.0,911.6L1449.0,912.0L1450.0,912.7L1451.0,913.4L1452.0,913.2L1453.0,912.8L1454.0,912.4L1455.0,912.6L1456.0,913.2L1457.0,913.8L1458.0,914.2L1459.0,914.5L1460.0,914.9L1461.0,914.5L1462.0,914.5L1463.0,914.7L1464.0,914.9L1465.0,915.5L1466.0,915.9L1467.0,916.2L1468.0,916.6L1469.0,916.5L1470.0,916.0L1471.0,915.5L1472.0,915.3L1473.0,915.7L1474.0,916.2L1475.0,916.6L1476.0,916.5L1477.0,915.8L1478.0,915.7L1479.0,916.4L1480.0,917.4L1481.0,917.4L1482.0,917.1L1483.0,917.3L1484.0,917.9L1485.0,918.0L1486.0,917.7L1487.0,917.7L1488.0,918.5L1489.0,919.0L1490.0,919.2L1491.0,919.3L1492.0,919.0L1493.0,919.0L1494.0,919.3L1495.0,919.3L1496.0,919.1L1497.0,919.1L1498.0,919.3L1499.0,919.8L1500.0,920.1L1501.0,920.2L1502.0,920.1L1503.0,919.5L1504.0,919.7L1505.0,920.3L1506.0,919.8L1507.0,919.6L1508.0,920.4L1509.0,920.4L1510.0,920.0L1511.0,920.1L1512.0,919.7L1513.0,919.6L1514.0,920.0L1515.0,920.0L1516.0,920.0L1517.0,920.1L1518.0,920.3L1519.0,920.7L1520.0,921.1L1521.0,921.2L1522.0,920.7L1523.0,920.2L1524.0,920.4L1525.0,921.3L1526.0,922.2L1527.0,922.1L1528.0,921.7L1529.0,921.7L1530.0,921.6L1531.0,921.9L1532.0,922.0L1533.0,922.3L1534.0,922.3L1535.0,922.1L1536.0,921.9L1537.0,921.7L1538.0,922.2L1539.0,923.6L1540.0,924.4L1541.0,923.5L1542.0,922.4L1543.0,922.1L1544.0,922.1L1545.0,921.7L1546.0,921.7L1547.0,922.1L1548.0,922.4L1549.0,923.1L1550.0,923.1L1551.0,922.4L1552.0,921.8L1553.0,921.4L1554.0,921.7L1555.0,922.5L1556.0,922.9L1557.0,922.9L1558.0,922.6L1559.0,922.4L1560.0,922.2L1561.0,922.0L1562.0,922.6L1563.0,923.4L1564.0,923.4L1565.0,922.7L1566.0,922.8L1567.0,923.4L1568.0,923.3L1569.0,922.3L1570.0,922.2L1571.0,922.8L1572.0,923.0L1573.0,922.7L1574.0,922.7L1575.0,923.2L1576.0,923.7L1577.0,923.3L1578.0,922.7L1579.0,922.7L1580.0,923.1L1581.0,922.9L1582.0,922.3L1583.0,922.1L1584.0,921.8L1585.0,921.6L1586.0,921.4L1587.0,921.4L1588.0,921.7L1589.0,922.1L1590.0,922.7L1591.0,922.9L1592.0,922.4L1593.0,922.1L1594.0,922.0L1595.0,921.3L1596.0,921.4L1597.0,922.5L1598.0,923.1L1599.0,923.0L1600.0,922.3L1601.0,921.8L1602.0,922.0L1603.0,922.3L1604.0,922.0L1605.0,921.5L1606.0,921.3L1607.0,921.7L1608.0,922.4L1609.0,922.3L1610.0,921.6L1611.0,921.4L1612.0,921.8L1613.0,922.0L1614.0,921.6L1615.0,921.2L1616.0,920.8L1617.0,921.1L1618.0,922.0L1619.0,922.2L1620.0,921.5L1621.0,921.5L1622.0,921.9L1623.0,921.7L1624.0,921.7L1625.0,922.0L1626.0,922.2L1627.0,922.4L1628.0,922.1L1629.0,921.6L1630.0,921.4L1631.0,921.1L1632.0,920.7L1633.0,920.9L1634.0,921.2L1635.0,921.1L1636.0,921.5L1637.0,921.5L1638.0,921.4L1639.0,921.5L1640.0,921.7L1641.0,921.6L1642.0,921.0L1643.0,920.8L1644.0,921.2L1645.0,921.7L1646.0,921.3L1647.0,920.4L1648.0,920.1L1649.0,920.1L1650.0,920.4L1651.0,920.9L1652.0,921.0L1653.0,920.3L1654.0,920.4L1655.0,920.3L1656.0,919.8L1657.0,919.7L1658.0,919.7L1659.0,919.9L1660.0,919.9L1661.0,919.6L1662.0,919.9L1663.0,920.0L1664.0,920.2L1665.0,920.2L1666.0,920.2L1667.0,920.0L1668.0,919.7L1669.0,919.1L1670.0,918.7L1671.0,919.0L1672.0,919.4L1673.0,918.9L1674.0,917.8L1675.0,917.6L1676.0,917.7L1677.0,917.2L1678.0,917.4L1679.0,918.0L1680.0,917.5L1681.0,916.6L1682.0,916.6L1683.0,916.4L1684.0,915.7L1685.0,914.9L1686.0,913.9L1687.0,912.9L1688.0,912.4L1689.0,912.2L1690.0,911.8L1691.0,910.9L1692.0,908.9L1693.0,906.9L1694.0,906.1L1695.0,905.4L1696.0,903.9L1697.0,901.9L1698.0,900.0L1699.0,898.1L1700.0,895.4L1701.0,892.6L1702.0,889.3L1703.0,885.8L1704.0,882.2L1705.0,877.6L1706.0,873.5L1707.0,869.5L1708.0,864.9L1709.0,859.9L1710.0,854.4L1711.0,849.2L1712.0,844.2L1713.0,838.4L1714.0,832.8L1715.0,828.0L1716.0,824.6L1717.0,822.5L1718.0,821.1L1719.0,820.4L1720.0,821.0L1721.0,822.7L1722.0,825.0L1723.0,828.6L1724.0,832.8L1725.0,837.4L1726.0,842.3L1727.0,847.3L1728.0,852.6L1729.0,858.4L1730.0,863.5L1731.0,867.9L1732.0,872.1L1733.0,876.4L1734.0,880.5L1735.0,884.5L1736.0,887.9L1737.0,890.2L1738.0,892.5L1739.0,894.3L1740.0,895.6L1741.0,898.3L1742.0,901.3L1743.0,903.6L1744.0,905.3L1745.0,907.2L1746.0,908.6L1747.0,909.6L1748.0,911.1L1749.0,912.3L1750.0,912.5L1751.0,912.9L1752.0,913.9L1753.0,914.4L1754.0,914.7L1755.0,915.3L1756.0,916.0L1757.0,917.0L1758.0,917.7L1759.0,918.1L1760.0,918.0L1761.0,917.7L1762.0,918.1L1763.0,918.6L1764.0,919.0L1765.0,919.5L1766.0,918.8L1767.0,918.3L1768.0,918.7L1769.0,918.6L1770.0,918.2" fill="none" stroke="#ff0000" stroke-width="8.4" stroke-linejoin="round" stroke-linecap="round"/>
<path transform="translate(0,-0.75)" d="M145.0,1178.8L146.0,1179.1L147.0,1179.4L148.0,1178.1L149.0,1176.0L150.0,1176.2L151.0,1177.2L152.0,1178.1L153.0,1179.0L154.0,1179.7L155.0,1179.5L156.0,1179.0L157.0,1179.4L158.0,1179.9L159.0,1179.3L160.0,1179.6L161.0,1180.2L162.0,1179.0L163.0,1177.7L164.0,1178.2L165.0,1178.7L166.0,1179.2L167.0,1180.0L168.0,1179.8L169.0,1179.6L170.0,1179.9L171.0,1179.9L172.0,1179.7L173.0,1179.6L174.0,1179.4L175.0,1179.0L176.0,1178.8L177.0,1178.7L178.0,1178.2L179.0,1178.6L180.0,1179.9L181.0,1179.8L182.0,1179.6L183.0,1179.6L184.0,1179.7L185.0,1179.8L186.0,1179.7L187.0,1179.7L188.0,1180.2L189.0,1180.2L190.0,1179.8L191.0,1178.7L192.0,1179.1L193.0,1180.4L194.0,1180.4L195.0,1180.0L196.0,1180.1L197.0,1179.8L198.0,1179.3L199.0,1178.7L200.0,1179.2L201.0,1180.2L202.0,1181.3L203.0,1181.5L204.0,1181.3L205.0,1181.5L206.0,1180.1L207.0,1178.3L208.0,1178.8L209.0,1181.0L210.0,1181.1L211.0,1180.2L212.0,1179.7L213.0,1180.3L214.0,1181.5L215.0,1182.0L216.0,1182.0L217.0,1180.3L218.0,1179.1L219.0,1180.0L220.0,1180.3L221.0,1180.7L222.0,1181.2L223.0,1181.0L224.0,1180.8L225.0,1180.0L226.0,1179.3L227.0,1179.4L228.0,1179.6L229.0,1180.3L230.0,1180.3L231.0,1179.7L232.0,1179.5L233.0,1179.2L234.0,1178.8L235.0,1178.8L236.0,1178.4L237.0,1177.9L238.0,1177.3L239.0,1177.4L240.0,1177.3L241.0,1176.6L242.0,1176.3L243.0,1176.6L244.0,1176.9L245.0,1176.7L246.0,1177.3L247.0,1177.9L248.0,1176.6L249.0,1175.3L250.0,1176.0L251.0,1176.7L252.0,1176.6L253.0,1176.9L254.0,1176.8L255.0,1176.1L256.0,1175.2L257.0,1174.7L258.0,1174.8L259.0,1175.2L260.0,1175.5L261.0,1175.3L262.0,1174.7L263.0,1174.6L264.0,1174.0L265.0,1172.9L266.0,1172.6L267.0,1172.9L268.0,1173.3L269.0,1173.3L270.0,1173.1L271.0,1173.1L272.0,1173.6L273.0,1173.1L274.0,1172.0L275.0,1172.0L276.0,1172.6L277.0,1173.4L278.0,1172.8L279.0,1172.1L280.0,1172.1L281.0,1172.1L282.0,1172.6L283.0,1173.2L284.0,1172.9L285.0,1172.8L286.0,1172.3L287.0,1171.6L288.0,1172.3L289.0,1172.3L290.0,1171.4L291.0,1170.5L292.0,1170.6L293.0,1170.4L294.0,1170.5L295.0,1171.3L296.0,1170.5L297.0,1169.4L298.0,1169.4L299.0,1169.9L300.0,1170.0L301.0,1169.8L302.0,1169.8L303.0,1168.9L304.0,1166.9L305.0,1166.0L306.0,1166.1L307.0,1167.1L308.0,1167.9L309.0,1167.1L310.0,1165.7L311.0,1165.7L312.0,1166.1L313.0,1165.5L314.0,1165.1L315.0,1164.6L316.0,1164.0L317.0,1164.8L318.0,1165.2L319.0,1164.5L320.0,1163.3L321.0,1162.7L322.0,1163.0L323.0,1163.5L324.0,1163.7L325.0,1164.2L326.0,1165.0L327.0,1164.3L328.0,1162.6L329.0,1162.5L330.0,1163.3L331.0,1163.2L332.0,1163.6L333.0,1163.3L334.0,1161.8L335.0,1161.0L336.0,1160.6L337.0,1159.8L338.0,1159.5L339.0,1160.1L340.0,1160.6L341.0,1160.0L342.0,1159.4L343.0,1158.8L344.0,1158.7L345.0,1158.8L346.0,1157.5L347.0,1157.6L348.0,1158.1L349.0,1157.9L350.0,1158.6L351.0,1158.8L352.0,1157.6L353.0,1156.9L354.0,1156.6L355.0,1157.0L356.0,1157.1L357.0,1157.3L358.0,1157.7L359.0,1157.5L360.0,1157.2L361.0,1156.0L362.0,1154.7L363.0,1154.7L364.0,1154.4L365.0,1153.9L366.0,1154.5L367.0,1154.3L368.0,1153.4L369.0,1152.6L370.0,1152.6L371.0,1152.6L372.0,1152.0L373.0,1151.1L374.0,1150.5L375.0,1150.9L376.0,1149.6L377.0,1148.2L378.0,1148.4L379.0,1149.2L380.0,1149.6L381.0,1149.2L382.0,1149.0L383.0,1149.4L384.0,1150.6L385.0,1150.6L386.0,1149.8L387.0,1148.3L388.0,1147.6L389.0,1147.2L390.0,1147.4L391.0,1146.8L392.0,1145.0L393.0,1144.1L394.0,1143.7L395.0,1143.5L396.0,1143.5L397.0,1143.2L398.0,1143.2L399.0,1143.9L400.0,1143.9L401.0,1142.8L402.0,1142.5L403.0,1142.7L404.0,1142.5L405.0,1142.4L406.0,1143.1L407.0,1143.3L408.0,1142.8L409.0,1142.7L410.0,1143.5L411.0,1143.1L412.0,1141.4L413.0,1140.8L414.0,1140.8L415.0,1140.1L416.0,1139.9L417.0,1139.5L418.0,1138.7L419.0,1138.0L420.0,1137.3L421.0,1137.0L422.0,1137.8L423.0,1140.1L424.0,1140.8L425.0,1140.0L426.0,1139.2L427.0,1139.2L428.0,1139.4L429.0,1139.0L430.0,1138.0L431.0,1136.8L432.0,1136.5L433.0,1135.9L434.0,1135.1L435.0,1135.4L436.0,1136.7L437.0,1137.1L438.0,1136.9L439.0,1138.1L440.0,1138.3L441.0,1136.9L442.0,1136.3L443.0,1136.8L444.0,1137.2L445.0,1136.5L446.0,1135.9L447.0,1135.8L448.0,1135.5L449.0,1136.8L450.0,1138.1L451.0,1138.2L452.0,1138.3L453.0,1138.3L454.0,1138.2L455.0,1137.5L456.0,1136.8L457.0,1137.1L458.0,1138.0L459.0,1139.4L460.0,1139.8L461.0,1138.7L462.0,1137.6L463.0,1137.6L464.0,1138.8L465.0,1140.1L466.0,1140.0L467.0,1139.5L468.0,1139.6L469.0,1140.6L470.0,1141.0L471.0,1141.0L472.0,1141.8L473.0,1142.7L474.0,1143.0L475.0,1143.7L476.0,1143.8L477.0,1143.3L478.0,1143.1L479.0,1142.4L480.0,1141.9L481.0,1141.9L482.0,1142.3L483.0,1143.2L484.0,1143.8L485.0,1144.1L486.0,1143.2L487.0,1141.7L488.0,1142.1L489.0,1142.5L490.0,1143.2L491.0,1143.7L492.0,1144.6L493.0,1144.9L494.0,1144.0L495.0,1144.1L496.0,1144.0L497.0,1143.8L498.0,1144.8L499.0,1145.2L500.0,1144.9L501.0,1146.0L502.0,1147.5L503.0,1145.9L504.0,1144.0L505.0,1144.2L506.0,1145.0L507.0,1145.5L508.0,1145.6L509.0,1145.7L510.0,1146.1L511.0,1145.7L512.0,1145.1L513.0,1145.4L514.0,1146.5L515.0,1147.7L516.0,1147.7L517.0,1147.2L518.0,1147.5L519.0,1148.4L520.0,1149.0L521.0,1148.3L522.0,1148.2L523.0,1148.2L524.0,1147.6L525.0,1147.9L526.0,1148.1L527.0,1148.3L528.0,1149.1L529.0,1150.0L530.0,1149.9L531.0,1149.3L532.0,1149.8L533.0,1150.3L534.0,1149.2L535.0,1149.3L536.0,1150.0L537.0,1150.0L538.0,1150.1L539.0,1150.3L540.0,1150.8L541.0,1150.9L542.0,1150.2L543.0,1149.9L544.0,1149.8L545.0,1149.6L546.0,1149.5L547.0,1149.7L548.0,1151.3L549.0,1152.8L550.0,1153.1L551.0,1152.1L552.0,1151.2L553.0,1151.4L554.0,1151.0L555.0,1151.5L556.0,1152.1L557.0,1151.5L558.0,1151.7L559.0,1151.8L560.0,1151.2L561.0,1151.0L562.0,1151.5L563.0,1152.0L564.0,1152.9L565.0,1152.7L566.0,1151.3L567.0,1151.0L568.0,1151.1L569.0,1150.7L570.0,1151.0L571.0,1151.8L572.0,1151.7L573.0,1151.1L574.0,1151.8L575.0,1152.4L576.0,1151.9L577.0,1152.6L578.0,1154.4L579.0,1154.2L580.0,1152.2L581.0,1151.9L582.0,1152.7L583.0,1152.7L584.0,1153.0L585.0,1153.5L586.0,1153.1L587.0,1151.4L588.0,1151.0L589.0,1152.8L590.0,1154.5L591.0,1154.2L592.0,1153.7L593.0,1154.9L594.0,1155.6L595.0,1155.2L596.0,1155.3L597.0,1156.2L598.0,1156.9L599.0,1156.7L600.0,1156.4L601.0,1156.0L602.0,1155.6L603.0,1155.6L604.0,1156.2L605.0,1156.4L606.0,1157.0L607.0,1157.9L608.0,1158.2L609.0,1157.6L610.0,1156.8L611.0,1157.1L612.0,1157.0L613.0,1156.8L614.0,1157.6L615.0,1159.1L616.0,1159.1L617.0,1157.9L618.0,1157.5L619.0,1158.3L620.0,1159.2L621.0,1159.6L622.0,1158.1L623.0,1157.4L624.0,1158.6L625.0,1159.7L626.0,1160.5L627.0,1161.6L628.0,1162.0L629.0,1160.7L630.0,1159.4L631.0,1159.2L632.0,1160.6L633.0,1161.6L634.0,1161.8L635.0,1162.3L636.0,1162.6L637.0,1162.9L638.0,1162.1L639.0,1160.9L640.0,1160.3L641.0,1159.9L642.0,1160.4L643.0,1162.3L644.0,1164.1L645.0,1164.7L646.0,1163.6L647.0,1162.6L648.0,1162.7L649.0,1163.8L650.0,1164.0L651.0,1163.8L652.0,1164.3L653.0,1163.9L654.0,1163.3L655.0,1164.1L656.0,1164.5L657.0,1164.3L658.0,1165.1L659.0,1166.9L660.0,1167.7L661.0,1166.9L662.0,1165.2L663.0,1165.0L664.0,1165.5L665.0,1164.9L666.0,1164.4L667.0,1165.3L668.0,1167.6L669.0,1168.4L670.0,1167.8L671.0,1167.3L672.0,1166.9L673.0,1167.1L674.0,1167.7L675.0,1168.0L676.0,1168.4L677.0,1168.0L678.0,1168.1L679.0,1169.2L680.0,1169.4L681.0,1169.1L682.0,1168.1L683.0,1167.6L684.0,1168.5L685.0,1169.1L686.0,1169.5L687.0,1168.5L688.0,1168.4L689.0,1170.0L690.0,1170.9L691.0,1170.6L692.0,1170.3L693.0,1170.6L694.0,1170.1L695.0,1170.1L696.0,1170.5L697.0,1171.3L698.0,1172.0L699.0,1172.0L700.0,1172.4L701.0,1172.1L702.0,1170.7L703.0,1170.5L704.0,1171.3L705.0,1171.9L706.0,1171.9L707.0,1171.7L708.0,1173.0L709.0,1173.6L710.0,1172.8L711.0,1172.1L712.0,1172.5L713.0,1173.1L714.0,1173.7L715.0,1173.9L716.0,1174.1L717.0,1174.1L718.0,1173.7L719.0,1172.2L720.0,1172.2L721.0,1173.0L722.0,1173.0L723.0,1173.3L724.0,1173.1L725.0,1173.0L726.0,1172.8L727.0,1173.1L728.0,1173.5L729.0,1173.5L730.0,1174.1L731.0,1174.8L732.0,1173.9L733.0,1173.1L734.0,1173.9L735.0,1174.6L736.0,1174.9L737.0,1174.4L738.0,1173.3L739.0,1173.6L740.0,1173.7L741.0,1172.7L742.0,1171.2L743.0,1169.7L744.0,1170.8L745.0,1171.8L746.0,1170.6L747.0,1170.4L748.0,1171.3L749.0,1171.8L750.0,1171.3L751.0,1169.8L752.0,1169.7L753.0,1169.8L754.0,1168.9L755.0,1169.4L756.0,1170.6L757.0,1170.1L758.0,1168.0L759.0,1165.9L760.0,1166.1L761.0,1166.5L762.0,1166.1L763.0,1166.4L764.0,1166.8L765.0,1164.7L766.0,1162.8L767.0,1162.1L768.0,1161.2L769.0,1160.1L770.0,1159.4L771.0,1158.5L772.0,1156.6L773.0,1154.2L774.0,1152.7L775.0,1151.1L776.0,1148.9L777.0,1146.7L778.0,1143.1L779.0,1138.7L780.0,1135.1L781.0,1131.3L782.0,1125.1L783.0,1117.3L784.0,1108.7L785.0,1098.5L786.0,1087.8L787.0,1076.9L788.0,1064.3L789.0,1049.9L790.0,1034.1L791.0,1017.6L792.0,1000.9L793.0,985.5L794.0,971.6L795.0,960.3L796.0,952.9L797.0,950.2L798.0,954.2L799.0,963.7L800.0,975.6L801.0,988.5L802.0,1002.7L803.0,1018.2L804.0,1034.4L805.0,1049.4L806.0,1062.8L807.0,1076.1L808.0,1088.0L809.0,1097.9L810.0,1106.4L811.0,1114.5L812.0,1121.6L813.0,1128.5L814.0,1133.6L815.0,1137.9L816.0,1142.8L817.0,1146.5L818.0,1149.2L819.0,1152.0L820.0,1153.6L821.0,1155.7L822.0,1157.3L823.0,1158.1L824.0,1160.1L825.0,1161.6L826.0,1162.3L827.0,1163.0L828.0,1164.0L829.0,1164.4L830.0,1165.0L831.0,1165.9L832.0,1167.0L833.0,1168.1L834.0,1167.9L835.0,1168.0L836.0,1168.8L837.0,1169.8L838.0,1170.7L839.0,1170.8L840.0,1170.4L841.0,1170.3L842.0,1171.0L843.0,1171.6L844.0,1171.5L845.0,1170.6L846.0,1170.7L847.0,1172.5L848.0,1173.0L849.0,1172.5L850.0,1172.1L851.0,1171.6L852.0,1171.5L853.0,1171.8L854.0,1172.1L855.0,1171.9L856.0,1171.8L857.0,1172.6L858.0,1173.2L859.0,1173.1L860.0,1172.6L861.0,1172.2L862.0,1172.8L863.0,1173.0L864.0,1172.5L865.0,1172.6L866.0,1173.4L867.0,1173.8L868.0,1174.1L869.0,1174.3L870.0,1174.4L871.0,1173.9L872.0,1173.4L873.0,1173.9L874.0,1174.4L875.0,1174.7L876.0,1174.5L877.0,1174.7L878.0,1175.5L879.0,1176.1L880.0,1176.1L881.0,1176.0L882.0,1175.9L883.0,1175.9L884.0,1175.9L885.0,1175.6L886.0,1175.4L887.0,1175.9L888.0,1176.5L889.0,1175.7L890.0,1174.9L891.0,1174.6L892.0,1174.6L893.0,1174.1L894.0,1172.9L895.0,1172.2L896.0,1172.2L897.0,1171.9L898.0,1172.0L899.0,1172.2L900.0,1172.4L901.0,1172.1L902.0,1170.8L903.0,1169.4L904.0,1168.6L905.0,1168.5L906.0,1168.3L907.0,1167.9L908.0,1168.2L909.0,1168.6L910.0,1168.4L911.0,1167.9L912.0,1167.2L913.0,1166.4L914.0,1165.5L915.0,1164.9L916.0,1165.2L917.0,1165.3L918.0,1164.1L919.0,1162.5L920.0,1161.1L921.0,1160.1L922.0,1158.3L923.0,1156.5L924.0,1154.2L925.0,1151.7L926.0,1149.5L927.0,1146.7L928.0,1143.5L929.0,1140.1L930.0,1136.3L931.0,1132.3L932.0,1128.5L933.0,1124.4L934.0,1120.2L935.0,1115.9L936.0,1112.1L937.0,1109.3L938.0,1107.3L939.0,1106.3L940.0,1105.6L941.0,1105.2L942.0,1106.2L943.0,1108.1L944.0,1111.4L945.0,1115.2L946.0,1118.9L947.0,1123.6L948.0,1129.0L949.0,1133.8L950.0,1137.9L951.0,1142.1L952.0,1146.4L953.0,1149.3L954.0,1152.2L955.0,1155.6L956.0,1158.1L957.0,1160.0L958.0,1162.1L959.0,1163.8L960.0,1165.1L961.0,1166.1L962.0,1167.0L963.0,1168.3L964.0,1168.9L965.0,1169.1L966.0,1169.9L967.0,1171.0L968.0,1171.4L969.0,1172.0L970.0,1172.5L971.0,1172.5L972.0,1172.5L973.0,1173.4L974.0,1174.4L975.0,1174.9L976.0,1175.2L977.0,1175.2L978.0,1175.5L979.0,1175.7L980.0,1175.8L981.0,1176.4L982.0,1176.9L983.0,1176.9L984.0,1177.0L985.0,1176.6L986.0,1176.3L987.0,1176.7L988.0,1176.9L989.0,1177.0L990.0,1177.2L991.0,1177.6L992.0,1177.4L993.0,1177.1L994.0,1177.5L995.0,1177.6L996.0,1177.3L997.0,1177.2L998.0,1177.3L999.0,1177.6L1000.0,1178.3L1001.0,1179.1L1002.0,1179.6L1003.0,1179.6L1004.0,1179.6L1005.0,1179.7L1006.0,1179.5L1007.0,1179.2L1008.0,1179.3L1009.0,1179.3L1010.0,1179.1L1011.0,1179.0L1012.0,1179.0L1013.0,1179.1L1014.0,1179.2L1015.0,1179.8L1016.0,1180.1L1017.0,1180.3L1018.0,1180.6L1019.0,1180.6L1020.0,1180.3L1021.0,1180.0L1022.0,1179.4L1023.0,1179.1L1024.0,1179.9L1025.0,1180.9L1026.0,1180.9L1027.0,1181.6L1028.0,1182.2L1029.0,1182.3L1030.0,1182.9L1031.0,1183.4L1032.0,1183.5L1033.0,1183.6L1034.0,1183.0L1035.0,1182.4L1036.0,1182.4L1037.0,1182.2L1038.0,1181.9L1039.0,1182.5L1040.0,1183.5L1041.0,1183.3L1042.0,1183.0L1043.0,1183.0L1044.0,1183.3L1045.0,1183.3L1046.0,1183.1L1047.0,1182.7L1048.0,1182.7L1049.0,1183.4L1050.0,1184.4L1051.0,1185.4L1052.0,1185.6L1053.0,1185.5L1054.0,1185.0L1055.0,1184.3L1056.0,1183.9L1057.0,1183.8L1058.0,1183.7L1059.0,1184.5L1060.0,1185.5L1061.0,1185.7L1062.0,1185.5L1063.0,1184.9L1064.0,1184.4L1065.0,1184.7L1066.0,1185.4L1067.0,1186.3L1068.0,1186.4L1069.0,1185.7L1070.0,1185.3L1071.0,1185.4L1072.0,1185.3L1073.0,1185.3L1074.0,1185.8L1075.0,1186.2L1076.0,1186.1L1077.0,1185.6L1078.0,1185.5L1079.0,1185.6L1080.0,1186.1L1081.0,1186.1L1082.0,1186.1L1083.0,1186.1L1084.0,1186.0L1085.0,1185.7L1086.0,1186.1L1087.0,1187.2L1088.0,1187.5L1089.0,1187.7L1090.0,1188.0L1091.0,1187.7L1092.0,1187.5L1093.0,1187.6L1094.0,1187.9L1095.0,1187.9L1096.0,1187.6L1097.0,1187.5L1098.0,1187.8L1099.0,1187.6L1100.0,1187.0L1101.0,1187.1L1102.0,1187.3L1103.0,1187.1L1104.0,1187.1L1105.0,1187.6L1106.0,1187.6L1107.0,1187.6L1108.0,1187.4L1109.0,1187.1L1110.0,1187.1L1111.0,1187.1L1112.0,1187.4L1113.0,1188.0L1114.0,1188.3L1115.0,1188.6L1116.0,1189.0L1117.0,1189.6L1118.0,1189.1L1119.0,1188.2L1120.0,1188.1L1121.0,1188.3L1122.0,1188.5L1123.0,1188.5L1124.0,1188.9L1125.0,1189.5L1126.0,1189.4L1127.0,1189.0L1128.0,1189.0L1129.0,1189.4L1130.0,1190.0L1131.0,1190.0L1132.0,1189.3L1133.0,1188.5L1134.0,1189.3L1135.0,1190.4L1136.0,1190.6L1137.0,1189.8L1138.0,1189.1L1139.0,1189.3L1140.0,1189.1L1141.0,1188.8L1142.0,1189.4L1143.0,1190.4L1144.0,1190.8L1145.0,1190.4L1146.0,1190.2L1147.0,1190.6L1148.0,1190.0L1149.0,1189.5L1150.0,1189.7L1151.0,1190.4L1152.0,1190.7L1153.0,1190.7L1154.0,1190.4L1155.0,1190.1L1156.0,1189.8L1157.0,1189.7L1158.0,1190.4L1159.0,1190.7L1160.0,1190.3L1161.0,1190.3L1162.0,1190.8L1163.0,1191.2L1164.0,1190.9L1165.0,1190.4L1166.0,1189.8L1167.0,1189.5L1168.0,1189.8L1169.0,1190.2L1170.0,1190.4L1171.0,1190.6L1172.0,1190.9L1173.0,1191.0L1174.0,1190.9L1175.0,1190.9L1176.0,1190.8L1177.0,1190.7L1178.0,1190.4L1179.0,1190.2L1180.0,1190.5L1181.0,1190.5L1182.0,1190.8L1183.0,1191.1L1184.0,1191.1L1185.0,1190.8L1186.0,1190.6L1187.0,1191.0L1188.0,1191.0L1189.0,1190.9L1190.0,1191.0L1191.0,1191.4L1192.0,1191.3L1193.0,1190.7L1194.0,1190.1L1195.0,1190.3L1196.0,1191.1L1197.0,1191.6L1198.0,1191.4L1199.0,1191.1L1200.0,1191.2L1201.0,1191.0L1202.0,1190.7L1203.0,1190.5L1204.0,1190.3L1205.0,1190.9L1206.0,1190.9L1207.0,1190.4L1208.0,1190.2L1209.0,1190.7L1210.0,1191.0L1211.0,1190.4L1212.0,1190.0L1213.0,1189.9L1214.0,1189.2L1215.0,1188.9L1216.0,1189.4L1217.0,1189.7L1218.0,1189.8L1219.0,1189.9L1220.0,1190.1L1221.0,1189.9L1222.0,1189.7L1223.0,1189.8L1224.0,1190.3L1225.0,1190.7L1226.0,1190.5L1227.0,1189.5L1228.0,1188.2L1229.0,1188.4L1230.0,1189.1L1231.0,1189.2L1232.0,1189.2L1233.0,1189.8L1234.0,1189.7L1235.0,1189.2L1236.0,1189.1L1237.0,1189.0L1238.0,1188.9L1239.0,1189.0L1240.0,1188.7L1241.0,1188.2L1242.0,1188.4L1243.0,1188.6L1244.0,1188.7L1245.0,1189.1L1246.0,1189.2L1247.0,1189.6L1248.0,1189.4L1249.0,1188.8L1250.0,1189.0L1251.0,1189.3L1252.0,1188.8L1253.0,1188.4L1254.0,1189.0L1255.0,1189.3L1256.0,1188.7L1257.0,1188.7L1258.0,1188.8L1259.0,1188.6L1260.0,1188.5L1261.0,1188.8L1262.0,1189.2L1263.0,1189.0L1264.0,1188.8L1265.0,1188.9L1266.0,1188.6L1267.0,1188.8L1268.0,1189.2L1269.0,1189.4L1270.0,1189.4L1271.0,1189.3L1272.0,1189.2L1273.0,1189.3L1274.0,1189.5L1275.0,1189.6L1276.0,1189.1L1277.0,1189.2L1278.0,1189.1L1279.0,1188.7L1280.0,1188.5L1281.0,1188.3L1282.0,1187.7L1283.0,1187.8L1284.0,1188.2L1285.0,1188.3L1286.0,1188.8L1287.0,1188.8L1288.0,1188.7L1289.0,1188.7L1290.0,1188.6L1291.0,1188.4L1292.0,1188.3L1293.0,1188.6L1294.0,1189.2L1295.0,1189.5L1296.0,1189.4L1297.0,1188.8L1298.0,1188.1L1299.0,1187.8L1300.0,1188.4L1301.0,1188.7L1302.0,1188.6L1303.0,1188.9L1304.0,1189.1L1305.0,1188.9L1306.0,1188.8L1307.0,1188.2L1308.0,1187.5L1309.0,1187.5L1310.0,1187.9L1311.0,1188.1L1312.0,1187.7L1313.0,1187.5L1314.0,1187.5L1315.0,1187.9L1316.0,1188.3L1317.0,1188.6L1318.0,1188.6L1319.0,1188.3L1320.0,1188.1L1321.0,1188.1L1322.0,1188.2L1323.0,1188.0L1324.0,1187.1L1325.0,1187.3L1326.0,1188.0L1327.0,1188.0L1328.0,1187.6L1329.0,1187.7L1330.0,1187.8L1331.0,1187.1L1332.0,1186.5L1333.0,1186.6L1334.0,1186.9L1335.0,1187.2L1336.0,1187.5L1337.0,1187.9L1338.0,1187.5L1339.0,1186.8L1340.0,1186.5L1341.0,1186.6L1342.0,1187.2L1343.0,1187.6L1344.0,1187.3L1345.0,1187.0L1346.0,1186.7L1347.0,1187.1L1348.0,1187.4L1349.0,1186.8L1350.0,1187.0L1351.0,1186.6L1352.0,1185.4L1353.0,1185.0L1354.0,1185.4L1355.0,1186.0L1356.0,1185.8L1357.0,1185.7L1358.0,1185.8L1359.0,1185.5L1360.0,1185.2L1361.0,1185.1L1362.0,1185.0L1363.0,1184.8L1364.0,1184.8L1365.0,1184.2L1366.0,1183.7L1367.0,1183.8L1368.0,1183.3L1369.0,1182.5L1370.0,1182.3L1371.0,1182.0L1372.0,1182.0L1373.0,1182.2L1374.0,1181.9L1375.0,1181.7L1376.0,1181.9L1377.0,1182.0L1378.0,1181.1L1379.0,1180.0L1380.0,1179.5L1381.0,1179.5L1382.0,1179.7L1383.0,1179.8L1384.0,1179.6L1385.0,1179.1L1386.0,1178.4L1387.0,1177.9L1388.0,1177.2L1389.0,1176.7L1390.0,1176.2L1391.0,1175.1L1392.0,1173.2L1393.0,1171.4L1394.0,1170.1L1395.0,1168.5L1396.0,1166.1L1397.0,1164.3L1398.0,1162.1L1399.0,1158.8L1400.0,1155.5L1401.0,1152.5L1402.0,1148.1L1403.0,1142.8L1404.0,1137.6L1405.0,1131.7L1406.0,1125.5L1407.0,1119.9L1408.0,1113.7L1409.0,1108.3L1410.0,1104.7L1411.0,1102.9L1412.0,1102.8L1413.0,1105.1L1414.0,1108.9L1415.0,1113.4L1416.0,1118.7L1417.0,1124.6L1418.0,1130.1L1419.0,1135.8L1420.0,1141.1L1421.0,1146.0L1422.0,1150.5L1423.0,1154.5L1424.0,1157.9L1425.0,1160.7L1426.0,1163.6L1427.0,1166.3L1428.0,1168.1L1429.0,1169.4L1430.0,1170.9L1431.0,1172.4L1432.0,1173.9L1433.0,1175.0L1434.0,1175.7L1435.0,1176.2L1436.0,1176.6L1437.0,1176.4L1438.0,1176.6L1439.0,1177.5L1440.0,1177.9L1441.0,1178.3L1442.0,1179.0L1443.0,1179.7L1444.0,1179.9L1445.0,1180.2L1446.0,1180.2L1447.0,1179.9L1448.0,1180.3L1449.0,1181.2L1450.0,1181.9L1451.0,1182.5L1452.0,1182.8L1453.0,1182.5L1454.0,1182.3L1455.0,1182.2L1456.0,1182.2L1457.0,1182.1L1458.0,1182.4L1459.0,1182.8L1460.0,1182.3L1461.0,1182.6L1462.0,1183.0L1463.0,1182.8L1464.0,1182.5L1465.0,1182.6L1466.0,1182.6L1467.0,1182.6L1468.0,1182.9L1469.0,1183.1L1470.0,1183.3L1471.0,1183.5L1472.0,1183.4L1473.0,1183.6L1474.0,1183.8L1475.0,1184.1L1476.0,1184.2L1477.0,1184.1L1478.0,1183.7L1479.0,1183.6L1480.0,1184.0L1481.0,1184.6L1482.0,1185.3L1483.0,1185.3L1484.0,1184.9L1485.0,1184.5L1486.0,1183.9L1487.0,1183.6L1488.0,1184.1L1489.0,1184.4L1490.0,1184.3L1491.0,1184.6L1492.0,1185.2L1493.0,1185.2L1494.0,1185.6L1495.0,1186.6L1496.0,1186.6L1497.0,1186.3L1498.0,1186.4L1499.0,1186.5L1500.0,1186.6L1501.0,1185.9L1502.0,1185.7L1503.0,1186.2L1504.0,1186.7L1505.0,1187.0L1506.0,1186.5L1507.0,1186.6L1508.0,1187.3L1509.0,1187.9L1510.0,1188.3L1511.0,1188.5L1512.0,1188.7L1513.0,1188.3L1514.0,1188.2L1515.0,1188.4L1516.0,1188.2L1517.0,1188.1L1518.0,1188.0L1519.0,1188.0L1520.0,1187.9L1521.0,1188.0L1522.0,1188.2L1523.0,1188.6L1524.0,1189.2L1525.0,1190.4L1526.0,1190.9L1527.0,1190.5L1528.0,1189.9L1529.0,1189.9L1530.0,1190.4L1531.0,1190.5L1532.0,1190.4L1533.0,1190.3L1534.0,1190.5L1535.0,1190.3L1536.0,1190.1L1537.0,1189.8L1538.0,1190.2L1539.0,1190.7L1540.0,1190.7L1541.0,1190.9L1542.0,1191.3L1543.0,1191.5L1544.0,1191.2L1545.0,1190.6L1546.0,1191.0L1547.0,1191.1L1548.0,1190.5L1549.0,1190.6L1550.0,1191.1L1551.0,1190.9L1552.0,1191.0L1553.0,1191.4L1554.0,1191.4L1555.0,1191.4L1556.0,1191.2L1557.0,1191.6L1558.0,1191.9L1559.0,1191.3L1560.0,1190.7L1561.0,1191.2L1562.0,1191.4L1563.0,1191.4L1564.0,1191.5L1565.0,1191.4L1566.0,1191.8L1567.0,1191.9L1568.0,1192.0L1569.0,1191.5L1570.0,1191.0L1571.0,1191.3L1572.0,1191.8L1573.0,1192.0L1574.0,1191.9L1575.0,1191.5L1576.0,1191.7L1577.0,1191.8L1578.0,1191.3L1579.0,1190.8L1580.0,1191.0L1581.0,1191.7L1582.0,1191.7L1583.0,1191.1L1584.0,1191.0L1585.0,1191.3L1586.0,1191.0L1587.0,1191.0L1588.0,1190.7L1589.0,1190.5L1590.0,1191.1L1591.0,1191.7L1592.0,1192.5L1593.0,1192.7L1594.0,1192.2L1595.0,1192.1L1596.0,1191.9L1597.0,1191.3L1598.0,1191.3L1599.0,1191.7L1600.0,1191.5L1601.0,1191.2L1602.0,1191.1L1603.0,1191.1L1604.0,1191.2L1605.0,1191.7L1606.0,1191.8L1607.0,1191.0L1608.0,1190.5L1609.0,1190.4L1610.0,1190.3L1611.0,1190.8L1612.0,1191.9L1613.0,1192.2L1614.0,1191.4L1615.0,1190.6L1616.0,1190.3L1617.0,1189.8L1618.0,1190.2L1619.0,1191.1L1620.0,1190.8L1621.0,1189.7L1622.0,1189.6L1623.0,1190.2L1624.0,1190.3L1625.0,1190.0L1626.0,1190.0L1627.0,1189.5L1628.0,1189.2L1629.0,1189.6L1630.0,1189.4L1631.0,1188.9L1632.0,1188.9L1633.0,1189.2L1634.0,1189.4L1635.0,1189.6L1636.0,1189.6L1637.0,1189.6L1638.0,1189.1L1639.0,1188.3L1640.0,1187.9L1641.0,1188.3L1642.0,1189.6L1643.0,1190.0L1644.0,1188.8L1645.0,1188.2L1646.0,1188.6L1647.0,1188.7L1648.0,1188.3L1649.0,1187.9L1650.0,1187.6L1651.0,1188.0L1652.0,1188.8L1653.0,1189.0L1654.0,1188.4L1655.0,1188.0L1656.0,1188.3L1657.0,1188.5L1658.0,1188.1L1659.0,1187.6L1660.0,1187.8L1661.0,1187.8L1662.0,1187.1L1663.0,1186.8L1664.0,1187.2L1665.0,1187.6L1666.0,1187.5L1667.0,1187.0L1668.0,1186.4L1669.0,1186.0L1670.0,1185.6L1671.0,1185.4L1672.0,1185.4L1673.0,1185.6L1674.0,1185.6L1675.0,1184.9L1676.0,1184.6L1677.0,1184.7L1678.0,1184.8L1679.0,1184.3L1680.0,1183.6L1681.0,1183.2L1682.0,1182.6L1683.0,1182.1L1684.0,1182.1L1685.0,1181.7L1686.0,1181.2L1687.0,1180.2L1688.0,1178.8L1689.0,1177.3L1690.0,1175.9L1691.0,1175.0L1692.0,1173.9L1693.0,1172.4L1694.0,1170.4L1695.0,1168.1L1696.0,1166.2L1697.0,1164.6L1698.0,1162.3L1699.0,1159.1L1700.0,1155.9L1701.0,1152.1L1702.0,1147.3L1703.0,1142.2L1704.0,1137.2L1705.0,1132.0L1706.0,1125.5L1707.0,1118.1L1708.0,1110.7L1709.0,1104.1L1710.0,1097.8L1711.0,1091.6L1712.0,1086.8L1713.0,1083.9L1714.0,1082.9L1715.0,1084.7L1716.0,1088.7L1717.0,1093.8L1718.0,1100.5L1719.0,1108.2L1720.0,1115.7L1721.0,1123.0L1722.0,1129.9L1723.0,1136.0L1724.0,1141.3L1725.0,1146.5L1726.0,1151.7L1727.0,1156.2L1728.0,1159.5L1729.0,1162.2L1730.0,1165.1L1731.0,1167.6L1732.0,1169.5L1733.0,1171.6L1734.0,1173.6L1735.0,1175.1L1736.0,1175.8L1737.0,1176.9L1738.0,1178.0L1739.0,1179.2L1740.0,1180.4L1741.0,1181.0L1742.0,1181.1L1743.0,1181.7L1744.0,1182.4L1745.0,1182.9L1746.0,1183.8L1747.0,1184.4L1748.0,1184.9L1749.0,1185.7L1750.0,1186.3L1751.0,1186.2L1752.0,1186.4L1753.0,1186.9L1754.0,1186.6L1755.0,1186.2L1756.0,1186.5L1757.0,1187.3L1758.0,1187.6L1759.0,1187.6L1760.0,1187.5L1761.0,1187.2L1762.0,1186.9L1763.0,1187.1L1764.0,1187.6L1765.0,1188.0L1766.0,1188.1L1767.0,1187.4L1768.0,1187.0L1769.0,1187.2L1770.0,1187.6" fill="none" stroke="#000000" stroke-width="8.4" stroke-linejoin="round" stroke-linecap="round"/>
<path transform="translate(0,0.75)" d="M145.0,1178.8L146.0,1179.1L147.0,1179.4L148.0,1178.1L149.0,1176.0L150.0,1176.2L151.0,1177.2L152.0,1178.1L153.0,1179.0L154.0,1179.7L155.0,1179.5L156.0,1179.0L157.0,1179.4L158.0,1179.9L159.0,1179.3L160.0,1179.6L161.0,1180.2L162.0,1179.0L163.0,1177.7L164.0,1178.2L165.0,1178.7L166.0,1179.2L167.0,1180.0L168.0,1179.8L169.0,1179.6L170.0,1179.9L171.0,1179.9L172.0,1179.7L173.0,1179.6L174.0,1179.4L175.0,1179.0L176.0,1178.8L177.0,1178.7L178.0,1178.2L179.0,1178.6L180.0,1179.9L181.0,1179.8L182.0,1179.6L183.0,1179.6L184.0,1179.7L185.0,1179.8L186.0,1179.7L187.0,1179.7L188.0,1180.2L189.0,1180.2L190.0,1179.8L191.0,1178.7L192.0,1179.1L193.0,1180.4L194.0,1180.4L195.0,1180.0L196.0,1180.1L197.0,1179.8L198.0,1179.3L199.0,1178.7L200.0,1179.2L201.0,1180.2L202.0,1181.3L203.0,1181.5L204.0,1181.3L205.0,1181.5L206.0,1180.1L207.0,1178.3L208.0,1178.8L209.0,1181.0L210.0,1181.1L211.0,1180.2L212.0,1179.7L213.0,1180.3L214.0,1181.5L215.0,1182.0L216.0,1182.0L217.0,1180.3L218.0,1179.1L219.0,1180.0L220.0,1180.3L221.0,1180.7L222.0,1181.2L223.0,1181.0L224.0,1180.8L225.0,1180.0L226.0,1179.3L227.0,1179.4L228.0,1179.6L229.0,1180.3L230.0,1180.3L231.0,1179.7L232.0,1179.5L233.0,1179.2L234.0,1178.8L235.0,1178.8L236.0,1178.4L237.0,1177.9L238.0,1177.3L239.0,1177.4L240.0,1177.3L241.0,1176.6L242.0,1176.3L243.0,1176.6L244.0,1176.9L245.0,1176.7L246.0,1177.3L247.0,1177.9L248.0,1176.6L249.0,1175.3L250.0,1176.0L251.0,1176.7L252.0,1176.6L253.0,1176.9L254.0,1176.8L255.0,1176.1L256.0,1175.2L257.0,1174.7L258.0,1174.8L259.0,1175.2L260.0,1175.5L261.0,1175.3L262.0,1174.7L263.0,1174.6L264.0,1174.0L265.0,1172.9L266.0,1172.6L267.0,1172.9L268.0,1173.3L269.0,1173.3L270.0,1173.1L271.0,1173.1L272.0,1173.6L273.0,1173.1L274.0,1172.0L275.0,1172.0L276.0,1172.6L277.0,1173.4L278.0,1172.8L279.0,1172.1L280.0,1172.1L281.0,1172.1L282.0,1172.6L283.0,1173.2L284.0,1172.9L285.0,1172.8L286.0,1172.3L287.0,1171.6L288.0,1172.3L289.0,1172.3L290.0,1171.4L291.0,1170.5L292.0,1170.6L293.0,1170.4L294.0,1170.5L295.0,1171.3L296.0,1170.5L297.0,1169.4L298.0,1169.4L299.0,1169.9L300.0,1170.0L301.0,1169.8L302.0,1169.8L303.0,1168.9L304.0,1166.9L305.0,1166.0L306.0,1166.1L307.0,1167.1L308.0,1167.9L309.0,1167.1L310.0,1165.7L311.0,1165.7L312.0,1166.1L313.0,1165.5L314.0,1165.1L315.0,1164.6L316.0,1164.0L317.0,1164.8L318.0,1165.2L319.0,1164.5L320.0,1163.3L321.0,1162.7L322.0,1163.0L323.0,1163.5L324.0,1163.7L325.0,1164.2L326.0,1165.0L327.0,1164.3L328.0,1162.6L329.0,1162.5L330.0,1163.3L331.0,1163.2L332.0,1163.6L333.0,1163.3L334.0,1161.8L335.0,1161.0L336.0,1160.6L337.0,1159.8L338.0,1159.5L339.0,1160.1L340.0,1160.6L341.0,1160.0L342.0,1159.4L343.0,1158.8L344.0,1158.7L345.0,1158.8L346.0,1157.5L347.0,1157.6L348.0,1158.1L349.0,1157.9L350.0,1158.6L351.0,1158.8L352.0,1157.6L353.0,1156.9L354.0,1156.6L355.0,1157.0L356.0,1157.1L357.0,1157.3L358.0,1157.7L359.0,1157.5L360.0,1157.2L361.0,1156.0L362.0,1154.7L363.0,1154.7L364.0,1154.4L365.0,1153.9L366.0,1154.5L367.0,1154.3L368.0,1153.4L369.0,1152.6L370.0,1152.6L371.0,1152.6L372.0,1152.0L373.0,1151.1L374.0,1150.5L375.0,1150.9L376.0,1149.6L377.0,1148.2L378.0,1148.4L379.0,1149.2L380.0,1149.6L381.0,1149.2L382.0,1149.0L383.0,1149.4L384.0,1150.6L385.0,1150.6L386.0,1149.8L387.0,1148.3L388.0,1147.6L389.0,1147.2L390.0,1147.4L391.0,1146.8L392.0,1145.0L393.0,1144.1L394.0,1143.7L395.0,1143.5L396.0,1143.5L397.0,1143.2L398.0,1143.2L399.0,1143.9L400.0,1143.9L401.0,1142.8L402.0,1142.5L403.0,1142.7L404.0,1142.5L405.0,1142.4L406.0,1143.1L407.0,1143.3L408.0,1142.8L409.0,1142.7L410.0,1143.5L411.0,1143.1L412.0,1141.4L413.0,1140.8L414.0,1140.8L415.0,1140.1L416.0,1139.9L417.0,1139.5L418.0,1138.7L419.0,1138.0L420.0,1137.3L421.0,1137.0L422.0,1137.8L423.0,1140.1L424.0,1140.8L425.0,1140.0L426.0,1139.2L427.0,1139.2L428.0,1139.4L429.0,1139.0L430.0,1138.0L431.0,1136.8L432.0,1136.5L433.0,1135.9L434.0,1135.1L435.0,1135.4L436.0,1136.7L437.0,1137.1L438.0,1136.9L439.0,1138.1L440.0,1138.3L441.0,1136.9L442.0,1136.3L443.0,1136.8L444.0,1137.2L445.0,1136.5L446.0,1135.9L447.0,1135.8L448.0,1135.5L449.0,1136.8L450.0,1138.1L451.0,1138.2L452.0,1138.3L453.0,1138.3L454.0,1138.2L455.0,1137.5L456.0,1136.8L457.0,1137.1L458.0,1138.0L459.0,1139.4L460.0,1139.8L461.0,1138.7L462.0,1137.6L463.0,1137.6L464.0,1138.8L465.0,1140.1L466.0,1140.0L467.0,1139.5L468.0,1139.6L469.0,1140.6L470.0,1141.0L471.0,1141.0L472.0,1141.8L473.0,1142.7L474.0,1143.0L475.0,1143.7L476.0,1143.8L477.0,1143.3L478.0,1143.1L479.0,1142.4L480.0,1141.9L481.0,1141.9L482.0,1142.3L483.0,1143.2L484.0,1143.8L485.0,1144.1L486.0,1143.2L487.0,1141.7L488.0,1142.1L489.0,1142.5L490.0,1143.2L491.0,1143.7L492.0,1144.6L493.0,1144.9L494.0,1144.0L495.0,1144.1L496.0,1144.0L497.0,1143.8L498.0,1144.8L499.0,1145.2L500.0,1144.9L501.0,1146.0L502.0,1147.5L503.0,1145.9L504.0,1144.0L505.0,1144.2L506.0,1145.0L507.0,1145.5L508.0,1145.6L509.0,1145.7L510.0,1146.1L511.0,1145.7L512.0,1145.1L513.0,1145.4L514.0,1146.5L515.0,1147.7L516.0,1147.7L517.0,1147.2L518.0,1147.5L519.0,1148.4L520.0,1149.0L521.0,1148.3L522.0,1148.2L523.0,1148.2L524.0,1147.6L525.0,1147.9L526.0,1148.1L527.0,1148.3L528.0,1149.1L529.0,1150.0L530.0,1149.9L531.0,1149.3L532.0,1149.8L533.0,1150.3L534.0,1149.2L535.0,1149.3L536.0,1150.0L537.0,1150.0L538.0,1150.1L539.0,1150.3L540.0,1150.8L541.0,1150.9L542.0,1150.2L543.0,1149.9L544.0,1149.8L545.0,1149.6L546.0,1149.5L547.0,1149.7L548.0,1151.3L549.0,1152.8L550.0,1153.1L551.0,1152.1L552.0,1151.2L553.0,1151.4L554.0,1151.0L555.0,1151.5L556.0,1152.1L557.0,1151.5L558.0,1151.7L559.0,1151.8L560.0,1151.2L561.0,1151.0L562.0,1151.5L563.0,1152.0L564.0,1152.9L565.0,1152.7L566.0,1151.3L567.0,1151.0L568.0,1151.1L569.0,1150.7L570.0,1151.0L571.0,1151.8L572.0,1151.7L573.0,1151.1L574.0,1151.8L575.0,1152.4L576.0,1151.9L577.0,1152.6L578.0,1154.4L579.0,1154.2L580.0,1152.2L581.0,1151.9L582.0,1152.7L583.0,1152.7L584.0,1153.0L585.0,1153.5L586.0,1153.1L587.0,1151.4L588.0,1151.0L589.0,1152.8L590.0,1154.5L591.0,1154.2L592.0,1153.7L593.0,1154.9L594.0,1155.6L595.0,1155.2L596.0,1155.3L597.0,1156.2L598.0,1156.9L599.0,1156.7L600.0,1156.4L601.0,1156.0L602.0,1155.6L603.0,1155.6L604.0,1156.2L605.0,1156.4L606.0,1157.0L607.0,1157.9L608.0,1158.2L609.0,1157.6L610.0,1156.8L611.0,1157.1L612.0,1157.0L613.0,1156.8L614.0,1157.6L615.0,1159.1L616.0,1159.1L617.0,1157.9L618.0,1157.5L619.0,1158.3L620.0,1159.2L621.0,1159.6L622.0,1158.1L623.0,1157.4L624.0,1158.6L625.0,1159.7L626.0,1160.5L627.0,1161.6L628.0,1162.0L629.0,1160.7L630.0,1159.4L631.0,1159.2L632.0,1160.6L633.0,1161.6L634.0,1161.8L635.0,1162.3L636.0,1162.6L637.0,1162.9L638.0,1162.1L639.0,1160.9L640.0,1160.3L641.0,1159.9L642.0,1160.4L643.0,1162.3L644.0,1164.1L645.0,1164.7L646.0,1163.6L647.0,1162.6L648.0,1162.7L649.0,1163.8L650.0,1164.0L651.0,1163.8L652.0,1164.3L653.0,1163.9L654.0,1163.3L655.0,1164.1L656.0,1164.5L657.0,1164.3L658.0,1165.1L659.0,1166.9L660.0,1167.7L661.0,1166.9L662.0,1165.2L663.0,1165.0L664.0,1165.5L665.0,1164.9L666.0,1164.4L667.0,1165.3L668.0,1167.6L669.0,1168.4L670.0,1167.8L671.0,1167.3L672.0,1166.9L673.0,1167.1L674.0,1167.7L675.0,1168.0L676.0,1168.4L677.0,1168.0L678.0,1168.1L679.0,1169.2L680.0,1169.4L681.0,1169.1L682.0,1168.1L683.0,1167.6L684.0,1168.5L685.0,1169.1L686.0,1169.5L687.0,1168.5L688.0,1168.4L689.0,1170.0L690.0,1170.9L691.0,1170.6L692.0,1170.3L693.0,1170.6L694.0,1170.1L695.0,1170.1L696.0,1170.5L697.0,1171.3L698.0,1172.0L699.0,1172.0L700.0,1172.4L701.0,1172.1L702.0,1170.7L703.0,1170.5L704.0,1171.3L705.0,1171.9L706.0,1171.9L707.0,1171.7L708.0,1173.0L709.0,1173.6L710.0,1172.8L711.0,1172.1L712.0,1172.5L713.0,1173.1L714.0,1173.7L715.0,1173.9L716.0,1174.1L717.0,1174.1L718.0,1173.7L719.0,1172.2L720.0,1172.2L721.0,1173.0L722.0,1173.0L723.0,1173.3L724.0,1173.1L725.0,1173.0L726.0,1172.8L727.0,1173.1L728.0,1173.5L729.0,1173.5L730.0,1174.1L731.0,1174.8L732.0,1173.9L733.0,1173.1L734.0,1173.9L735.0,1174.6L736.0,1174.9L737.0,1174.4L738.0,1173.3L739.0,1173.6L740.0,1173.7L741.0,1172.7L742.0,1171.2L743.0,1169.7L744.0,1170.8L745.0,1171.8L746.0,1170.6L747.0,1170.4L748.0,1171.3L749.0,1171.8L750.0,1171.3L751.0,1169.8L752.0,1169.7L753.0,1169.8L754.0,1168.9L755.0,1169.4L756.0,1170.6L757.0,1170.1L758.0,1168.0L759.0,1165.9L760.0,1166.1L761.0,1166.5L762.0,1166.1L763.0,1166.4L764.0,1166.8L765.0,1164.7L766.0,1162.8L767.0,1162.1L768.0,1161.2L769.0,1160.1L770.0,1159.4L771.0,1158.5L772.0,1156.6L773.0,1154.2L774.0,1152.7L775.0,1151.1L776.0,1148.9L777.0,1146.7L778.0,1143.1L779.0,1138.7L780.0,1135.1L781.0,1131.3L782.0,1125.1L783.0,1117.3L784.0,1108.7L785.0,1098.5L786.0,1087.8L787.0,1076.9L788.0,1064.3L789.0,1049.9L790.0,1034.1L791.0,1017.6L792.0,1000.9L793.0,985.5L794.0,971.6L795.0,960.3L796.0,952.9L797.0,950.2L798.0,954.2L799.0,963.7L800.0,975.6L801.0,988.5L802.0,1002.7L803.0,1018.2L804.0,1034.4L805.0,1049.4L806.0,1062.8L807.0,1076.1L808.0,1088.0L809.0,1097.9L810.0,1106.4L811.0,1114.5L812.0,1121.6L813.0,1128.5L814.0,1133.6L815.0,1137.9L816.0,1142.8L817.0,1146.5L818.0,1149.2L819.0,1152.0L820.0,1153.6L821.0,1155.7L822.0,1157.3L823.0,1158.1L824.0,1160.1L825.0,1161.6L826.0,1162.3L827.0,1163.0L828.0,1164.0L829.0,1164.4L830.0,1165.0L831.0,1165.9L832.0,1167.0L833.0,1168.1L834.0,1167.9L835.0,1168.0L836.0,1168.8L837.0,1169.8L838.0,1170.7L839.0,1170.8L840.0,1170.4L841.0,1170.3L842.0,1171.0L843.0,1171.6L844.0,1171.5L845.0,1170.6L846.0,1170.7L847.0,1172.5L848.0,1173.0L849.0,1172.5L850.0,1172.1L851.0,1171.6L852.0,1171.5L853.0,1171.8L854.0,1172.1L855.0,1171.9L856.0,1171.8L857.0,1172.6L858.0,1173.2L859.0,1173.1L860.0,1172.6L861.0,1172.2L862.0,1172.8L863.0,1173.0L864.0,1172.5L865.0,1172.6L866.0,1173.4L867.0,1173.8L868.0,1174.1L869.0,1174.3L870.0,1174.4L871.0,1173.9L872.0,1173.4L873.0,1173.9L874.0,1174.4L875.0,1174.7L876.0,1174.5L877.0,1174.7L878.0,1175.5L879.0,1176.1L880.0,1176.1L881.0,1176.0L882.0,1175.9L883.0,1175.9L884.0,1175.9L885.0,1175.6L886.0,1175.4L887.0,1175.9L888.0,1176.5L889.0,1175.7L890.0,1174.9L891.0,1174.6L892.0,1174.6L893.0,1174.1L894.0,1172.9L895.0,1172.2L896.0,1172.2L897.0,1171.9L898.0,1172.0L899.0,1172.2L900.0,1172.4L901.0,1172.1L902.0,1170.8L903.0,1169.4L904.0,1168.6L905.0,1168.5L906.0,1168.3L907.0,1167.9L908.0,1168.2L909.0,1168.6L910.0,1168.4L911.0,1167.9L912.0,1167.2L913.0,1166.4L914.0,1165.5L915.0,1164.9L916.0,1165.2L917.0,1165.3L918.0,1164.1L919.0,1162.5L920.0,1161.1L921.0,1160.1L922.0,1158.3L923.0,1156.5L924.0,1154.2L925.0,1151.7L926.0,1149.5L927.0,1146.7L928.0,1143.5L929.0,1140.1L930.0,1136.3L931.0,1132.3L932.0,1128.5L933.0,1124.4L934.0,1120.2L935.0,1115.9L936.0,1112.1L937.0,1109.3L938.0,1107.3L939.0,1106.3L940.0,1105.6L941.0,1105.2L942.0,1106.2L943.0,1108.1L944.0,1111.4L945.0,1115.2L946.0,1118.9L947.0,1123.6L948.0,1129.0L949.0,1133.8L950.0,1137.9L951.0,1142.1L952.0,1146.4L953.0,1149.3L954.0,1152.2L955.0,1155.6L956.0,1158.1L957.0,1160.0L958.0,1162.1L959.0,1163.8L960.0,1165.1L961.0,1166.1L962.0,1167.0L963.0,1168.3L964.0,1168.9L965.0,1169.1L966.0,1169.9L967.0,1171.0L968.0,1171.4L969.0,1172.0L970.0,1172.5L971.0,1172.5L972.0,1172.5L973.0,1173.4L974.0,1174.4L975.0,1174.9L976.0,1175.2L977.0,1175.2L978.0,1175.5L979.0,1175.7L980.0,1175.8L981.0,1176.4L982.0,1176.9L983.0,1176.9L984.0,1177.0L985.0,1176.6L986.0,1176.3L987.0,1176.7L988.0,1176.9L989.0,1177.0L990.0,1177.2L991.0,1177.6L992.0,1177.4L993.0,1177.1L994.0,1177.5L995.0,1177.6L996.0,1177.3L997.0,1177.2L998.0,1177.3L999.0,1177.6L1000.0,1178.3L1001.0,1179.1L1002.0,1179.6L1003.0,1179.6L1004.0,1179.6L1005.0,1179.7L1006.0,1179.5L1007.0,1179.2L1008.0,1179.3L1009.0,1179.3L1010.0,1179.1L1011.0,1179.0L1012.0,1179.0L1013.0,1179.1L1014.0,1179.2L1015.0,1179.8L1016.0,1180.1L1017.0,1180.3L1018.0,1180.6L1019.0,1180.6L1020.0,1180.3L1021.0,1180.0L1022.0,1179.4L1023.0,1179.1L1024.0,1179.9L1025.0,1180.9L1026.0,1180.9L1027.0,1181.6L1028.0,1182.2L1029.0,1182.3L1030.0,1182.9L1031.0,1183.4L1032.0,1183.5L1033.0,1183.6L1034.0,1183.0L1035.0,1182.4L1036.0,1182.4L1037.0,1182.2L1038.0,1181.9L1039.0,1182.5L1040.0,1183.5L1041.0,1183.3L1042.0,1183.0L1043.0,1183.0L1044.0,1183.3L1045.0,1183.3L1046.0,1183.1L1047.0,1182.7L1048.0,1182.7L1049.0,1183.4L1050.0,1184.4L1051.0,1185.4L1052.0,1185.6L1053.0,1185.5L1054.0,1185.0L1055.0,1184.3L1056.0,1183.9L1057.0,1183.8L1058.0,1183.7L1059.0,1184.5L1060.0,1185.5L1061.0,1185.7L1062.0,1185.5L1063.0,1184.9L1064.0,1184.4L1065.0,1184.7L1066.0,1185.4L1067.0,1186.3L1068.0,1186.4L1069.0,1185.7L1070.0,1185.3L1071.0,1185.4L1072.0,1185.3L1073.0,1185.3L1074.0,1185.8L1075.0,1186.2L1076.0,1186.1L1077.0,1185.6L1078.0,1185.5L1079.0,1185.6L1080.0,1186.1L1081.0,1186.1L1082.0,1186.1L1083.0,1186.1L1084.0,1186.0L1085.0,1185.7L1086.0,1186.1L1087.0,1187.2L1088.0,1187.5L1089.0,1187.7L1090.0,1188.0L1091.0,1187.7L1092.0,1187.5L1093.0,1187.6L1094.0,1187.9L1095.0,1187.9L1096.0,1187.6L1097.0,1187.5L1098.0,1187.8L1099.0,1187.6L1100.0,1187.0L1101.0,1187.1L1102.0,1187.3L1103.0,1187.1L1104.0,1187.1L1105.0,1187.6L1106.0,1187.6L1107.0,1187.6L1108.0,1187.4L1109.0,1187.1L1110.0,1187.1L1111.0,1187.1L1112.0,1187.4L1113.0,1188.0L1114.0,1188.3L1115.0,1188.6L1116.0,1189.0L1117.0,1189.6L1118.0,1189.1L1119.0,1188.2L1120.0,1188.1L1121.0,1188.3L1122.0,1188.5L1123.0,1188.5L1124.0,1188.9L1125.0,1189.5L1126.0,1189.4L1127.0,1189.0L1128.0,1189.0L1129.0,1189.4L1130.0,1190.0L1131.0,1190.0L1132.0,1189.3L1133.0,1188.5L1134.0,1189.3L1135.0,1190.4L1136.0,1190.6L1137.0,1189.8L1138.0,1189.1L1139.0,1189.3L1140.0,1189.1L1141.0,1188.8L1142.0,1189.4L1143.0,1190.4L1144.0,1190.8L1145.0,1190.4L1146.0,1190.2L1147.0,1190.6L1148.0,1190.0L1149.0,1189.5L1150.0,1189.7L1151.0,1190.4L1152.0,1190.7L1153.0,1190.7L1154.0,1190.4L1155.0,1190.1L1156.0,1189.8L1157.0,1189.7L1158.0,1190.4L1159.0,1190.7L1160.0,1190.3L1161.0,1190.3L1162.0,1190.8L1163.0,1191.2L1164.0,1190.9L1165.0,1190.4L1166.0,1189.8L1167.0,1189.5L1168.0,1189.8L1169.0,1190.2L1170.0,1190.4L1171.0,1190.6L1172.0,1190.9L1173.0,1191.0L1174.0,1190.9L1175.0,1190.9L1176.0,1190.8L1177.0,1190.7L1178.0,1190.4L1179.0,1190.2L1180.0,1190.5L1181.0,1190.5L1182.0,1190.8L1183.0,1191.1L1184.0,1191.1L1185.0,1190.8L1186.0,1190.6L1187.0,1191.0L1188.0,1191.0L1189.0,1190.9L1190.0,1191.0L1191.0,1191.4L1192.0,1191.3L1193.0,1190.7L1194.0,1190.1L1195.0,1190.3L1196.0,1191.1L1197.0,1191.6L1198.0,1191.4L1199.0,1191.1L1200.0,1191.2L1201.0,1191.0L1202.0,1190.7L1203.0,1190.5L1204.0,1190.3L1205.0,1190.9L1206.0,1190.9L1207.0,1190.4L1208.0,1190.2L1209.0,1190.7L1210.0,1191.0L1211.0,1190.4L1212.0,1190.0L1213.0,1189.9L1214.0,1189.2L1215.0,1188.9L1216.0,1189.4L1217.0,1189.7L1218.0,1189.8L1219.0,1189.9L1220.0,1190.1L1221.0,1189.9L1222.0,1189.7L1223.0,1189.8L1224.0,1190.3L1225.0,1190.7L1226.0,1190.5L1227.0,1189.5L1228.0,1188.2L1229.0,1188.4L1230.0,1189.1L1231.0,1189.2L1232.0,1189.2L1233.0,1189.8L1234.0,1189.7L1235.0,1189.2L1236.0,1189.1L1237.0,1189.0L1238.0,1188.9L1239.0,1189.0L1240.0,1188.7L1241.0,1188.2L1242.0,1188.4L1243.0,1188.6L1244.0,1188.7L1245.0,1189.1L1246.0,1189.2L1247.0,1189.6L1248.0,1189.4L1249.0,1188.8L1250.0,1189.0L1251.0,1189.3L1252.0,1188.8L1253.0,1188.4L1254.0,1189.0L1255.0,1189.3L1256.0,1188.7L1257.0,1188.7L1258.0,1188.8L1259.0,1188.6L1260.0,1188.5L1261.0,1188.8L1262.0,1189.2L1263.0,1189.0L1264.0,1188.8L1265.0,1188.9L1266.0,1188.6L1267.0,1188.8L1268.0,1189.2L1269.0,1189.4L1270.0,1189.4L1271.0,1189.3L1272.0,1189.2L1273.0,1189.3L1274.0,1189.5L1275.0,1189.6L1276.0,1189.1L1277.0,1189.2L1278.0,1189.1L1279.0,1188.7L1280.0,1188.5L1281.0,1188.3L1282.0,1187.7L1283.0,1187.8L1284.0,1188.2L1285.0,1188.3L1286.0,1188.8L1287.0,1188.8L1288.0,1188.7L1289.0,1188.7L1290.0,1188.6L1291.0,1188.4L1292.0,1188.3L1293.0,1188.6L1294.0,1189.2L1295.0,1189.5L1296.0,1189.4L1297.0,1188.8L1298.0,1188.1L1299.0,1187.8L1300.0,1188.4L1301.0,1188.7L1302.0,1188.6L1303.0,1188.9L1304.0,1189.1L1305.0,1188.9L1306.0,1188.8L1307.0,1188.2L1308.0,1187.5L1309.0,1187.5L1310.0,1187.9L1311.0,1188.1L1312.0,1187.7L1313.0,1187.5L1314.0,1187.5L1315.0,1187.9L1316.0,1188.3L1317.0,1188.6L1318.0,1188.6L1319.0,1188.3L1320.0,1188.1L1321.0,1188.1L1322.0,1188.2L1323.0,1188.0L1324.0,1187.1L1325.0,1187.3L1326.0,1188.0L1327.0,1188.0L1328.0,1187.6L1329.0,1187.7L1330.0,1187.8L1331.0,1187.1L1332.0,1186.5L1333.0,1186.6L1334.0,1186.9L1335.0,1187.2L1336.0,1187.5L1337.0,1187.9L1338.0,1187.5L1339.0,1186.8L1340.0,1186.5L1341.0,1186.6L1342.0,1187.2L1343.0,1187.6L1344.0,1187.3L1345.0,1187.0L1346.0,1186.7L1347.0,1187.1L1348.0,1187.4L1349.0,1186.8L1350.0,1187.0L1351.0,1186.6L1352.0,1185.4L1353.0,1185.0L1354.0,1185.4L1355.0,1186.0L1356.0,1185.8L1357.0,1185.7L1358.0,1185.8L1359.0,1185.5L1360.0,1185.2L1361.0,1185.1L1362.0,1185.0L1363.0,1184.8L1364.0,1184.8L1365.0,1184.2L1366.0,1183.7L1367.0,1183.8L1368.0,1183.3L1369.0,1182.5L1370.0,1182.3L1371.0,1182.0L1372.0,1182.0L1373.0,1182.2L1374.0,1181.9L1375.0,1181.7L1376.0,1181.9L1377.0,1182.0L1378.0,1181.1L1379.0,1180.0L1380.0,1179.5L1381.0,1179.5L1382.0,1179.7L1383.0,1179.8L1384.0,1179.6L1385.0,1179.1L1386.0,1178.4L1387.0,1177.9L1388.0,1177.2L1389.0,1176.7L1390.0,1176.2L1391.0,1175.1L1392.0,1173.2L1393.0,1171.4L1394.0,1170.1L1395.0,1168.5L1396.0,1166.1L1397.0,1164.3L1398.0,1162.1L1399.0,1158.8L1400.0,1155.5L1401.0,1152.5L1402.0,1148.1L1403.0,1142.8L1404.0,1137.6L1405.0,1131.7L1406.0,1125.5L1407.0,1119.9L1408.0,1113.7L1409.0,1108.3L1410.0,1104.7L1411.0,1102.9L1412.0,1102.8L1413.0,1105.1L1414.0,1108.9L1415.0,1113.4L1416.0,1118.7L1417.0,1124.6L1418.0,1130.1L1419.0,1135.8L1420.0,1141.1L1421.0,1146.0L1422.0,1150.5L1423.0,1154.5L1424.0,1157.9L1425.0,1160.7L1426.0,1163.6L1427.0,1166.3L1428.0,1168.1L1429.0,1169.4L1430.0,1170.9L1431.0,1172.4L1432.0,1173.9L1433.0,1175.0L1434.0,1175.7L1435.0,1176.2L1436.0,1176.6L1437.0,1176.4L1438.0,1176.6L1439.0,1177.5L1440.0,1177.9L1441.0,1178.3L1442.0,1179.0L1443.0,1179.7L1444.0,1179.9L1445.0,1180.2L1446.0,1180.2L1447.0,1179.9L1448.0,1180.3L1449.0,1181.2L1450.0,1181.9L1451.0,1182.5L1452.0,1182.8L1453.0,1182.5L1454.0,1182.3L1455.0,1182.2L1456.0,1182.2L1457.0,1182.1L1458.0,1182.4L1459.0,1182.8L1460.0,1182.3L1461.0,1182.6L1462.0,1183.0L1463.0,1182.8L1464.0,1182.5L1465.0,1182.6L1466.0,1182.6L1467.0,1182.6L1468.0,1182.9L1469.0,1183.1L1470.0,1183.3L1471.0,1183.5L1472.0,1183.4L1473.0,1183.6L1474.0,1183.8L1475.0,1184.1L1476.0,1184.2L1477.0,1184.1L1478.0,1183.7L1479.0,1183.6L1480.0,1184.0L1481.0,1184.6L1482.0,1185.3L1483.0,1185.3L1484.0,1184.9L1485.0,1184.5L1486.0,1183.9L1487.0,1183.6L1488.0,1184.1L1489.0,1184.4L1490.0,1184.3L1491.0,1184.6L1492.0,1185.2L1493.0,1185.2L1494.0,1185.6L1495.0,1186.6L1496.0,1186.6L1497.0,1186.3L1498.0,1186.4L1499.0,1186.5L1500.0,1186.6L1501.0,1185.9L1502.0,1185.7L1503.0,1186.2L1504.0,1186.7L1505.0,1187.0L1506.0,1186.5L1507.0,1186.6L1508.0,1187.3L1509.0,1187.9L1510.0,1188.3L1511.0,1188.5L1512.0,1188.7L1513.0,1188.3L1514.0,1188.2L1515.0,1188.4L1516.0,1188.2L1517.0,1188.1L1518.0,1188.0L1519.0,1188.0L1520.0,1187.9L1521.0,1188.0L1522.0,1188.2L1523.0,1188.6L1524.0,1189.2L1525.0,1190.4L1526.0,1190.9L1527.0,1190.5L1528.0,1189.9L1529.0,1189.9L1530.0,1190.4L1531.0,1190.5L1532.0,1190.4L1533.0,1190.3L1534.0,1190.5L1535.0,1190.3L1536.0,1190.1L1537.0,1189.8L1538.0,1190.2L1539.0,1190.7L1540.0,1190.7L1541.0,1190.9L1542.0,1191.3L1543.0,1191.5L1544.0,1191.2L1545.0,1190.6L1546.0,1191.0L1547.0,1191.1L1548.0,1190.5L1549.0,1190.6L1550.0,1191.1L1551.0,1190.9L1552.0,1191.0L1553.0,1191.4L1554.0,1191.4L1555.0,1191.4L1556.0,1191.2L1557.0,1191.6L1558.0,1191.9L1559.0,1191.3L1560.0,1190.7L1561.0,1191.2L1562.0,1191.4L1563.0,1191.4L1564.0,1191.5L1565.0,1191.4L1566.0,1191.8L1567.0,1191.9L1568.0,1192.0L1569.0,1191.5L1570.0,1191.0L1571.0,1191.3L1572.0,1191.8L1573.0,1192.0L1574.0,1191.9L1575.0,1191.5L1576.0,1191.7L1577.0,1191.8L1578.0,1191.3L1579.0,1190.8L1580.0,1191.0L1581.0,1191.7L1582.0,1191.7L1583.0,1191.1L1584.0,1191.0L1585.0,1191.3L1586.0,1191.0L1587.0,1191.0L1588.0,1190.7L1589.0,1190.5L1590.0,1191.1L1591.0,1191.7L1592.0,1192.5L1593.0,1192.7L1594.0,1192.2L1595.0,1192.1L1596.0,1191.9L1597.0,1191.3L1598.0,1191.3L1599.0,1191.7L1600.0,1191.5L1601.0,1191.2L1602.0,1191.1L1603.0,1191.1L1604.0,1191.2L1605.0,1191.7L1606.0,1191.8L1607.0,1191.0L1608.0,1190.5L1609.0,1190.4L1610.0,1190.3L1611.0,1190.8L1612.0,1191.9L1613.0,1192.2L1614.0,1191.4L1615.0,1190.6L1616.0,1190.3L1617.0,1189.8L1618.0,1190.2L1619.0,1191.1L1620.0,1190.8L1621.0,1189.7L1622.0,1189.6L1623.0,1190.2L1624.0,1190.3L1625.0,1190.0L1626.0,1190.0L1627.0,1189.5L1628.0,1189.2L1629.0,1189.6L1630.0,1189.4L1631.0,1188.9L1632.0,1188.9L1633.0,1189.2L1634.0,1189.4L1635.0,1189.6L1636.0,1189.6L1637.0,1189.6L1638.0,1189.1L1639.0,1188.3L1640.0,1187.9L1641.0,1188.3L1642.0,1189.6L1643.0,1190.0L1644.0,1188.8L1645.0,1188.2L1646.0,1188.6L1647.0,1188.7L1648.0,1188.3L1649.0,1187.9L1650.0,1187.6L1651.0,1188.0L1652.0,1188.8L1653.0,1189.0L1654.0,1188.4L1655.0,1188.0L1656.0,1188.3L1657.0,1188.5L1658.0,1188.1L1659.0,1187.6L1660.0,1187.8L1661.0,1187.8L1662.0,1187.1L1663.0,1186.8L1664.0,1187.2L1665.0,1187.6L1666.0,1187.5L1667.0,1187.0L1668.0,1186.4L1669.0,1186.0L1670.0,1185.6L1671.0,1185.4L1672.0,1185.4L1673.0,1185.6L1674.0,1185.6L1675.0,1184.9L1676.0,1184.6L1677.0,1184.7L1678.0,1184.8L1679.0,1184.3L1680.0,1183.6L1681.0,1183.2L1682.0,1182.6L1683.0,1182.1L1684.0,1182.1L1685.0,1181.7L1686.0,1181.2L1687.0,1180.2L1688.0,1178.8L1689.0,1177.3L1690.0,1175.9L1691.0,1175.0L1692.0,1173.9L1693.0,1172.4L1694.0,1170.4L1695.0,1168.1L1696.0,1166.2L1697.0,1164.6L1698.0,1162.3L1699.0,1159.1L1700.0,1155.9L1701.0,1152.1L1702.0,1147.3L1703.0,1142.2L1704.0,1137.2L1705.0,1132.0L1706.0,1125.5L1707.0,1118.1L1708.0,1110.7L1709.0,1104.1L1710.0,1097.8L1711.0,1091.6L1712.0,1086.8L1713.0,1083.9L1714.0,1082.9L1715.0,1084.7L1716.0,1088.7L1717.0,1093.8L1718.0,1100.5L1719.0,1108.2L1720.0,1115.7L1721.0,1123.0L1722.0,1129.9L1723.0,1136.0L1724.0,1141.3L1725.0,1146.5L1726.0,1151.7L1727.0,1156.2L1728.0,1159.5L1729.0,1162.2L1730.0,1165.1L1731.0,1167.6L1732.0,1169.5L1733.0,1171.6L1734.0,1173.6L1735.0,1175.1L1736.0,1175.8L1737.0,1176.9L1738.0,1178.0L1739.0,1179.2L1740.0,1180.4L1741.0,1181.0L1742.0,1181.1L1743.0,1181.7L1744.0,1182.4L1745.0,1182.9L1746.0,1183.8L1747.0,1184.4L1748.0,1184.9L1749.0,1185.7L1750.0,1186.3L1751.0,1186.2L1752.0,1186.4L1753.0,1186.9L1754.0,1186.6L1755.0,1186.2L1756.0,1186.5L1757.0,1187.3L1758.0,1187.6L1759.0,1187.6L1760.0,1187.5L1761.0,1187.2L1762.0,1186.9L1763.0,1187.1L1764.0,1187.6L1765.0,1188.0L1766.0,1188.1L1767.0,1187.4L1768.0,1187.0L1769.0,1187.2L1770.0,1187.6" fill="none" stroke="#000000" stroke-width="8.4" stroke-linejoin="round" stroke-linecap="round"/>
<rect x="140.4" y="23.4" width="1630.8" height="1232.1" fill="none" stroke="#000" stroke-width="8.9" stroke-linejoin="round"/>
<line x1="140.40" y1="1255.5" x2="140.40" y2="1276.9" stroke="#000" stroke-width="9.7" stroke-linecap="round"/>
<line x1="257.61" y1="1255.5" x2="257.61" y2="1265.8" stroke="#000" stroke-width="9.7" stroke-linecap="round"/>
<line x1="374.05" y1="1255.5" x2="374.05" y2="1276.9" stroke="#000" stroke-width="9.7" stroke-linecap="round"/>
<line x1="490.50" y1="1255.5" x2="490.50" y2="1265.8" stroke="#000" stroke-width="9.7" stroke-linecap="round"/>
<line x1="606.94" y1="1255.5" x2="606.94" y2="1276.9" stroke="#000" stroke-width="9.7" stroke-linecap="round"/>
<line x1="723.38" y1="1255.5" x2="723.38" y2="1265.8" stroke="#000" stroke-width="9.7" stroke-linecap="round"/>
<line x1="839.83" y1="1255.5" x2="839.83" y2="1276.9" stroke="#000" stroke-width="9.7" stroke-linecap="round"/>
<line x1="956.27" y1="1255.5" x2="956.27" y2="1265.8" stroke="#000" stroke-width="9.7" stroke-linecap="round"/>
<line x1="1072.72" y1="1255.5" x2="1072.72" y2="1276.9" stroke="#000" stroke-width="9.7" stroke-linecap="round"/>
<line x1="1189.17" y1="1255.5" x2="1189.17" y2="1265.8" stroke="#000" stroke-width="9.7" stroke-linecap="round"/>
<line x1="1305.61" y1="1255.5" x2="1305.61" y2="1276.9" stroke="#000" stroke-width="9.7" stroke-linecap="round"/>
<line x1="1422.06" y1="1255.5" x2="1422.06" y2="1265.8" stroke="#000" stroke-width="9.7" stroke-linecap="round"/>
<line x1="1538.50" y1="1255.5" x2="1538.50" y2="1276.9" stroke="#000" stroke-width="9.7" stroke-linecap="round"/>
<line x1="1654.95" y1="1255.5" x2="1654.95" y2="1265.8" stroke="#000" stroke-width="9.7" stroke-linecap="round"/>
<line x1="1771.15" y1="1255.5" x2="1771.15" y2="1276.9" stroke="#000" stroke-width="9.7" stroke-linecap="round"/>
<g font-family="Liberation Sans, Arial, sans-serif" font-weight="bold" fill="#000" stroke="#000" stroke-width="0.8" stroke-linejoin="round" style="font-kerning:none">
<text x="662.0" y="100.4" font-size="60.7" textLength="236.3" lengthAdjust="spacingAndGlyphs" clip-path="url(#clip0)">Ag(111)</text>
<text x="861.3" y="277.7" font-size="59.6" textLength="232.5" lengthAdjust="spacingAndGlyphs">Ag(200)</text>
<text x="1228.3" y="284.1" font-size="60.2" textLength="235.0" lengthAdjust="spacingAndGlyphs">Ag(220)</text>
<text x="1509.0" y="277.1" font-size="60.4" textLength="234.2" lengthAdjust="spacingAndGlyphs" clip-path="url(#clip1)">Ag(311)</text>
<text x="328.4" y="315.7" font-size="61.2" textLength="173.4" lengthAdjust="spacingAndGlyphs">PCNF</text>
<text x="330.7" y="583.4" font-size="60.5" textLength="175.7" lengthAdjust="spacingAndGlyphs">HCNF</text>
<text x="311.8" y="819.3" font-size="60.9" textLength="315.6" lengthAdjust="spacingAndGlyphs">LCNF-20%</text>
<text x="287.6" y="1105.2" font-size="59.5" textLength="317.0" lengthAdjust="spacingAndGlyphs" clip-path="url(#clip2)">LCNF-31%</text>
<text x="629.3" y="1435.1" font-size="82.5" textLength="682.3" lengthAdjust="spacingAndGlyphs">2 Theta (Degree)</text>
<text x="95.2" y="1351.9" font-size="78.2" textLength="90.2" lengthAdjust="spacingAndGlyphs" clip-path="url(#clip3)">10</text>
<text x="327.6" y="1351.9" font-size="78.2" textLength="91.7" lengthAdjust="spacingAndGlyphs">20</text>
<text x="562.1" y="1351.9" font-size="78.2" textLength="89.6" lengthAdjust="spacingAndGlyphs">30</text>
<text x="794.7" y="1351.9" font-size="78.2" textLength="89.9" lengthAdjust="spacingAndGlyphs">40</text>
<text x="1028.1" y="1351.9" font-size="78.2" textLength="89.0" lengthAdjust="spacingAndGlyphs">50</text>
<text x="1259.9" y="1351.9" font-size="78.2" textLength="91.0" lengthAdjust="spacingAndGlyphs">60</text>
<text x="1492.4" y="1351.9" font-size="78.2" textLength="90.7" lengthAdjust="spacingAndGlyphs">70</text>
<text x="1725.9" y="1351.9" font-size="78.2" textLength="90.9" lengthAdjust="spacingAndGlyphs">80</text>
<text transform="translate(79.5,879.9) rotate(-90) scale(0.8468,1)" x="0" y="0" font-size="89.7" letter-spacing="2.53" stroke-width="0.4">Intensity (a.u)</text>
</g>
</svg>
</body></html>
